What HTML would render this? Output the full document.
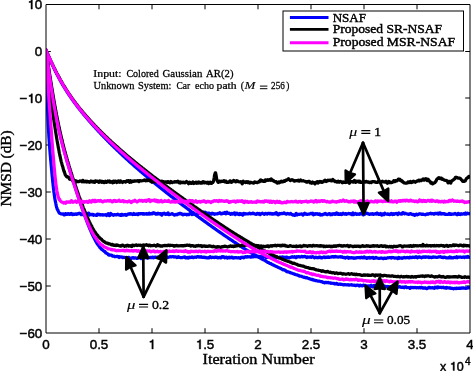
<!DOCTYPE html>
<html><head><meta charset="utf-8"><style>
html,body{margin:0;padding:0;background:#fff;}
svg{display:block;will-change:transform;}
.tk{font-family:"Liberation Sans",sans-serif;font-size:13.4px;fill:#000;stroke:#000;stroke-width:0.45px;}
.sf{font-family:"Liberation Serif",serif;fill:#000;stroke:#000;stroke-width:0.35px;}
</style></head><body>
<svg width="473" height="371" viewBox="0 0 473 371">
<rect width="473" height="371" fill="#fff"/>
<defs><clipPath id="ax"><rect x="46" y="4.5" width="424" height="328.5"/></clipPath></defs>
<path d="M99.0 333.0 V328.2 M99.0 4.5 V9.3 M152.0 333.0 V328.2 M152.0 4.5 V9.3 M205.0 333.0 V328.2 M205.0 4.5 V9.3 M258.0 333.0 V328.2 M258.0 4.5 V9.3 M311.0 333.0 V328.2 M311.0 4.5 V9.3 M364.0 333.0 V328.2 M364.0 4.5 V9.3 M417.0 333.0 V328.2 M417.0 4.5 V9.3 M46.0 51.50 H50.8 M470.0 51.50 H465.2 M46.0 98.00 H50.8 M470.0 98.00 H465.2 M46.0 145.00 H50.8 M470.0 145.00 H465.2 M46.0 192.00 H50.8 M470.0 192.00 H465.2 M46.0 239.00 H50.8 M470.0 239.00 H465.2 M46.0 286.00 H50.8 M470.0 286.00 H465.2" stroke="#000" stroke-width="1" fill="none"/>
<g clip-path="url(#ax)" fill="none" stroke-width="3.2" stroke-linejoin="round" stroke-linecap="round">
<path d="M46.0 50.2L46.0 50.6L46.0 51.0L46.0 51.4L46.0 51.8L46.0 52.2L46.1 52.6L46.1 53.0L46.1 53.4L46.1 53.8L46.1 54.2L46.1 54.6L46.1 55.0L46.1 55.4L46.1 55.8L46.1 56.2L46.2 56.6L46.2 57.0L46.2 57.4L46.2 57.8L46.2 58.2L46.2 58.6L46.2 59.0L46.2 59.4L46.2 59.8L46.2 60.2L46.3 60.6L46.3 61.0L46.3 61.4L46.3 61.8L46.3 62.2L46.3 62.6L46.3 63.0L46.3 63.4L46.3 63.8L46.3 64.2L46.4 64.6L46.4 65.0L46.4 65.4L46.4 65.8L46.4 66.2L46.4 66.6L46.4 67.0L46.4 67.4L46.4 67.8L46.4 68.2L46.5 68.6L46.5 69.0L46.5 69.4L46.5 69.8L46.5 70.2L46.5 70.6L46.5 71.0L46.5 71.4L46.5 71.8L46.5 72.2L46.6 72.6L46.6 73.0L46.6 73.4L46.6 73.8L46.6 74.2L46.6 74.6L46.6 75.0L46.6 75.4L46.6 75.8L46.7 76.2L46.7 76.6L46.7 77.0L46.7 77.4L46.7 77.8L46.7 78.2L46.7 78.6L46.7 79.0L46.7 79.4L46.7 79.8L46.8 80.2L46.8 80.6L46.8 81.0L46.8 81.4L46.8 81.8L46.8 82.2L46.8 82.6L46.8 83.0L46.8 83.4L46.9 83.8L46.9 84.2L46.9 84.6L46.9 85.0L46.9 85.4L46.9 85.8L46.9 86.2L46.9 86.6L46.9 87.0L47.0 87.4L47.0 87.8L47.0 88.2L47.0 88.6L47.0 89.0L47.0 89.4L47.0 89.8L47.0 90.2L47.0 90.6L47.1 91.0L47.1 91.4L47.1 91.8L47.1 92.2L47.1 92.6L47.1 93.0L47.1 93.4L47.1 93.8L47.1 94.2L47.2 94.6L47.2 95.0L47.2 95.4L47.2 95.8L47.2 96.2L47.2 96.6L47.2 97.0L47.2 97.4L47.3 97.8L47.3 98.2L47.3 98.6L47.3 99.0L47.3 99.4L47.3 99.8L47.3 100.2L47.3 100.6L47.4 101.0L47.4 101.4L47.4 101.8L47.4 102.2L47.4 102.6L47.4 103.0L47.4 103.4L47.4 103.8L47.5 104.2L47.5 104.6L47.5 105.0L47.5 105.4L47.5 105.8L47.5 106.2L47.5 106.6L47.6 107.0L47.6 107.4L47.6 107.8L47.6 108.2L47.6 108.6L47.6 109.0L47.6 109.4L47.6 109.8L47.7 110.2L47.7 110.6L47.7 111.0L47.7 111.4L47.7 111.8L47.7 112.2L47.8 112.6L47.8 113.0L47.8 113.4L47.8 113.8L47.8 114.2L47.8 114.6L47.8 115.0L47.9 115.4L47.9 115.8L47.9 116.2L47.9 116.6L47.9 117.0L47.9 117.4L48.0 117.8L48.0 118.2L48.0 118.6L48.0 119.0L48.0 119.4L48.0 119.8L48.1 120.2L48.1 120.6L48.1 121.0L48.1 121.4L48.1 121.8L48.1 122.2L48.2 122.6L48.2 123.0L48.2 123.4L48.2 123.8L48.2 124.2L48.2 124.6L48.3 125.0L48.3 125.4L48.3 125.8L48.3 126.2L48.3 126.6L48.4 127.0L48.4 127.4L48.4 127.8L48.4 128.2L48.4 128.6L48.5 129.0L48.5 129.4L48.5 129.8L48.5 130.2L48.6 130.6L48.6 131.0L48.6 131.4L48.6 131.8L48.6 132.2L48.7 132.6L48.7 133.0L48.7 133.3L48.7 133.7L48.8 134.2L48.8 134.6L48.8 135.0L48.8 135.4L48.8 135.8L48.9 136.2L48.9 136.6L48.9 136.9L48.9 137.3L49.0 137.8L49.0 138.2L49.0 138.5L49.1 138.9L49.1 139.4L49.1 139.8L49.1 140.2L49.2 140.5L49.2 140.9L49.2 141.3L49.2 141.7L49.3 142.1L49.3 142.6L49.3 143.0L49.4 143.4L49.4 143.7L49.4 144.1L49.4 144.5L49.5 144.9L49.5 145.3L49.5 145.7L49.6 146.1L49.6 146.5L49.6 146.9L49.7 147.3L49.7 147.7L49.7 148.1L49.7 148.5L49.8 148.9L49.8 149.3L49.8 149.7L49.9 150.1L49.9 150.5L49.9 150.9L50.0 151.3L50.0 151.7L50.0 152.1L50.1 152.5L50.1 152.9L50.1 153.3L50.2 153.7L50.2 154.0L50.2 154.5L50.3 154.9L50.3 155.3L50.3 155.7L50.4 156.1L50.4 156.5L50.4 156.9L50.5 157.3L50.5 157.7L50.5 158.1L50.6 158.5L50.6 158.9L50.6 159.3L50.7 159.7L50.7 160.1L50.7 160.4L50.8 160.9L50.8 161.3L50.9 161.7L50.9 162.1L50.9 162.5L51.0 162.8L51.0 163.2L51.0 163.6L51.1 164.1L51.1 164.5L51.1 164.8L51.2 165.2L51.2 165.7L51.2 166.1L51.3 166.4L51.3 166.8L51.4 167.2L51.4 167.6L51.4 168.0L51.5 168.5L51.5 168.9L51.5 169.3L51.6 169.7L51.6 170.1L51.7 170.4L51.7 170.9L51.7 171.2L51.8 171.6L51.8 172.0L51.8 172.5L51.9 172.9L51.9 173.3L52.0 173.7L52.0 174.2L52.0 174.6L52.1 175.0L52.1 175.4L52.2 175.7L52.2 176.1L52.2 176.5L52.3 176.9L52.3 177.3L52.4 177.6L52.4 178.0L52.4 178.4L52.5 178.9L52.5 179.2L52.6 179.6L52.6 180.1L52.6 180.5L52.7 180.9L52.7 181.4L52.8 181.9L52.8 182.2L52.8 182.6L52.9 183.0L52.9 183.3L53.0 183.7L53.0 184.1L53.1 184.7L53.1 185.1L53.1 185.4L53.2 185.7L53.2 186.1L53.3 186.6L53.3 187.0L53.4 187.3L53.4 187.7L53.5 188.3L53.5 188.8L53.6 189.2L53.6 189.5L53.7 189.8L53.7 190.2L53.8 190.6L53.8 191.1L53.8 191.6L53.9 192.1L54.0 192.4L54.0 192.7L54.1 193.0L54.1 193.2L54.2 193.7L54.2 194.2L54.3 194.9L54.3 195.3L54.4 195.5L54.4 195.6L54.5 195.9L54.5 196.6L54.6 197.2L54.7 197.4L54.7 197.8L54.8 198.2L54.8 198.4L54.9 199.0L55.0 199.6L55.0 199.8L55.1 200.1L55.2 200.5L55.2 200.7L55.3 201.2L55.4 201.7L55.5 202.0L55.5 202.4L55.6 202.6L55.7 202.7L55.8 203.3L55.9 203.8L55.9 204.2L56.0 204.7L56.1 205.2L56.2 205.5L56.3 205.9L56.4 206.2L56.5 206.8L56.6 207.4L56.8 207.7L56.9 207.8L57.0 208.2L57.1 209.0L57.3 209.4L57.4 209.6L57.6 209.8L57.8 209.9L57.9 210.1L58.1 210.7L58.3 211.4L58.6 211.8L58.8 212.1L59.1 212.7L59.4 213.1L59.7 213.3L60.0 213.5L60.3 213.5L60.7 213.6L61.0 213.9L61.4 214.0L61.7 214.0L62.1 214.0L62.4 214.2L62.8 214.0L63.1 213.8L63.5 213.8L63.8 214.4L64.2 214.9L64.5 214.9L64.9 214.4L65.2 213.7L65.6 213.6L65.9 213.7L66.3 214.0L66.6 214.4L67.0 214.4L67.3 214.3L67.7 214.1L68.0 213.7L68.4 213.5L68.7 213.7L69.1 214.1L69.4 214.4L69.8 214.5L70.1 214.3L70.5 213.7L70.8 213.6L71.2 213.7L71.5 213.5L71.9 213.8L72.2 214.4L72.6 214.7L72.9 214.6L73.3 214.2L73.6 214.1L74.0 214.3L74.3 214.1L74.7 214.3L75.0 214.4L75.4 214.0L75.7 213.8L76.1 214.0L76.4 214.3L76.8 214.3L77.1 214.2L77.5 214.0L77.8 213.5L78.2 213.5L78.5 213.8L78.9 213.5L79.2 213.2L79.6 213.3L79.9 213.5L80.3 213.7L80.6 213.8L81.0 214.3L81.3 214.7L81.7 214.6L82.0 214.6L82.4 214.3L82.7 213.8L83.1 213.7L83.4 213.9L83.8 214.1L84.1 214.1L84.5 214.5L84.8 214.2L85.2 213.8L85.5 214.4L85.9 214.7L86.2 214.3L86.6 214.1L86.9 213.7L87.3 213.7L87.6 213.7L88.0 213.7L88.3 213.2L88.7 213.2L89.0 214.3L89.4 215.0L89.7 214.6L90.1 214.5L90.4 214.4L90.8 214.4L91.1 214.7L91.5 214.8L91.8 214.3L92.2 214.4L92.5 214.4L92.9 214.3L93.2 215.1L93.6 215.3L93.9 214.9L94.3 215.0L94.6 214.9L95.0 214.8L95.3 215.1L95.7 215.1L96.0 215.1L96.4 215.5L96.7 215.5L97.1 215.0L97.4 214.2L97.8 214.2L98.1 214.7L98.5 214.6L98.8 214.5L99.2 214.4L99.5 214.4L99.9 214.6L100.2 215.0L100.6 214.7L100.9 214.7L101.3 214.9L101.6 215.0L102.0 214.6L102.3 214.6L102.7 214.9L103.0 215.1L103.4 215.0L103.7 214.8L104.1 214.8L104.4 214.8L104.8 214.9L105.1 214.8L105.5 214.6L105.8 214.8L106.2 215.3L106.5 215.5L106.9 215.1L107.2 215.0L107.6 214.9L107.9 214.0L108.3 213.6L108.6 214.0L109.0 214.9L109.3 215.6L109.7 215.5L110.0 215.2L110.4 214.4L110.7 213.5L111.1 213.7L111.4 214.7L111.8 214.7L112.1 214.5L112.5 214.7L112.8 214.7L113.2 215.2L113.5 215.3L113.9 214.7L114.2 214.5L114.6 214.7L114.9 214.7L115.3 214.8L115.6 214.7L116.0 215.0L116.3 214.9L116.7 214.6L117.0 214.5L117.4 214.5L117.7 214.2L118.1 214.4L118.4 214.7L118.8 214.8L119.1 214.8L119.5 215.1L119.8 214.8L120.2 214.7L120.5 215.4L120.9 215.5L121.2 214.9L121.6 214.4L121.9 214.5L122.3 214.4L122.6 214.7L123.0 215.2L123.3 215.0L123.7 214.8L124.0 214.7L124.4 214.7L124.7 214.9L125.1 214.8L125.4 214.5L125.8 214.8L126.1 215.3L126.5 214.9L126.8 214.7L127.2 214.9L127.5 214.4L127.9 214.0L128.2 214.1L128.6 213.9L128.9 213.9L129.3 214.1L129.6 213.9L130.0 213.7L130.3 213.6L130.7 213.9L131.0 214.1L131.4 213.9L131.7 214.0L132.1 214.4L132.4 214.4L132.8 214.6L133.1 214.5L133.5 213.9L133.8 213.5L134.2 213.9L134.5 214.3L134.9 214.4L135.2 214.3L135.6 214.5L135.9 214.4L136.3 214.0L136.6 214.2L137.0 214.1L137.3 213.8L137.7 214.1L138.0 214.6L138.4 214.3L138.7 213.6L139.1 213.7L139.4 213.8L139.8 213.8L140.1 213.5L140.5 213.5L140.8 213.8L141.2 213.7L141.5 213.6L141.9 213.6L142.2 213.7L142.6 214.1L142.9 214.1L143.3 213.6L143.6 213.5L144.0 213.8L144.3 214.2L144.7 214.2L145.0 214.0L145.4 213.8L145.7 213.8L146.1 213.6L146.4 213.6L146.8 214.0L147.1 213.8L147.5 213.8L147.8 214.2L148.2 214.1L148.5 213.8L148.9 213.4L149.2 213.2L149.6 213.8L149.9 214.1L150.3 213.9L150.6 213.9L151.0 213.5L151.3 213.4L151.7 213.8L152.0 213.9L152.4 213.9L152.7 213.4L153.1 213.0L153.4 212.7L153.8 212.8L154.1 212.9L154.5 213.1L154.8 213.5L155.2 213.3L155.5 213.4L155.9 214.2L156.2 213.8L156.6 213.6L156.9 214.2L157.3 214.2L157.6 213.5L158.0 213.1L158.3 213.5L158.7 214.0L159.0 213.9L159.4 213.7L159.7 214.0L160.1 214.1L160.4 213.6L160.8 213.5L161.1 213.8L161.5 214.8L161.8 215.1L162.2 214.7L162.5 214.2L162.9 213.9L163.2 213.4L163.6 213.5L163.9 213.3L164.3 213.2L164.6 213.5L165.0 213.9L165.3 214.3L165.7 214.4L166.0 214.1L166.4 213.9L166.7 214.1L167.1 214.3L167.4 214.2L167.8 213.4L168.1 212.9L168.5 213.8L168.8 214.7L169.2 214.5L169.5 214.3L169.9 214.4L170.2 214.4L170.6 214.2L170.9 214.0L171.3 214.0L171.6 213.9L172.0 213.6L172.3 213.6L172.7 214.0L173.0 214.5L173.4 214.5L173.7 214.5L174.1 214.7L174.4 215.0L174.8 214.8L175.1 214.8L175.5 214.9L175.8 214.5L176.2 214.4L176.5 214.7L176.9 214.8L177.2 214.5L177.6 214.2L177.9 214.0L178.3 213.8L178.6 214.1L179.0 213.8L179.3 213.4L179.7 213.4L180.0 213.3L180.4 213.4L180.7 213.8L181.1 213.9L181.4 214.1L181.8 213.9L182.1 214.1L182.5 214.6L182.8 214.9L183.2 214.8L183.5 214.5L183.9 214.3L184.2 214.4L184.6 214.5L184.9 214.3L185.3 214.3L185.6 214.3L186.0 214.3L186.3 214.6L186.7 214.8L187.0 214.4L187.4 214.3L187.7 214.5L188.1 214.6L188.4 214.6L188.8 214.6L189.1 214.4L189.5 213.8L189.8 213.7L190.2 213.7L190.5 213.8L190.9 213.5L191.2 213.6L191.6 214.1L191.9 214.6L192.3 214.5L192.6 214.4L193.0 214.2L193.3 213.4L193.7 212.9L194.0 213.3L194.4 213.8L194.7 214.4L195.1 214.4L195.4 214.1L195.8 214.6L196.1 214.7L196.5 214.3L196.8 214.2L197.2 214.4L197.5 213.8L197.9 213.3L198.2 213.1L198.6 213.0L198.9 213.2L199.3 213.4L199.6 213.4L200.0 213.3L200.3 213.2L200.7 213.3L201.0 213.2L201.4 213.1L201.7 212.8L202.1 212.9L202.4 212.9L202.8 212.9L203.1 212.6L203.5 212.1L203.8 212.4L204.2 213.1L204.5 213.1L204.9 212.4L205.2 212.1L205.6 212.5L205.9 212.9L206.3 212.9L206.6 213.1L207.0 213.6L207.3 213.9L207.7 213.6L208.0 213.2L208.4 213.2L208.7 213.1L209.1 213.0L209.4 213.5L209.8 213.5L210.1 213.6L210.5 214.0L210.8 214.1L211.2 214.1L211.5 214.2L211.9 213.7L212.2 213.2L212.6 213.3L212.9 213.6L213.3 213.5L213.6 213.5L214.0 213.9L214.3 214.3L214.7 214.4L215.0 214.1L215.4 213.8L215.7 213.9L216.1 213.9L216.4 213.8L216.8 214.0L217.1 213.8L217.5 213.6L217.8 213.8L218.2 213.7L218.5 213.4L218.9 213.0L219.2 213.0L219.6 212.9L219.9 212.7L220.3 213.0L220.6 213.8L221.0 213.8L221.3 213.7L221.7 213.8L222.0 213.6L222.4 213.4L222.7 213.1L223.1 213.2L223.4 213.4L223.8 213.5L224.1 213.3L224.5 212.7L224.8 212.4L225.2 212.9L225.5 213.6L225.9 213.8L226.2 213.3L226.6 212.4L226.9 212.2L227.3 212.8L227.6 213.2L228.0 213.4L228.3 213.5L228.7 213.4L229.0 213.1L229.4 213.2L229.7 213.6L230.1 213.8L230.4 214.1L230.8 214.4L231.1 214.0L231.5 213.6L231.8 213.4L232.2 213.6L232.5 214.0L232.9 214.1L233.2 214.0L233.6 213.9L233.9 213.6L234.3 212.8L234.6 212.9L235.0 214.2L235.3 214.5L235.7 213.8L236.0 213.2L236.4 213.4L236.7 213.7L237.1 213.2L237.4 213.6L237.8 214.2L238.1 214.3L238.5 214.3L238.8 214.5L239.2 214.6L239.5 213.9L239.9 213.5L240.2 214.1L240.6 214.5L240.9 214.4L241.3 214.3L241.6 213.9L242.0 213.8L242.3 214.6L242.7 215.0L243.0 214.7L243.4 213.9L243.7 213.4L244.1 213.4L244.4 213.8L244.8 214.2L245.1 214.0L245.5 213.6L245.8 213.8L246.2 213.9L246.5 213.9L246.9 213.9L247.2 213.9L247.6 214.0L247.9 214.0L248.3 213.8L248.6 213.7L249.0 213.7L249.3 213.4L249.7 213.1L250.0 213.5L250.4 213.8L250.7 213.9L251.1 213.7L251.4 213.6L251.8 213.7L252.1 213.5L252.5 213.2L252.8 213.2L253.2 213.6L253.5 213.3L253.9 213.3L254.2 213.8L254.6 213.9L254.9 214.0L255.3 214.1L255.6 214.2L256.0 214.4L256.3 214.4L256.7 213.7L257.0 213.4L257.4 213.4L257.7 213.4L258.1 213.8L258.4 214.0L258.8 213.5L259.1 213.4L259.5 213.8L259.8 214.2L260.2 214.6L260.5 214.3L260.9 213.9L261.2 213.6L261.6 213.6L261.9 213.4L262.3 213.2L262.6 213.4L263.0 213.5L263.3 213.5L263.7 213.8L264.0 214.3L264.4 214.4L264.7 214.1L265.1 213.5L265.4 213.3L265.8 213.5L266.1 213.7L266.5 213.7L266.8 213.8L267.2 214.1L267.5 213.8L267.9 213.4L268.2 213.4L268.6 213.5L268.9 213.5L269.3 213.4L269.6 213.6L270.0 213.9L270.3 213.7L270.7 213.4L271.0 213.4L271.4 213.8L271.7 214.1L272.1 214.1L272.4 213.7L272.8 213.6L273.1 214.1L273.5 214.1L273.8 214.0L274.2 213.7L274.5 213.4L274.9 213.5L275.2 213.9L275.6 214.0L275.9 213.3L276.3 212.6L276.6 213.1L277.0 213.9L277.3 214.3L277.7 214.6L278.0 214.9L278.4 214.8L278.7 214.5L279.1 214.0L279.4 213.5L279.8 213.8L280.1 213.8L280.5 213.6L280.8 213.8L281.2 213.7L281.5 213.5L281.9 213.4L282.2 213.5L282.6 213.6L282.9 213.6L283.3 213.4L283.6 213.0L284.0 212.9L284.3 212.9L284.7 213.3L285.0 213.8L285.4 213.8L285.7 213.8L286.1 214.0L286.4 214.2L286.8 213.8L287.1 213.7L287.5 213.4L287.8 213.5L288.2 213.7L288.5 213.8L288.9 214.0L289.2 214.1L289.6 213.8L289.9 213.8L290.3 213.6L290.6 213.4L291.0 213.7L291.3 214.1L291.7 214.4L292.0 214.5L292.4 214.7L292.7 214.8L293.1 215.1L293.4 215.0L293.8 214.9L294.1 215.0L294.5 215.2L294.8 215.4L295.2 215.2L295.5 214.4L295.9 213.6L296.2 213.4L296.6 214.1L296.9 214.8L297.3 214.8L297.6 214.6L298.0 214.4L298.3 214.3L298.7 214.4L299.0 214.4L299.4 214.2L299.7 214.3L300.1 214.2L300.4 214.2L300.8 214.2L301.1 214.1L301.5 213.9L301.8 213.9L302.2 214.1L302.5 214.5L302.9 215.1L303.2 214.6L303.6 214.1L303.9 213.9L304.3 213.5L304.6 213.3L305.0 213.9L305.3 214.1L305.7 213.8L306.0 213.8L306.4 213.8L306.7 214.1L307.1 214.4L307.4 214.4L307.8 214.3L308.1 214.1L308.5 214.2L308.8 214.1L309.2 214.2L309.5 214.2L309.9 213.8L310.2 213.6L310.6 213.7L310.9 213.4L311.3 213.3L311.6 213.5L312.0 213.9L312.3 213.6L312.7 213.3L313.0 214.1L313.4 214.9L313.7 214.7L314.1 214.0L314.4 213.9L314.8 214.2L315.1 214.3L315.5 213.9L315.8 213.7L316.2 214.1L316.5 214.0L316.9 213.6L317.2 213.7L317.6 214.0L317.9 214.1L318.3 214.4L318.6 214.5L319.0 214.3L319.3 213.9L319.7 213.8L320.0 214.4L320.4 215.0L320.7 215.1L321.1 214.6L321.4 214.5L321.8 215.0L322.1 215.0L322.5 214.8L322.8 214.5L323.2 214.2L323.5 214.2L323.9 214.1L324.2 214.1L324.6 214.1L324.9 213.7L325.3 213.4L325.6 213.7L326.0 214.2L326.3 214.3L326.7 214.2L327.0 214.5L327.4 214.7L327.7 214.5L328.1 214.1L328.4 214.1L328.8 213.9L329.1 213.6L329.5 213.5L329.8 213.8L330.2 214.2L330.5 214.7L330.9 214.4L331.2 214.1L331.6 214.2L331.9 214.5L332.3 214.0L332.6 213.8L333.0 213.7L333.3 213.9L333.7 214.2L334.0 214.2L334.4 213.8L334.7 214.1L335.1 214.4L335.4 214.1L335.8 213.7L336.1 213.2L336.5 213.0L336.8 213.7L337.2 214.2L337.5 213.7L337.9 213.4L338.2 213.8L338.6 214.2L338.9 214.5L339.3 214.5L339.6 214.1L340.0 213.8L340.3 213.7L340.7 214.2L341.0 214.4L341.4 214.6L341.7 214.5L342.1 214.1L342.4 213.8L342.8 213.3L343.1 213.2L343.5 213.6L343.8 213.8L344.2 213.8L344.5 214.1L344.9 214.2L345.2 214.0L345.6 213.6L345.9 213.5L346.3 214.1L346.6 214.3L347.0 214.0L347.3 213.8L347.7 213.8L348.0 213.8L348.4 213.5L348.7 213.3L349.1 213.7L349.4 213.5L349.8 213.6L350.1 213.8L350.5 213.8L350.8 213.7L351.2 214.3L351.5 214.6L351.9 214.6L352.2 214.4L352.6 213.4L352.9 212.9L353.3 213.8L353.6 214.6L354.0 214.5L354.3 214.0L354.7 213.9L355.0 213.7L355.4 213.3L355.7 213.4L356.1 213.9L356.4 214.3L356.8 214.3L357.1 214.4L357.5 214.0L357.8 213.8L358.2 214.2L358.5 214.1L358.9 214.3L359.2 214.4L359.6 213.8L359.9 213.6L360.3 214.0L360.6 213.8L361.0 213.3L361.3 213.2L361.7 213.7L362.0 214.1L362.4 214.1L362.7 214.4L363.1 214.8L363.4 214.9L363.8 214.8L364.1 214.3L364.5 213.8L364.8 214.1L365.2 214.1L365.5 213.7L365.9 213.2L366.2 213.0L366.6 213.2L366.9 213.5L367.3 213.4L367.6 213.4L368.0 213.7L368.3 214.0L368.7 214.0L369.0 214.2L369.4 214.4L369.7 214.2L370.1 214.0L370.4 213.9L370.8 214.0L371.1 214.2L371.5 214.1L371.8 213.8L372.2 213.6L372.5 213.7L372.9 214.0L373.2 214.5L373.6 214.4L373.9 213.9L374.3 214.0L374.6 214.0L375.0 214.0L375.3 213.7L375.7 213.6L376.0 214.1L376.4 214.1L376.7 213.3L377.1 213.0L377.4 213.2L377.8 213.4L378.1 213.8L378.5 214.3L378.8 214.5L379.2 214.3L379.5 214.5L379.9 214.4L380.2 213.7L380.6 213.5L380.9 214.0L381.3 214.6L381.6 215.1L382.0 215.0L382.3 214.7L382.7 214.5L383.0 213.9L383.4 213.8L383.7 214.1L384.1 214.5L384.4 213.9L384.8 213.2L385.1 213.7L385.5 213.9L385.8 214.0L386.2 214.0L386.5 214.1L386.9 214.2L387.2 214.0L387.6 213.9L387.9 214.4L388.3 214.3L388.6 214.2L389.0 214.2L389.3 214.2L389.7 214.6L390.0 214.4L390.4 214.2L390.7 214.0L391.1 213.5L391.4 213.4L391.8 213.9L392.1 214.3L392.5 214.5L392.8 214.1L393.2 213.7L393.5 214.0L393.9 214.4L394.2 214.3L394.6 213.9L394.9 213.6L395.3 213.8L395.6 213.7L396.0 213.6L396.3 213.4L396.7 213.6L397.0 213.7L397.4 214.2L397.7 214.6L398.1 214.1L398.4 213.3L398.8 212.9L399.1 213.2L399.5 213.7L399.8 213.8L400.2 213.7L400.5 213.8L400.9 213.9L401.2 214.1L401.6 214.2L401.9 213.8L402.3 213.3L402.6 212.7L403.0 212.6L403.3 212.8L403.7 213.0L404.0 213.6L404.4 213.8L404.7 213.5L405.1 213.3L405.4 213.3L405.8 213.5L406.1 213.5L406.5 213.8L406.8 213.9L407.2 214.0L407.5 214.1L407.9 214.0L408.2 214.1L408.6 214.4L408.9 214.3L409.3 214.2L409.6 214.0L410.0 213.7L410.3 213.6L410.7 213.6L411.0 213.8L411.4 213.8L411.7 214.1L412.1 214.5L412.4 214.5L412.8 214.7L413.1 214.7L413.5 214.5L413.8 214.3L414.2 214.8L414.5 215.4L414.9 215.3L415.2 215.0L415.6 214.8L415.9 214.6L416.3 214.1L416.6 214.2L417.0 214.7L417.3 214.8L417.7 214.6L418.0 214.4L418.4 214.4L418.7 214.2L419.1 213.9L419.4 213.9L419.8 214.0L420.1 213.8L420.5 213.8L420.8 214.0L421.2 214.1L421.5 214.4L421.9 214.4L422.2 214.2L422.6 214.0L422.9 214.1L423.3 214.5L423.6 214.5L424.0 214.4L424.3 214.5L424.7 214.5L425.0 214.7L425.4 214.8L425.7 214.5L426.1 214.4L426.4 214.3L426.8 214.0L427.1 213.8L427.5 214.2L427.8 214.3L428.2 214.1L428.5 214.0L428.9 213.8L429.2 213.7L429.6 213.6L429.9 213.3L430.3 213.3L430.6 213.2L431.0 213.6L431.3 213.9L431.7 213.7L432.0 213.6L432.4 213.7L432.7 213.6L433.1 213.5L433.4 213.7L433.8 214.2L434.1 214.2L434.5 213.7L434.8 213.4L435.2 213.4L435.5 213.3L435.9 213.4L436.2 213.5L436.6 213.7L436.9 213.5L437.3 213.8L437.6 213.6L438.0 213.1L438.3 213.4L438.7 214.1L439.0 213.8L439.4 213.0L439.7 212.8L440.1 212.8L440.4 212.9L440.8 213.4L441.1 214.0L441.5 213.8L441.8 213.5L442.2 213.5L442.5 213.8L442.9 213.8L443.2 213.7L443.6 213.8L443.9 213.5L444.3 213.5L444.6 214.1L445.0 214.3L445.3 214.0L445.7 214.1L446.0 214.4L446.4 214.5L446.7 214.5L447.1 214.5L447.4 214.3L447.8 214.3L448.1 214.4L448.5 214.3L448.8 214.2L449.2 213.5L449.5 213.6L449.9 214.4L450.2 214.3L450.6 214.0L450.9 214.3L451.3 214.4L451.6 214.2L452.0 214.2L452.3 214.1L452.7 214.1L453.0 214.2L453.4 214.2L453.7 213.8L454.1 213.9L454.4 214.0L454.8 213.5L455.1 213.4L455.5 213.9L455.8 214.1L456.2 214.0L456.5 214.0L456.9 214.2L457.2 214.7L457.6 214.0L457.9 213.5L458.3 213.4L458.6 213.9L459.0 214.4L459.3 214.3L459.7 214.2L460.0 214.2L460.4 214.5L460.7 214.1L461.1 213.7L461.4 214.0L461.8 214.1L462.1 214.2L462.5 214.2L462.8 214.1L463.2 213.9L463.5 213.5L463.9 213.5L464.2 214.0L464.6 214.1L464.9 213.9L465.3 213.5L465.6 213.0L466.0 213.4L466.3 214.0L466.7 213.8L467.0 213.4L467.4 213.2L467.7 213.4L468.1 213.6L468.4 213.7L468.8 213.6L469.1 213.5L469.5 213.5L469.8 213.7L470.0 213.9" stroke="#0000ff"/>
<path d="M46.0 50.2L46.1 50.6L46.1 51.0L46.2 51.4L46.2 51.8L46.3 52.2L46.3 52.6L46.4 53.0L46.4 53.4L46.5 53.8L46.5 54.2L46.6 54.6L46.7 55.0L46.7 55.4L46.8 55.8L46.8 56.1L46.9 56.5L46.9 56.9L47.0 57.3L47.0 57.7L47.1 58.1L47.2 58.5L47.2 58.9L47.3 59.3L47.3 59.7L47.4 60.1L47.4 60.5L47.5 60.9L47.5 61.3L47.6 61.7L47.7 62.1L47.7 62.5L47.8 62.9L47.8 63.3L47.9 63.7L47.9 64.1L48.0 64.5L48.1 64.9L48.1 65.3L48.2 65.7L48.2 66.0L48.3 66.4L48.3 66.8L48.4 67.2L48.5 67.6L48.5 68.0L48.6 68.4L48.6 68.8L48.7 69.2L48.7 69.6L48.8 70.0L48.9 70.4L48.9 70.8L49.0 71.2L49.0 71.6L49.1 72.0L49.1 72.4L49.2 72.8L49.3 73.2L49.3 73.6L49.4 74.0L49.4 74.4L49.5 74.8L49.5 75.1L49.6 75.5L49.7 75.9L49.7 76.3L49.8 76.7L49.8 77.1L49.9 77.5L50.0 77.9L50.0 78.3L50.1 78.7L50.1 79.1L50.2 79.5L50.3 79.9L50.3 80.3L50.4 80.7L50.4 81.1L50.5 81.5L50.6 81.9L50.6 82.3L50.7 82.7L50.7 83.1L50.8 83.4L50.9 83.8L50.9 84.2L51.0 84.6L51.0 85.0L51.1 85.4L51.2 85.8L51.2 86.2L51.3 86.6L51.3 87.0L51.4 87.4L51.5 87.8L51.5 88.2L51.6 88.6L51.6 89.0L51.7 89.4L51.8 89.8L51.8 90.2L51.9 90.6L52.0 91.0L52.0 91.3L52.1 91.7L52.1 92.1L52.2 92.5L52.3 92.9L52.3 93.3L52.4 93.7L52.5 94.1L52.5 94.5L52.6 94.9L52.7 95.3L52.7 95.7L52.8 96.1L52.8 96.5L52.9 96.9L53.0 97.3L53.0 97.7L53.1 98.1L53.2 98.4L53.2 98.8L53.3 99.2L53.4 99.6L53.4 100.0L53.5 100.4L53.6 100.8L53.6 101.2L53.7 101.6L53.8 102.0L53.8 102.4L53.9 102.8L54.0 103.2L54.0 103.6L54.1 104.0L54.2 104.4L54.2 104.7L54.3 105.1L54.4 105.5L54.4 105.9L54.5 106.3L54.6 106.7L54.7 107.1L54.7 107.5L54.8 107.9L54.9 108.3L54.9 108.7L55.0 109.1L55.1 109.5L55.1 109.9L55.2 110.3L55.3 110.7L55.4 111.0L55.4 111.4L55.5 111.8L55.6 112.2L55.6 112.6L55.7 113.0L55.8 113.4L55.9 113.8L55.9 114.2L56.0 114.6L56.1 115.0L56.2 115.4L56.2 115.8L56.3 116.1L56.4 116.5L56.5 116.9L56.5 117.3L56.6 117.7L56.7 118.1L56.8 118.5L56.8 118.9L56.9 119.3L57.0 119.7L57.1 120.1L57.1 120.5L57.2 120.9L57.3 121.2L57.4 121.6L57.5 122.0L57.5 122.4L57.6 122.8L57.7 123.2L57.8 123.6L57.9 124.0L57.9 124.4L58.0 124.8L58.1 125.2L58.2 125.5L58.3 125.9L58.3 126.3L58.4 126.7L58.5 127.1L58.6 127.5L58.7 127.9L58.8 128.3L58.8 128.7L58.9 129.1L59.0 129.5L59.1 129.8L59.2 130.2L59.3 130.6L59.4 131.0L59.4 131.4L59.5 131.8L59.6 132.2L59.7 132.6L59.8 133.0L59.9 133.4L60.0 133.7L60.1 134.1L60.1 134.5L60.2 134.9L60.3 135.3L60.4 135.7L60.5 136.1L60.6 136.5L60.7 136.9L60.8 137.2L60.9 137.6L61.0 138.0L61.1 138.4L61.2 138.8L61.2 139.2L61.3 139.6L61.4 140.0L61.5 140.3L61.6 140.7L61.7 141.1L61.8 141.5L61.9 141.9L62.0 142.3L62.1 142.7L62.2 143.1L62.3 143.4L62.4 143.8L62.5 144.2L62.6 144.6L62.7 145.0L62.8 145.4L62.9 145.8L63.0 146.2L63.1 146.5L63.2 146.9L63.3 147.3L63.4 147.7L63.5 148.1L63.6 148.5L63.7 148.9L63.8 149.3L63.9 149.6L64.0 150.0L64.1 150.4L64.2 150.8L64.3 151.2L64.4 151.6L64.5 152.0L64.6 152.3L64.7 152.7L64.8 153.1L64.9 153.5L65.1 153.9L65.2 154.3L65.3 154.7L65.4 155.0L65.5 155.4L65.6 155.8L65.7 156.2L65.8 156.6L65.9 157.0L66.0 157.3L66.1 157.7L66.2 158.1L66.3 158.5L66.5 158.9L66.6 159.3L66.7 159.6L66.8 160.0L66.9 160.4L67.0 160.8L67.1 161.2L67.2 161.6L67.3 162.0L67.5 162.3L67.6 162.7L67.7 163.1L67.8 163.5L67.9 163.9L68.0 164.2L68.1 164.6L68.2 165.0L68.4 165.4L68.5 165.8L68.6 166.2L68.7 166.6L68.8 166.9L68.9 167.3L69.0 167.7L69.2 168.1L69.3 168.5L69.4 168.9L69.5 169.2L69.6 169.6L69.7 170.0L69.9 170.4L70.0 170.8L70.1 171.1L70.2 171.5L70.3 171.9L70.4 172.3L70.6 172.7L70.7 173.0L70.8 173.4L70.9 173.8L71.0 174.2L71.1 174.6L71.3 175.0L71.4 175.3L71.5 175.7L71.6 176.1L71.7 176.5L71.9 176.9L72.0 177.2L72.1 177.6L72.2 178.0L72.3 178.4L72.5 178.8L72.6 179.2L72.7 179.5L72.8 179.9L72.9 180.3L73.1 180.7L73.2 181.1L73.3 181.4L73.4 181.8L73.5 182.2L73.7 182.6L73.8 183.0L73.9 183.3L74.0 183.7L74.1 184.1L74.3 184.5L74.4 184.9L74.5 185.2L74.6 185.6L74.8 186.0L74.9 186.4L75.0 186.8L75.1 187.2L75.2 187.5L75.4 187.9L75.5 188.3L75.6 188.7L75.7 189.0L75.9 189.4L76.0 189.8L76.1 190.2L76.2 190.6L76.4 191.0L76.5 191.3L76.6 191.7L76.7 192.1L76.8 192.5L77.0 192.9L77.1 193.2L77.2 193.6L77.3 194.0L77.5 194.4L77.6 194.8L77.7 195.1L77.8 195.5L78.0 195.9L78.1 196.3L78.2 196.7L78.3 197.1L78.5 197.4L78.6 197.8L78.7 198.2L78.9 198.6L79.0 198.9L79.1 199.3L79.2 199.7L79.4 200.1L79.5 200.4L79.6 200.8L79.7 201.2L79.9 201.6L80.0 202.0L80.1 202.4L80.3 202.7L80.4 203.1L80.5 203.5L80.6 203.9L80.8 204.3L80.9 204.6L81.0 205.0L81.2 205.4L81.3 205.8L81.4 206.2L81.5 206.5L81.7 206.9L81.8 207.3L81.9 207.6L82.1 208.0L82.2 208.4L82.3 208.8L82.5 209.2L82.6 209.5L82.7 209.9L82.9 210.3L83.0 210.7L83.1 211.1L83.3 211.5L83.4 211.8L83.5 212.2L83.7 212.5L83.8 212.9L83.9 213.3L84.1 213.8L84.2 214.1L84.3 214.5L84.5 214.9L84.6 215.2L84.7 215.6L84.9 215.9L85.0 216.3L85.2 216.8L85.3 217.1L85.4 217.5L85.6 217.9L85.7 218.2L85.8 218.6L86.0 219.0L86.1 219.3L86.3 219.7L86.4 220.1L86.5 220.5L86.7 220.8L86.8 221.1L87.0 221.5L87.1 222.0L87.3 222.4L87.4 222.9L87.5 223.3L87.7 223.6L87.8 223.9L88.0 224.3L88.1 224.7L88.3 225.0L88.4 225.3L88.6 225.7L88.7 226.1L88.9 226.5L89.0 226.9L89.2 227.1L89.3 227.5L89.5 227.9L89.6 228.4L89.8 228.7L89.9 229.1L90.1 229.3L90.3 229.7L90.4 230.1L90.6 230.5L90.7 230.8L90.9 231.2L91.1 231.6L91.2 232.0L91.4 232.3L91.5 232.6L91.7 233.0L91.9 233.5L92.0 233.9L92.2 234.2L92.4 234.4L92.6 234.9L92.7 235.3L92.9 235.7L93.1 236.0L93.3 236.3L93.4 236.7L93.6 237.1L93.8 237.4L94.0 237.7L94.2 238.1L94.3 238.4L94.5 238.7L94.7 239.2L94.9 239.6L95.1 240.0L95.3 240.3L95.5 240.7L95.7 241.2L95.9 241.6L96.1 241.8L96.3 241.9L96.5 242.3L96.7 242.8L96.9 243.3L97.1 243.5L97.3 243.9L97.6 244.3L97.8 244.6L98.0 244.9L98.2 245.2L98.5 245.4L98.7 245.7L98.9 246.1L99.2 246.4L99.4 246.7L99.7 247.2L99.9 247.5L100.2 247.6L100.4 248.0L100.7 248.4L100.9 248.6L101.2 248.9L101.5 249.2L101.8 249.5L102.0 249.6L102.3 249.7L102.6 249.9L102.9 250.3L103.2 250.6L103.5 250.6L103.8 251.0L104.1 251.4L104.4 251.5L104.7 251.5L105.1 251.7L105.4 252.4L105.7 252.9L106.1 253.0L106.4 253.1L106.7 253.4L107.1 253.5L107.4 253.7L107.8 253.8L108.1 254.2L108.5 254.9L108.8 255.2L109.2 255.1L109.5 255.0L109.9 254.9L110.2 255.0L110.6 255.2L110.9 255.0L111.3 255.1L111.6 255.3L112.0 255.5L112.3 256.0L112.7 256.2L113.0 256.2L113.4 256.1L113.7 256.0L114.1 256.1L114.4 256.5L114.8 256.7L115.1 256.6L115.5 256.5L115.8 256.6L116.2 256.7L116.5 256.4L116.9 256.3L117.2 256.4L117.6 256.3L117.9 256.3L118.3 256.7L118.6 257.2L119.0 257.5L119.3 257.1L119.7 256.7L120.0 256.8L120.4 257.0L120.7 257.0L121.1 257.1L121.4 257.1L121.8 256.8L122.1 257.0L122.5 257.4L122.8 257.6L123.2 257.5L123.5 257.4L123.9 257.4L124.2 257.3L124.6 257.4L124.9 257.4L125.3 257.6L125.6 257.9L126.0 258.0L126.3 257.8L126.7 257.9L127.0 258.1L127.4 258.0L127.7 257.9L128.1 257.7L128.4 257.3L128.8 257.4L129.1 257.8L129.5 258.1L129.8 258.2L130.2 258.0L130.5 258.2L130.9 258.4L131.2 258.4L131.6 257.9L131.9 257.8L132.3 257.9L132.6 257.9L133.0 257.6L133.3 257.5L133.7 257.8L134.0 258.2L134.4 258.1L134.7 257.8L135.1 257.8L135.4 257.9L135.8 258.0L136.1 258.0L136.5 258.1L136.8 258.5L137.2 258.4L137.5 258.1L137.9 257.9L138.2 257.8L138.6 257.8L138.9 257.8L139.3 257.7L139.6 257.7L140.0 257.7L140.3 257.7L140.7 258.2L141.0 258.5L141.4 257.9L141.7 257.7L142.1 258.0L142.4 258.3L142.8 258.5L143.1 258.3L143.5 258.1L143.8 257.7L144.2 257.5L144.5 257.7L144.9 257.9L145.2 257.5L145.6 257.3L145.9 257.4L146.3 257.6L146.6 257.7L147.0 258.0L147.3 258.2L147.7 257.9L148.0 257.5L148.4 257.4L148.7 257.5L149.1 257.5L149.4 257.7L149.8 257.5L150.1 257.3L150.5 257.4L150.8 257.6L151.2 257.6L151.5 257.3L151.9 257.4L152.2 257.6L152.6 257.5L152.9 257.2L153.3 257.4L153.6 257.8L154.0 257.6L154.3 257.2L154.7 257.3L155.0 257.2L155.4 257.1L155.7 257.2L156.1 257.5L156.4 257.5L156.8 257.5L157.1 257.3L157.5 257.1L157.8 257.2L158.2 257.4L158.5 257.3L158.9 257.4L159.2 257.6L159.6 257.7L159.9 257.8L160.3 257.8L160.6 257.6L161.0 257.5L161.3 257.3L161.7 257.4L162.0 257.5L162.4 257.5L162.7 257.7L163.1 257.6L163.4 257.4L163.8 257.3L164.1 257.2L164.5 257.2L164.8 257.2L165.2 257.2L165.5 257.2L165.9 257.2L166.2 257.6L166.6 257.4L166.9 256.9L167.3 257.0L167.6 257.2L168.0 257.5L168.3 257.3L168.7 257.1L169.0 257.1L169.4 257.0L169.7 256.8L170.1 256.6L170.4 256.7L170.8 256.8L171.1 257.0L171.5 257.0L171.8 256.8L172.2 256.7L172.5 256.7L172.9 256.6L173.2 256.5L173.6 256.8L173.9 257.1L174.3 257.0L174.6 256.8L175.0 256.8L175.3 256.8L175.7 256.9L176.0 257.1L176.4 257.3L176.7 257.6L177.1 257.5L177.4 257.2L177.8 257.0L178.1 256.8L178.5 256.7L178.8 257.2L179.2 257.5L179.5 257.5L179.9 257.4L180.2 257.5L180.6 257.6L180.9 257.5L181.3 257.6L181.6 257.7L182.0 257.6L182.3 257.4L182.7 257.4L183.0 257.3L183.4 257.1L183.7 257.2L184.1 257.1L184.4 256.8L184.8 257.0L185.1 257.6L185.5 257.8L185.8 257.7L186.2 257.7L186.5 257.8L186.9 257.6L187.2 257.4L187.6 257.6L187.9 258.0L188.3 258.1L188.6 257.7L189.0 257.2L189.3 257.1L189.7 257.4L190.0 257.6L190.4 257.4L190.7 257.3L191.1 257.4L191.4 257.4L191.8 257.1L192.1 256.9L192.5 257.1L192.8 257.5L193.2 257.6L193.5 257.7L193.9 257.4L194.2 257.1L194.6 257.2L194.9 257.1L195.3 257.0L195.6 257.0L196.0 257.1L196.3 257.3L196.7 257.1L197.0 256.8L197.4 256.5L197.7 256.5L198.1 256.7L198.4 256.8L198.8 256.9L199.1 257.1L199.5 257.0L199.8 256.8L200.2 256.9L200.5 257.1L200.9 256.9L201.2 256.7L201.6 257.0L201.9 257.4L202.3 257.5L202.6 257.5L203.0 257.4L203.3 257.3L203.7 257.0L204.0 257.1L204.4 257.4L204.7 257.7L205.1 257.7L205.4 257.6L205.8 257.3L206.1 257.4L206.5 257.8L206.8 258.0L207.2 258.0L207.5 257.8L207.9 257.7L208.2 257.9L208.6 257.9L208.9 257.9L209.3 257.6L209.6 257.0L210.0 256.7L210.3 256.9L210.7 257.4L211.0 257.7L211.4 257.7L211.7 257.6L212.1 257.3L212.4 257.2L212.8 257.3L213.1 257.3L213.5 257.3L213.8 257.5L214.2 257.6L214.5 257.4L214.9 257.2L215.2 257.2L215.6 257.1L215.9 257.2L216.3 257.6L216.6 257.5L217.0 257.2L217.3 257.3L217.7 257.6L218.0 257.8L218.4 257.8L218.7 257.7L219.1 257.5L219.4 257.4L219.8 257.4L220.1 257.7L220.5 257.9L220.8 258.0L221.2 257.7L221.5 257.1L221.9 256.7L222.2 256.7L222.6 257.0L222.9 257.1L223.3 256.8L223.6 256.7L224.0 257.1L224.3 257.6L224.7 257.8L225.0 257.8L225.4 257.5L225.7 257.2L226.1 257.1L226.4 257.0L226.8 257.3L227.1 257.9L227.5 258.2L227.8 258.0L228.2 257.7L228.5 257.5L228.9 257.3L229.2 257.2L229.6 257.5L229.9 257.8L230.3 257.6L230.6 257.4L231.0 257.3L231.3 257.7L231.7 257.6L232.0 257.1L232.4 257.3L232.7 257.8L233.1 258.0L233.4 257.7L233.8 257.8L234.1 258.0L234.5 257.9L234.8 257.7L235.2 257.5L235.5 257.5L235.9 257.6L236.2 257.7L236.6 257.6L236.9 257.8L237.3 258.0L237.6 258.0L238.0 257.8L238.3 257.7L238.7 257.7L239.0 257.8L239.4 257.8L239.7 257.9L240.1 258.3L240.4 258.3L240.8 257.7L241.1 257.4L241.5 257.3L241.8 257.5L242.2 257.5L242.5 257.3L242.9 257.1L243.2 257.5L243.6 257.9L243.9 257.9L244.3 257.5L244.6 257.1L245.0 257.0L245.3 256.8L245.7 256.6L246.0 256.8L246.4 257.1L246.7 257.2L247.1 256.9L247.4 256.6L247.8 256.6L248.1 256.9L248.5 257.0L248.8 257.0L249.2 256.9L249.5 257.0L249.9 256.9L250.2 256.7L250.6 256.8L250.9 257.2L251.3 257.0L251.6 256.7L252.0 256.5L252.3 256.5L252.7 256.9L253.0 257.0L253.4 256.6L253.7 256.3L254.1 256.0L254.4 256.4L254.8 256.7L255.1 256.7L255.5 256.7L255.8 256.5L256.2 256.1L256.5 256.1L256.9 256.4L257.2 256.6L257.6 256.4L257.9 256.3L258.3 256.3L258.6 256.4L259.0 256.8L259.3 256.6L259.7 256.3L260.0 256.5L260.4 256.8L260.7 257.0L261.1 256.9L261.4 256.7L261.8 256.8L262.1 256.9L262.5 257.0L262.8 257.0L263.2 256.4L263.5 256.2L263.9 256.2L264.2 256.1L264.6 256.1L264.9 256.7L265.3 257.0L265.6 257.0L266.0 257.4L266.3 257.8L266.7 257.4L267.0 256.9L267.4 256.9L267.7 257.0L268.1 257.0L268.4 257.2L268.8 257.2L269.1 257.3L269.5 257.1L269.8 256.9L270.2 256.7L270.5 256.6L270.9 256.8L271.2 257.0L271.6 257.1L271.9 257.1L272.3 257.3L272.6 257.6L273.0 257.6L273.3 257.4L273.7 257.2L274.0 257.4L274.4 257.6L274.7 257.4L275.1 257.2L275.4 257.3L275.8 257.0L276.1 256.6L276.5 256.7L276.8 257.0L277.2 257.3L277.5 257.5L277.9 257.7L278.2 257.8L278.6 257.6L278.9 257.4L279.3 257.3L279.6 257.1L280.0 257.0L280.3 257.1L280.7 257.3L281.0 257.3L281.4 257.4L281.7 257.4L282.1 256.9L282.4 256.9L282.8 257.1L283.1 257.2L283.5 257.1L283.8 257.4L284.2 257.7L284.5 257.4L284.9 257.3L285.2 257.4L285.6 257.3L285.9 257.2L286.3 257.3L286.6 257.0L287.0 257.0L287.3 257.2L287.7 257.4L288.0 257.6L288.4 257.7L288.7 257.8L289.1 257.8L289.4 257.8L289.8 257.6L290.1 257.3L290.5 257.3L290.8 257.4L291.2 257.2L291.5 257.1L291.9 256.8L292.2 256.7L292.6 257.1L292.9 257.2L293.3 257.0L293.6 257.1L294.0 256.9L294.3 256.6L294.7 256.7L295.0 257.2L295.4 257.4L295.7 257.6L296.1 257.7L296.4 257.3L296.8 256.7L297.1 256.7L297.5 257.0L297.8 256.9L298.2 256.7L298.5 256.6L298.9 256.6L299.2 256.7L299.6 257.0L299.9 257.1L300.3 257.1L300.6 257.0L301.0 256.7L301.3 256.5L301.7 256.4L302.0 256.4L302.4 256.8L302.7 257.0L303.1 256.8L303.4 256.5L303.8 256.5L304.1 256.6L304.5 256.4L304.8 256.4L305.2 256.6L305.5 256.7L305.9 256.8L306.2 257.2L306.6 257.5L306.9 257.2L307.3 256.9L307.6 256.9L308.0 257.2L308.3 257.2L308.7 257.1L309.0 257.0L309.4 257.0L309.7 257.2L310.1 257.1L310.4 256.8L310.8 256.8L311.1 257.4L311.5 257.4L311.8 257.1L312.2 256.8L312.5 256.7L312.9 256.7L313.2 257.0L313.6 257.1L313.9 257.3L314.3 257.6L314.6 257.8L315.0 257.6L315.3 257.5L315.7 257.4L316.0 257.2L316.4 257.3L316.7 257.5L317.1 257.8L317.4 257.7L317.8 257.6L318.1 257.6L318.5 257.3L318.8 257.2L319.2 257.6L319.5 257.5L319.9 257.2L320.2 257.1L320.6 257.4L320.9 257.8L321.3 257.9L321.6 258.0L322.0 257.8L322.3 257.7L322.7 257.5L323.0 257.3L323.4 257.2L323.7 257.1L324.1 256.9L324.4 257.0L324.8 257.4L325.1 257.6L325.5 257.5L325.8 257.2L326.2 257.2L326.5 257.5L326.9 257.4L327.2 257.1L327.6 257.0L327.9 256.9L328.3 256.9L328.6 257.4L329.0 257.5L329.3 257.4L329.7 257.3L330.0 257.1L330.4 257.1L330.7 257.2L331.1 257.0L331.4 256.8L331.8 256.7L332.1 257.0L332.5 257.0L332.8 256.6L333.2 256.5L333.5 256.8L333.9 257.0L334.2 256.7L334.6 256.5L334.9 256.7L335.3 256.8L335.6 256.5L336.0 256.7L336.3 257.0L336.7 256.9L337.0 256.8L337.4 256.9L337.7 256.9L338.1 257.2L338.4 257.1L338.8 256.9L339.1 256.9L339.5 256.9L339.8 256.8L340.2 256.7L340.5 256.7L340.9 256.8L341.2 257.1L341.6 256.9L341.9 256.8L342.3 257.0L342.6 257.3L343.0 257.5L343.3 257.6L343.7 257.5L344.0 257.4L344.4 257.4L344.7 257.6L345.1 257.9L345.4 258.1L345.8 257.9L346.1 257.5L346.5 257.4L346.8 257.3L347.2 257.1L347.5 257.1L347.9 257.4L348.2 257.9L348.6 258.3L348.9 258.2L349.3 257.7L349.6 257.6L350.0 257.8L350.3 257.9L350.7 257.7L351.0 257.5L351.4 257.7L351.7 258.0L352.1 257.9L352.4 257.8L352.8 257.7L353.1 257.9L353.5 258.2L353.8 258.3L354.2 258.3L354.5 258.2L354.9 257.9L355.2 257.9L355.6 258.1L355.9 258.1L356.3 257.9L356.6 257.7L357.0 257.6L357.3 257.7L357.7 257.7L358.0 257.7L358.4 257.7L358.7 257.6L359.1 257.4L359.4 257.5L359.8 257.6L360.1 257.9L360.5 258.0L360.8 257.5L361.2 257.2L361.5 257.5L361.9 257.6L362.2 257.5L362.6 257.7L362.9 257.9L363.3 257.4L363.6 257.2L364.0 257.2L364.3 256.9L364.7 257.4L365.0 257.9L365.4 258.0L365.7 257.8L366.1 257.7L366.4 258.0L366.8 258.4L367.1 258.2L367.5 258.0L367.8 257.6L368.2 257.7L368.5 257.8L368.9 257.6L369.2 257.3L369.6 257.6L369.9 258.1L370.3 258.0L370.6 257.8L371.0 257.7L371.3 257.6L371.7 257.8L372.0 257.9L372.4 257.7L372.7 257.4L373.1 257.4L373.4 257.9L373.8 258.4L374.1 258.4L374.5 258.3L374.8 258.2L375.2 258.0L375.5 257.8L375.9 257.4L376.2 257.6L376.6 257.9L376.9 258.0L377.3 258.1L377.6 258.2L378.0 258.2L378.3 258.3L378.7 258.3L379.0 258.4L379.4 258.4L379.7 258.4L380.1 258.3L380.4 258.1L380.8 258.0L381.1 257.9L381.5 258.1L381.8 258.2L382.2 258.2L382.5 258.3L382.9 258.5L383.2 258.7L383.6 258.6L383.9 258.2L384.3 258.1L384.6 258.3L385.0 258.2L385.3 258.1L385.7 258.5L386.0 258.4L386.4 258.1L386.7 258.1L387.1 258.0L387.4 257.8L387.8 257.7L388.1 257.7L388.5 257.8L388.8 257.8L389.2 257.7L389.5 257.7L389.9 257.7L390.2 257.6L390.6 257.6L390.9 257.8L391.3 258.0L391.6 257.6L392.0 257.4L392.3 257.7L392.7 257.7L393.0 257.6L393.4 257.7L393.7 257.7L394.1 257.9L394.4 258.2L394.8 258.1L395.1 257.9L395.5 257.9L395.8 258.0L396.2 258.0L396.5 257.9L396.9 258.2L397.2 258.4L397.6 258.6L397.9 258.4L398.3 257.9L398.6 257.4L399.0 257.7L399.3 258.3L399.7 258.2L400.0 258.0L400.4 258.0L400.7 258.0L401.1 257.9L401.4 257.9L401.8 258.1L402.1 258.3L402.5 258.1L402.8 257.9L403.2 257.8L403.5 257.8L403.9 257.6L404.2 257.4L404.6 257.5L404.9 257.7L405.3 257.9L405.6 258.0L406.0 257.7L406.3 257.6L406.7 257.7L407.0 257.5L407.4 257.4L407.7 257.5L408.1 257.5L408.4 257.6L408.8 257.9L409.1 257.9L409.5 257.4L409.8 257.1L410.2 257.2L410.5 257.3L410.9 257.3L411.2 257.7L411.6 257.6L411.9 257.4L412.3 257.3L412.6 257.1L413.0 257.2L413.3 257.4L413.7 257.4L414.0 257.2L414.4 257.5L414.7 257.6L415.1 257.4L415.4 257.1L415.8 256.8L416.1 256.7L416.5 257.0L416.8 257.5L417.2 257.8L417.5 257.8L417.9 257.6L418.2 257.2L418.6 257.0L418.9 256.8L419.3 256.8L419.6 256.9L420.0 257.2L420.3 257.4L420.7 257.3L421.0 257.3L421.4 257.6L421.7 257.8L422.1 257.5L422.4 257.2L422.8 257.4L423.1 257.2L423.5 256.9L423.8 257.1L424.2 257.1L424.5 256.9L424.9 257.3L425.2 257.4L425.6 257.2L425.9 256.9L426.3 256.8L426.6 257.0L427.0 257.2L427.3 257.1L427.7 257.1L428.0 256.8L428.4 256.8L428.7 257.3L429.1 257.6L429.4 257.5L429.8 257.2L430.1 257.1L430.5 257.3L430.8 257.3L431.2 257.4L431.5 257.6L431.9 257.4L432.2 257.2L432.6 257.2L432.9 257.3L433.3 257.1L433.6 256.9L434.0 257.1L434.3 257.1L434.7 257.0L435.0 257.0L435.4 257.0L435.7 257.2L436.1 257.4L436.4 257.5L436.8 257.3L437.1 257.4L437.5 257.3L437.8 257.1L438.2 257.1L438.5 256.9L438.9 256.9L439.2 256.8L439.6 257.0L439.9 257.0L440.3 256.9L440.6 256.7L441.0 257.0L441.3 257.4L441.7 257.5L442.0 257.3L442.4 257.2L442.7 257.3L443.1 257.6L443.4 257.6L443.8 257.4L444.1 257.0L444.5 257.0L444.8 257.4L445.2 257.3L445.5 257.3L445.9 257.6L446.2 257.8L446.6 257.8L446.9 257.8L447.3 257.9L447.6 257.8L448.0 257.8L448.3 257.7L448.7 257.8L449.0 257.9L449.4 257.4L449.7 257.0L450.1 257.3L450.4 257.8L450.8 257.9L451.1 257.5L451.5 257.3L451.8 257.6L452.2 257.9L452.5 257.8L452.9 257.9L453.2 257.9L453.6 257.7L453.9 257.4L454.3 257.4L454.6 257.3L455.0 257.3L455.3 257.4L455.7 257.6L456.0 257.4L456.4 257.1L456.7 256.8L457.1 257.2L457.4 257.7L457.8 257.4L458.1 257.0L458.5 257.1L458.8 257.2L459.2 257.1L459.5 257.1L459.9 257.2L460.2 257.2L460.6 257.1L460.9 257.2L461.3 257.3L461.6 257.3L462.0 257.5L462.3 257.3L462.7 257.0L463.0 257.0L463.4 257.0L463.7 256.9L464.1 257.2L464.4 257.6L464.8 257.4L465.1 257.2L465.5 257.0L465.8 257.0L466.2 256.8L466.5 256.8L466.9 257.1L467.2 257.3L467.6 256.8L467.9 256.5L468.3 256.9L468.6 257.2L469.0 257.3L469.3 257.3L469.7 257.4L470.0 257.4" stroke="#0000ff"/>
<path d="M46.0 49.9L46.1 50.3L46.3 50.7L46.4 51.0L46.6 51.4L46.7 51.8L46.9 52.1L47.1 52.5L47.2 52.9L47.4 53.3L47.5 53.6L47.7 54.0L47.8 54.4L48.0 54.7L48.1 55.1L48.3 55.5L48.4 55.8L48.6 56.2L48.7 56.6L48.9 56.9L49.1 57.3L49.2 57.7L49.4 58.0L49.5 58.4L49.7 58.8L49.8 59.1L50.0 59.5L50.2 59.9L50.3 60.2L50.5 60.6L50.6 61.0L50.8 61.3L51.0 61.7L51.1 62.1L51.3 62.4L51.5 62.8L51.6 63.2L51.8 63.5L51.9 63.9L52.1 64.3L52.3 64.6L52.4 65.0L52.6 65.3L52.8 65.7L52.9 66.1L53.1 66.4L53.3 66.8L53.5 67.2L53.6 67.5L53.8 67.9L54.0 68.2L54.1 68.6L54.3 69.0L54.5 69.3L54.7 69.7L54.8 70.0L55.0 70.4L55.2 70.8L55.4 71.1L55.5 71.5L55.7 71.8L55.9 72.2L56.1 72.5L56.3 72.9L56.4 73.3L56.6 73.6L56.8 74.0L57.0 74.3L57.2 74.7L57.3 75.0L57.5 75.4L57.7 75.7L57.9 76.1L58.1 76.5L58.3 76.8L58.5 77.2L58.6 77.5L58.8 77.9L59.0 78.2L59.2 78.6L59.4 78.9L59.6 79.3L59.8 79.6L60.0 80.0L60.2 80.3L60.4 80.7L60.6 81.0L60.7 81.4L60.9 81.7L61.1 82.1L61.3 82.4L61.5 82.8L61.7 83.1L61.9 83.4L62.1 83.8L62.3 84.1L62.5 84.5L62.7 84.8L62.9 85.2L63.1 85.5L63.3 85.9L63.5 86.2L63.8 86.5L64.0 86.9L64.2 87.2L64.4 87.6L64.6 87.9L64.8 88.3L65.0 88.6L65.2 88.9L65.4 89.3L65.6 89.6L65.8 89.9L66.1 90.3L66.3 90.6L66.5 91.0L66.7 91.3L66.9 91.6L67.1 92.0L67.3 92.3L67.6 92.6L67.8 93.0L68.0 93.3L68.2 93.6L68.4 94.0L68.7 94.3L68.9 94.6L69.1 95.0L69.3 95.3L69.5 95.6L69.8 96.0L70.0 96.3L70.2 96.6L70.4 97.0L70.7 97.3L70.9 97.6L71.1 97.9L71.4 98.3L71.6 98.6L71.8 98.9L72.0 99.3L72.3 99.6L72.5 99.9L72.7 100.2L73.0 100.6L73.2 100.9L73.4 101.2L73.7 101.5L73.9 101.8L74.1 102.2L74.4 102.5L74.6 102.8L74.9 103.1L75.1 103.5L75.3 103.8L75.6 104.1L75.8 104.4L76.1 104.7L76.3 105.1L76.5 105.4L76.8 105.7L77.0 106.0L77.3 106.3L77.5 106.6L77.7 107.0L78.0 107.3L78.2 107.6L78.5 107.9L78.7 108.2L79.0 108.5L79.2 108.9L79.5 109.2L79.7 109.5L80.0 109.8L80.2 110.1L80.5 110.4L80.7 110.7L81.0 111.0L81.2 111.4L81.5 111.7L81.7 112.0L82.0 112.3L82.2 112.6L82.5 112.9L82.7 113.2L83.0 113.5L83.2 113.8L83.5 114.2L83.7 114.5L84.0 114.8L84.2 115.1L84.5 115.4L84.7 115.7L85.0 116.0L85.3 116.3L85.5 116.6L85.8 116.9L86.0 117.2L86.3 117.5L86.5 117.8L86.8 118.1L87.1 118.4L87.3 118.7L87.6 119.0L87.8 119.4L88.1 119.7L88.4 120.0L88.6 120.3L88.9 120.6L89.2 120.9L89.4 121.2L89.7 121.5L89.9 121.8L90.2 122.1L90.5 122.4L90.7 122.7L91.0 123.0L91.3 123.3L91.5 123.6L91.8 123.9L92.1 124.2L92.3 124.5L92.6 124.8L92.9 125.1L93.1 125.4L93.4 125.7L93.7 126.0L93.9 126.3L94.2 126.6L94.5 126.8L94.7 127.1L95.0 127.4L95.3 127.7L95.5 128.0L95.8 128.3L96.1 128.6L96.3 128.9L96.6 129.2L96.9 129.5L97.2 129.8L97.4 130.1L97.7 130.4L98.0 130.7L98.2 131.0L98.5 131.3L98.8 131.6L99.1 131.9L99.3 132.1L99.6 132.4L99.9 132.7L100.2 133.0L100.4 133.3L100.7 133.6L101.0 133.9L101.3 134.2L101.5 134.5L101.8 134.8L102.1 135.1L102.4 135.3L102.6 135.6L102.9 135.9L103.2 136.2L103.5 136.5L103.7 136.8L104.0 137.1L104.3 137.4L104.6 137.6L104.8 137.9L105.1 138.2L105.4 138.5L105.7 138.8L106.0 139.1L106.2 139.4L106.5 139.6L106.8 139.9L107.1 140.2L107.4 140.5L107.6 140.8L107.9 141.1L108.2 141.4L108.5 141.6L108.8 141.9L109.1 142.2L109.3 142.5L109.6 142.8L109.9 143.1L110.2 143.3L110.5 143.6L110.7 143.9L111.0 144.2L111.3 144.5L111.6 144.8L111.9 145.0L112.2 145.3L112.5 145.6L112.7 145.9L113.0 146.2L113.3 146.4L113.6 146.7L113.9 147.0L114.2 147.3L114.5 147.6L114.7 147.8L115.0 148.1L115.3 148.4L115.6 148.7L115.9 148.9L116.2 149.2L116.5 149.5L116.7 149.8L117.0 150.1L117.3 150.3L117.6 150.6L117.9 150.9L118.2 151.2L118.5 151.4L118.8 151.7L119.1 152.0L119.4 152.3L119.6 152.5L119.9 152.8L120.2 153.1L120.5 153.4L120.8 153.6L121.1 153.9L121.4 154.2L121.7 154.5L122.0 154.7L122.3 155.0L122.6 155.3L122.8 155.6L123.1 155.8L123.4 156.1L123.7 156.4L124.0 156.6L124.3 156.9L124.6 157.2L124.9 157.5L125.2 157.7L125.5 158.0L125.8 158.3L126.1 158.5L126.4 158.8L126.7 159.1L127.0 159.3L127.3 159.6L127.6 159.9L127.9 160.2L128.1 160.4L128.4 160.7L128.7 161.0L129.0 161.2L129.3 161.5L129.6 161.8L129.9 162.0L130.2 162.3L130.5 162.6L130.8 162.8L131.1 163.1L131.4 163.4L131.7 163.6L132.0 163.9L132.3 164.2L132.6 164.4L132.9 164.7L133.2 165.0L133.5 165.2L133.8 165.5L134.1 165.8L134.4 166.0L134.7 166.3L135.0 166.5L135.3 166.8L135.6 167.1L135.9 167.3L136.2 167.6L136.5 167.9L136.8 168.1L137.1 168.4L137.4 168.6L137.7 168.9L138.0 169.2L138.3 169.4L138.6 169.7L138.9 170.0L139.2 170.2L139.5 170.5L139.8 170.7L140.1 171.0L140.4 171.3L140.7 171.5L141.1 171.8L141.4 172.0L141.7 172.3L142.0 172.6L142.3 172.8L142.6 173.1L142.9 173.3L143.2 173.6L143.5 173.9L143.8 174.1L144.1 174.4L144.4 174.6L144.7 174.9L145.0 175.2L145.3 175.4L145.6 175.7L145.9 175.9L146.2 176.2L146.5 176.4L146.9 176.7L147.2 177.0L147.5 177.2L147.8 177.5L148.1 177.7L148.4 178.0L148.7 178.2L149.0 178.5L149.3 178.7L149.6 179.0L149.9 179.3L150.2 179.5L150.5 179.8L150.8 180.0L151.2 180.3L151.5 180.5L151.8 180.8L152.1 181.0L152.4 181.3L152.7 181.5L153.0 181.8L153.3 182.0L153.6 182.3L153.9 182.6L154.2 182.8L154.6 183.1L154.9 183.3L155.2 183.6L155.5 183.8L155.8 184.1L156.1 184.3L156.4 184.6L156.7 184.8L157.0 185.1L157.4 185.3L157.7 185.6L158.0 185.8L158.3 186.1L158.6 186.3L158.9 186.6L159.2 186.8L159.5 187.1L159.8 187.3L160.2 187.6L160.5 187.8L160.8 188.1L161.1 188.3L161.4 188.6L161.7 188.8L162.0 189.1L162.3 189.3L162.7 189.6L163.0 189.8L163.3 190.1L163.6 190.3L163.9 190.6L164.2 190.8L164.5 191.1L164.9 191.3L165.2 191.6L165.5 191.8L165.8 192.1L166.1 192.3L166.4 192.6L166.7 192.8L167.0 193.1L167.4 193.3L167.7 193.6L168.0 193.8L168.3 194.0L168.6 194.3L168.9 194.5L169.3 194.8L169.6 195.0L169.9 195.3L170.2 195.5L170.5 195.8L170.8 196.0L171.1 196.3L171.5 196.5L171.8 196.8L172.1 197.0L172.4 197.2L172.7 197.5L173.0 197.7L173.4 198.0L173.7 198.2L174.0 198.5L174.3 198.7L174.6 199.0L174.9 199.2L175.3 199.4L175.6 199.7L175.9 199.9L176.2 200.2L176.5 200.4L176.8 200.7L177.2 200.9L177.5 201.1L177.8 201.4L178.1 201.6L178.4 201.9L178.7 202.1L179.1 202.4L179.4 202.6L179.7 202.9L180.0 203.1L180.3 203.3L180.7 203.6L181.0 203.8L181.3 204.1L181.6 204.3L181.9 204.5L182.2 204.8L182.6 205.0L182.9 205.3L183.2 205.5L183.5 205.8L183.8 206.0L184.2 206.2L184.5 206.5L184.8 206.7L185.1 207.0L185.4 207.2L185.8 207.4L186.1 207.7L186.4 207.9L186.7 208.2L187.0 208.4L187.4 208.6L187.7 208.9L188.0 209.1L188.3 209.4L188.6 209.6L189.0 209.8L189.3 210.1L189.6 210.3L189.9 210.6L190.2 210.8L190.6 211.0L190.9 211.3L191.2 211.5L191.5 211.8L191.8 212.0L192.2 212.2L192.5 212.5L192.8 212.7L193.1 212.9L193.4 213.2L193.8 213.4L194.1 213.7L194.4 213.9L194.7 214.1L195.0 214.4L195.4 214.6L195.7 214.9L196.0 215.1L196.3 215.3L196.7 215.6L197.0 215.8L197.3 216.0L197.6 216.3L197.9 216.5L198.3 216.8L198.6 217.0L198.9 217.2L199.2 217.5L199.6 217.7L199.9 217.9L200.2 218.2L200.5 218.4L200.9 218.7L201.2 218.9L201.5 219.1L201.8 219.3L202.1 219.6L202.5 219.8L202.8 220.0L203.1 220.3L203.4 220.5L203.8 220.8L204.1 221.0L204.4 221.2L204.7 221.5L205.1 221.7L205.4 221.9L205.7 222.2L206.0 222.4L206.4 222.6L206.7 222.9L207.0 223.1L207.3 223.3L207.7 223.6L208.0 223.8L208.3 224.0L208.6 224.3L209.0 224.5L209.3 224.7L209.6 225.0L209.9 225.2L210.3 225.4L210.6 225.7L210.9 225.9L211.2 226.1L211.6 226.4L211.9 226.6L212.2 226.8L212.5 227.1L212.9 227.3L213.2 227.5L213.5 227.8L213.8 228.0L214.2 228.2L214.5 228.4L214.8 228.7L215.1 228.9L215.5 229.1L215.8 229.4L216.1 229.6L216.4 229.9L216.8 230.1L217.1 230.3L217.4 230.5L217.8 230.8L218.1 231.0L218.4 231.2L218.7 231.5L219.1 231.7L219.4 231.9L219.7 232.2L220.1 232.4L220.4 232.6L220.7 232.8L221.0 233.1L221.4 233.3L221.7 233.5L222.0 233.7L222.4 234.0L222.7 234.2L223.0 234.5L223.3 234.7L223.7 234.9L224.0 235.1L224.3 235.3L224.7 235.6L225.0 235.8L225.3 236.0L225.6 236.2L226.0 236.5L226.3 236.7L226.6 236.9L227.0 237.1L227.3 237.3L227.6 237.5L228.0 237.8L228.3 238.0L228.6 238.3L229.0 238.5L229.3 238.7L229.6 238.9L229.9 239.1L230.3 239.4L230.6 239.6L230.9 239.8L231.3 240.0L231.6 240.2L231.9 240.4L232.3 240.7L232.6 240.9L232.9 241.1L233.3 241.4L233.6 241.6L233.9 241.9L234.3 242.1L234.6 242.3L234.9 242.5L235.3 242.7L235.6 242.9L235.9 243.1L236.3 243.3L236.6 243.5L236.9 243.7L237.3 244.0L237.6 244.3L237.9 244.5L238.3 244.7L238.6 244.9L239.0 245.1L239.3 245.3L239.6 245.5L240.0 245.8L240.3 246.0L240.6 246.2L241.0 246.4L241.3 246.7L241.6 246.9L242.0 247.1L242.3 247.3L242.7 247.6L243.0 247.8L243.3 248.0L243.7 248.1L244.0 248.3L244.3 248.5L244.7 248.8L245.0 249.1L245.4 249.3L245.7 249.5L246.0 249.7L246.4 249.9L246.7 250.1L247.1 250.3L247.4 250.5L247.7 250.7L248.1 250.9L248.4 251.1L248.8 251.3L249.1 251.6L249.4 251.8L249.8 252.0L250.1 252.2L250.5 252.4L250.8 252.5L251.1 252.7L251.5 252.9L251.8 253.2L252.2 253.5L252.5 253.7L252.9 253.9L253.2 254.1L253.5 254.2L253.9 254.4L254.2 254.6L254.6 254.8L254.9 255.0L255.3 255.2L255.6 255.4L256.0 255.6L256.3 255.7L256.6 256.0L257.0 256.2L257.3 256.4L257.7 256.6L258.0 256.8L258.4 257.0L258.7 257.2L259.1 257.4L259.4 257.6L259.8 257.8L260.1 258.0L260.5 258.2L260.8 258.4L261.2 258.6L261.5 258.8L261.9 259.0L262.2 259.2L262.6 259.4L262.9 259.5L263.3 259.7L263.6 259.9L264.0 260.1L264.3 260.2L264.7 260.3L265.0 260.5L265.4 260.8L265.7 261.1L266.1 261.2L266.4 261.4L266.8 261.6L267.1 261.9L267.5 262.3L267.8 262.4L268.2 262.4L268.5 262.5L268.9 262.7L269.2 263.0L269.6 263.2L269.9 263.5L270.3 263.5L270.6 263.5L271.0 263.7L271.3 263.9L271.7 264.3L272.0 264.5L272.4 264.6L272.7 264.6L273.1 264.9L273.4 265.1L273.8 265.2L274.1 265.4L274.5 265.6L274.8 265.8L275.2 266.0L275.5 266.1L275.9 266.3L276.2 266.4L276.6 266.6L276.9 266.7L277.3 266.9L277.6 267.1L278.0 267.3L278.3 267.5L278.7 267.6L279.0 267.6L279.4 267.8L279.7 268.0L280.1 268.3L280.4 268.4L280.8 268.5L281.1 268.6L281.5 268.9L281.8 269.1L282.2 269.3L282.5 269.6L282.9 269.8L283.2 269.8L283.6 269.7L283.9 269.7L284.3 269.9L284.6 270.1L285.0 270.3L285.3 270.5L285.7 270.7L286.0 271.0L286.4 271.4L286.7 271.6L287.1 271.7L287.4 271.8L287.8 271.7L288.1 271.8L288.5 271.9L288.8 272.0L289.2 272.3L289.5 272.3L289.9 272.4L290.2 272.7L290.6 272.9L290.9 273.0L291.3 272.9L291.6 273.0L292.0 273.2L292.3 273.3L292.7 273.3L293.0 273.6L293.4 273.8L293.7 273.9L294.1 273.8L294.4 274.0L294.8 274.2L295.1 274.5L295.5 274.5L295.8 274.6L296.2 274.7L296.5 274.9L296.9 274.9L297.2 274.9L297.6 275.0L297.9 275.4L298.3 275.4L298.6 275.4L299.0 275.7L299.3 276.0L299.7 276.1L300.0 276.1L300.4 276.1L300.7 276.1L301.1 276.2L301.4 276.3L301.8 276.4L302.1 276.6L302.5 276.8L302.8 276.8L303.2 276.8L303.5 277.0L303.9 277.2L304.2 277.4L304.6 277.5L304.9 277.4L305.3 277.5L305.6 277.8L306.0 277.9L306.3 277.7L306.7 277.6L307.0 277.8L307.4 278.0L307.7 278.1L308.1 278.3L308.4 278.4L308.8 278.6L309.1 278.5L309.5 278.6L309.8 278.9L310.2 279.1L310.5 279.2L310.9 279.2L311.2 279.3L311.6 279.6L311.9 279.7L312.3 279.4L312.6 279.4L313.0 279.7L313.3 280.0L313.7 280.2L314.0 280.2L314.4 280.2L314.7 280.2L315.1 280.4L315.4 280.6L315.8 280.5L316.1 280.5L316.5 280.7L316.8 280.8L317.2 280.8L317.5 280.9L317.9 281.1L318.2 281.0L318.6 281.1L318.9 281.2L319.3 281.2L319.6 281.1L320.0 281.3L320.3 281.4L320.7 281.6L321.0 281.7L321.4 281.7L321.7 281.7L322.1 281.7L322.4 282.0L322.8 282.2L323.1 282.4L323.5 282.3L323.8 282.3L324.2 282.7L324.5 282.9L324.9 282.7L325.2 282.4L325.6 282.3L325.9 282.4L326.3 282.4L326.6 282.6L327.0 282.6L327.3 282.6L327.7 282.6L328.0 282.4L328.4 282.4L328.7 282.7L329.1 283.0L329.4 283.0L329.8 283.0L330.1 282.8L330.5 283.0L330.8 283.4L331.2 283.4L331.5 283.1L331.9 283.0L332.2 283.2L332.6 283.3L332.9 283.3L333.3 283.4L333.6 283.3L334.0 283.4L334.3 283.8L334.7 284.0L335.0 283.9L335.4 283.8L335.7 283.8L336.1 283.9L336.4 283.4L336.8 283.3L337.1 283.6L337.5 284.1L337.8 284.3L338.2 284.4L338.5 284.4L338.9 284.2L339.2 284.0L339.6 284.0L339.9 284.2L340.3 284.2L340.6 284.4L341.0 284.5L341.3 284.3L341.7 284.3L342.0 284.4L342.4 284.6L342.7 284.6L343.1 284.5L343.4 284.8L343.8 285.0L344.1 284.9L344.5 284.7L344.8 284.6L345.2 284.5L345.5 284.7L345.9 284.8L346.2 284.9L346.6 285.0L346.9 284.9L347.3 284.9L347.6 285.0L348.0 284.9L348.3 284.7L348.7 285.0L349.0 285.2L349.4 285.0L349.7 285.0L350.1 284.9L350.4 284.9L350.8 285.0L351.1 284.9L351.5 284.7L351.8 284.9L352.2 285.2L352.5 285.1L352.9 285.0L353.2 285.1L353.6 285.2L353.9 285.3L354.3 285.1L354.6 285.1L355.0 285.4L355.3 285.7L355.7 285.7L356.0 285.6L356.4 285.2L356.7 285.0L357.1 285.1L357.4 285.2L357.8 285.1L358.1 285.3L358.5 285.5L358.8 285.7L359.2 286.0L359.5 285.8L359.9 285.3L360.2 285.1L360.6 285.4L360.9 285.7L361.3 285.7L361.6 285.6L362.0 285.7L362.3 285.9L362.7 285.7L363.0 285.2L363.4 285.1L363.7 285.1L364.1 285.3L364.4 285.6L364.8 285.5L365.1 285.4L365.5 285.5L365.8 285.8L366.2 286.0L366.5 286.1L366.9 286.1L367.2 285.9L367.6 286.3L367.9 286.5L368.3 286.0L368.6 285.8L369.0 286.1L369.3 286.1L369.7 285.9L370.0 285.9L370.4 286.2L370.7 285.7L371.1 285.3L371.4 285.8L371.8 286.4L372.1 286.7L372.5 286.9L372.8 286.8L373.2 286.1L373.5 285.6L373.9 285.7L374.2 286.1L374.6 285.8L374.9 285.3L375.3 285.3L375.6 285.7L376.0 285.9L376.3 285.9L376.7 285.8L377.0 285.8L377.4 286.0L377.7 286.1L378.1 286.1L378.4 286.1L378.8 286.0L379.1 286.1L379.5 286.1L379.8 286.1L380.2 286.2L380.5 286.1L380.9 286.1L381.2 286.2L381.6 286.4L381.9 286.4L382.3 286.4L382.6 286.4L383.0 286.3L383.3 286.2L383.7 286.0L384.0 285.9L384.4 286.0L384.7 286.0L385.1 286.4L385.4 286.8L385.8 286.7L386.1 286.5L386.5 286.6L386.8 286.6L387.2 286.4L387.5 286.5L387.9 286.5L388.2 286.6L388.6 286.6L388.9 286.6L389.3 287.0L389.6 287.3L390.0 286.9L390.3 286.6L390.7 286.8L391.0 287.1L391.4 287.0L391.7 287.3L392.1 287.5L392.4 287.1L392.8 286.9L393.1 286.8L393.5 286.9L393.8 286.9L394.2 286.9L394.5 287.1L394.9 287.3L395.2 287.4L395.6 287.4L395.9 287.4L396.3 287.4L396.6 287.3L397.0 287.1L397.3 287.1L397.7 287.3L398.0 287.2L398.4 287.1L398.7 287.0L399.1 286.9L399.4 286.7L399.8 286.6L400.1 286.8L400.5 287.1L400.8 287.3L401.2 287.4L401.5 287.3L401.9 287.2L402.2 287.4L402.6 287.5L402.9 287.1L403.3 287.0L403.6 287.4L404.0 287.7L404.3 287.3L404.7 287.0L405.0 286.8L405.4 286.8L405.7 286.8L406.1 287.0L406.4 287.5L406.8 287.7L407.1 287.5L407.5 287.5L407.8 287.5L408.2 287.5L408.5 287.5L408.9 287.6L409.2 287.7L409.6 288.1L409.9 288.4L410.3 287.9L410.6 287.5L411.0 287.3L411.3 287.4L411.7 287.6L412.0 287.7L412.4 287.5L412.7 287.4L413.1 287.5L413.4 287.6L413.8 287.7L414.1 287.7L414.5 287.6L414.8 287.5L415.2 287.4L415.5 287.7L415.9 287.7L416.2 287.8L416.6 287.9L416.9 287.6L417.3 287.5L417.6 287.7L418.0 287.7L418.3 287.8L418.7 287.9L419.0 287.6L419.4 287.4L419.7 287.6L420.1 287.8L420.4 287.9L420.8 287.8L421.1 287.5L421.5 287.3L421.8 287.3L422.2 287.7L422.5 288.2L422.9 288.2L423.2 287.9L423.6 287.9L423.9 288.1L424.3 288.0L424.6 287.9L425.0 288.1L425.3 287.9L425.7 288.0L426.0 288.3L426.4 288.5L426.7 288.7L427.1 288.4L427.4 288.1L427.8 288.2L428.1 288.0L428.5 287.5L428.8 287.4L429.2 287.3L429.5 287.3L429.9 287.7L430.2 288.0L430.6 287.9L430.9 287.7L431.3 287.8L431.6 288.0L432.0 287.9L432.3 287.6L432.7 287.5L433.0 287.7L433.4 287.9L433.7 288.0L434.1 288.4L434.4 288.4L434.8 287.8L435.1 287.2L435.5 287.4L435.8 287.6L436.2 287.4L436.5 287.2L436.9 287.6L437.2 287.9L437.6 287.3L437.9 286.9L438.3 287.2L438.6 287.5L439.0 287.6L439.3 287.5L439.7 287.4L440.0 287.4L440.4 287.5L440.7 287.5L441.1 287.4L441.4 287.4L441.8 287.7L442.1 287.6L442.5 287.4L442.8 287.3L443.2 287.2L443.5 287.3L443.9 287.7L444.2 287.9L444.6 288.0L444.9 287.9L445.3 287.7L445.6 287.9L446.0 288.2L446.3 287.8L446.7 287.4L447.0 287.6L447.4 287.7L447.7 287.8L448.1 287.8L448.4 287.8L448.8 288.0L449.1 288.1L449.5 288.1L449.8 287.9L450.2 287.8L450.5 288.1L450.9 288.3L451.2 288.1L451.6 288.3L451.9 288.5L452.3 288.5L452.6 288.4L453.0 288.5L453.3 288.7L453.7 288.9L454.0 288.6L454.4 288.4L454.7 288.3L455.1 288.3L455.4 288.3L455.8 288.4L456.1 288.6L456.5 288.5L456.8 288.2L457.2 288.2L457.5 288.5L457.9 288.4L458.2 288.4L458.6 288.2L458.9 288.0L459.3 288.2L459.6 288.5L460.0 288.5L460.3 288.0L460.7 288.1L461.0 288.3L461.4 288.0L461.7 287.8L462.1 288.1L462.4 288.2L462.8 287.9L463.1 287.8L463.5 287.9L463.8 288.1L464.2 288.0L464.5 288.0L464.9 288.2L465.2 288.3L465.6 288.2L465.9 288.4L466.3 288.3L466.6 288.2L467.0 288.2L467.3 288.1L467.7 287.8L468.0 287.3L468.4 287.5L468.7 287.9L469.1 287.7L469.4 287.6L469.8 287.5L470.0 287.7" stroke="#0000ff"/>
<path d="M46.0 50.4L46.0 50.8L46.1 51.2L46.1 51.6L46.1 52.0L46.2 52.4L46.2 52.8L46.2 53.2L46.3 53.6L46.3 54.0L46.3 54.4L46.4 54.8L46.4 55.2L46.4 55.6L46.5 56.0L46.5 56.4L46.5 56.8L46.6 57.2L46.6 57.6L46.6 58.0L46.7 58.4L46.7 58.8L46.7 59.2L46.8 59.6L46.8 60.0L46.8 60.4L46.9 60.8L46.9 61.2L46.9 61.6L47.0 62.0L47.0 62.4L47.0 62.8L47.1 63.2L47.1 63.6L47.1 64.0L47.2 64.4L47.2 64.8L47.3 65.2L47.3 65.6L47.3 65.9L47.4 66.3L47.4 66.7L47.4 67.1L47.5 67.5L47.5 67.9L47.5 68.3L47.6 68.7L47.6 69.1L47.7 69.5L47.7 69.9L47.7 70.3L47.8 70.7L47.8 71.1L47.8 71.5L47.9 71.9L47.9 72.3L48.0 72.7L48.0 73.1L48.0 73.5L48.1 73.9L48.1 74.3L48.2 74.7L48.2 75.1L48.2 75.5L48.3 75.9L48.3 76.3L48.4 76.7L48.4 77.1L48.4 77.5L48.5 77.9L48.5 78.3L48.6 78.7L48.6 79.1L48.6 79.5L48.7 79.9L48.7 80.3L48.8 80.7L48.8 81.0L48.8 81.4L48.9 81.8L48.9 82.2L49.0 82.6L49.0 83.0L49.1 83.4L49.1 83.8L49.1 84.2L49.2 84.6L49.2 85.0L49.3 85.4L49.3 85.8L49.4 86.2L49.4 86.6L49.5 87.0L49.5 87.4L49.5 87.8L49.6 88.2L49.6 88.6L49.7 89.0L49.7 89.4L49.8 89.8L49.8 90.2L49.9 90.6L49.9 91.0L50.0 91.4L50.0 91.8L50.1 92.2L50.1 92.6L50.2 93.0L50.2 93.3L50.2 93.7L50.3 94.1L50.3 94.5L50.4 94.9L50.4 95.3L50.5 95.7L50.5 96.1L50.6 96.5L50.6 96.9L50.7 97.3L50.7 97.7L50.8 98.1L50.8 98.5L50.9 98.9L50.9 99.3L51.0 99.7L51.0 100.1L51.1 100.5L51.1 100.9L51.2 101.3L51.2 101.7L51.3 102.1L51.4 102.5L51.4 102.9L51.5 103.3L51.5 103.7L51.6 104.1L51.6 104.5L51.7 104.8L51.7 105.2L51.8 105.6L51.8 106.0L51.9 106.4L51.9 106.8L52.0 107.2L52.0 107.6L52.1 108.0L52.2 108.4L52.2 108.8L52.3 109.2L52.3 109.6L52.4 110.0L52.4 110.4L52.5 110.8L52.5 111.2L52.6 111.6L52.7 112.0L52.7 112.3L52.8 112.7L52.8 113.1L52.9 113.5L52.9 113.9L53.0 114.3L53.0 114.7L53.1 115.1L53.2 115.5L53.2 115.9L53.3 116.3L53.3 116.7L53.4 117.1L53.5 117.5L53.5 117.9L53.6 118.3L53.6 118.7L53.7 119.1L53.7 119.5L53.8 119.8L53.9 120.2L53.9 120.6L54.0 121.0L54.0 121.4L54.1 121.8L54.2 122.2L54.2 122.6L54.3 123.0L54.3 123.4L54.4 123.7L54.5 124.2L54.5 124.6L54.6 125.0L54.6 125.3L54.7 125.8L54.8 126.1L54.8 126.6L54.9 126.9L55.0 127.3L55.0 127.7L55.1 128.1L55.1 128.5L55.2 128.9L55.3 129.3L55.3 129.8L55.4 130.1L55.4 130.5L55.5 130.9L55.6 131.3L55.6 131.7L55.7 132.1L55.8 132.5L55.8 132.9L55.9 133.3L56.0 133.7L56.0 134.1L56.1 134.4L56.1 134.8L56.2 135.2L56.3 135.6L56.3 136.0L56.4 136.4L56.5 136.8L56.5 137.1L56.6 137.5L56.7 137.9L56.7 138.3L56.8 138.7L56.9 139.2L56.9 139.6L57.0 140.0L57.1 140.4L57.1 140.8L57.2 141.2L57.3 141.5L57.3 141.9L57.4 142.3L57.5 142.7L57.5 143.1L57.6 143.5L57.7 143.9L57.8 144.3L57.8 144.7L57.9 145.1L58.0 145.4L58.0 145.8L58.1 146.1L58.2 146.6L58.2 147.2L58.3 147.6L58.4 147.8L58.5 148.0L58.5 148.4L58.6 148.8L58.7 149.2L58.8 149.7L58.8 150.0L58.9 150.5L59.0 151.0L59.1 151.5L59.1 152.0L59.2 152.3L59.3 152.7L59.4 152.9L59.4 153.2L59.5 153.6L59.6 154.1L59.7 154.5L59.8 154.9L59.8 155.4L59.9 155.8L60.0 156.1L60.1 156.3L60.2 156.4L60.2 156.7L60.3 157.3L60.4 157.9L60.5 158.2L60.6 158.5L60.7 159.0L60.8 159.6L60.8 160.0L60.9 160.3L61.0 160.6L61.1 161.1L61.2 161.6L61.3 161.9L61.4 162.1L61.5 162.4L61.6 162.7L61.7 163.1L61.8 163.6L61.9 163.9L62.0 164.4L62.1 165.0L62.2 165.3L62.3 165.6L62.4 165.8L62.5 166.0L62.6 166.4L62.7 166.7L62.8 166.8L62.9 167.2L63.1 168.0L63.2 168.7L63.3 168.9L63.4 169.2L63.5 169.8L63.7 170.1L63.8 170.5L63.9 171.2L64.1 171.3L64.2 171.1L64.4 171.8L64.5 172.5L64.7 172.9L64.8 173.2L65.0 173.8L65.1 174.5L65.3 175.0L65.5 175.2L65.7 175.4L65.8 175.5L66.0 175.6L66.2 175.8L66.4 176.5L66.7 176.7L66.9 176.8L67.1 177.0L67.3 177.0L67.6 176.8L67.9 177.2L68.1 177.4L68.4 177.4L68.7 177.4L69.0 177.9L69.3 178.8L69.6 179.1L70.0 179.3L70.3 179.3L70.7 179.2L71.0 179.2L71.4 179.3L71.7 179.4L72.1 179.3L72.4 180.1L72.8 181.0L73.1 181.5L73.5 181.5L73.8 181.1L74.2 180.8L74.5 181.2L74.9 181.3L75.2 181.0L75.6 180.7L75.9 181.3L76.3 181.9L76.6 181.7L77.0 181.4L77.3 181.4L77.7 181.4L78.0 181.5L78.4 181.7L78.7 181.6L79.1 181.5L79.4 181.3L79.8 180.9L80.1 180.8L80.5 181.2L80.8 181.2L81.2 181.1L81.5 181.0L81.9 181.5L82.2 181.8L82.6 181.5L82.9 180.4L83.3 180.5L83.6 181.6L84.0 181.8L84.3 181.6L84.7 181.6L85.0 181.6L85.4 181.5L85.7 181.1L86.1 181.5L86.4 182.0L86.8 181.7L87.1 181.3L87.5 181.6L87.8 181.9L88.2 181.6L88.5 181.5L88.9 181.9L89.2 182.2L89.6 182.3L89.9 181.9L90.3 181.8L90.6 181.6L91.0 181.0L91.3 181.3L91.7 181.7L92.0 181.4L92.4 181.3L92.7 181.9L93.1 182.1L93.4 181.7L93.8 181.4L94.1 181.7L94.5 182.4L94.8 182.4L95.2 181.6L95.5 180.9L95.9 180.8L96.2 181.1L96.6 181.4L96.9 181.4L97.3 181.2L97.6 181.4L98.0 181.5L98.3 181.5L98.7 182.4L99.0 182.4L99.4 181.7L99.7 181.0L100.1 181.2L100.4 181.9L100.8 181.7L101.1 181.1L101.5 181.8L101.8 182.3L102.2 181.9L102.5 181.4L102.9 181.5L103.2 181.6L103.6 182.2L103.9 182.7L104.3 182.6L104.6 182.2L105.0 181.6L105.3 181.3L105.7 181.8L106.0 182.4L106.4 182.5L106.7 182.1L107.1 181.7L107.4 181.3L107.8 181.0L108.1 181.5L108.5 181.8L108.8 181.6L109.2 181.2L109.5 181.0L109.9 181.7L110.2 182.3L110.6 182.2L110.9 182.1L111.3 181.9L111.6 181.6L112.0 181.6L112.3 182.0L112.7 182.8L113.0 182.1L113.4 181.1L113.7 181.2L114.1 182.1L114.4 182.3L114.8 181.8L115.1 181.1L115.5 181.0L115.8 181.3L116.2 181.8L116.5 182.1L116.9 182.5L117.2 182.3L117.6 181.9L117.9 181.7L118.3 180.9L118.6 180.9L119.0 181.5L119.3 182.2L119.7 182.3L120.0 181.7L120.4 180.9L120.7 180.9L121.1 181.3L121.4 181.8L121.8 181.8L122.1 182.2L122.5 182.5L122.8 182.1L123.2 181.8L123.5 181.6L123.9 181.5L124.2 181.6L124.6 181.6L124.9 181.6L125.3 181.8L125.6 182.1L126.0 181.7L126.3 181.4L126.7 181.0L127.0 180.7L127.4 181.4L127.7 181.4L128.1 180.8L128.4 180.6L128.8 180.7L129.1 181.6L129.5 182.3L129.8 182.0L130.2 180.8L130.5 180.6L130.9 181.6L131.2 182.2L131.6 181.9L131.9 181.6L132.3 181.0L132.6 181.1L133.0 181.3L133.3 181.2L133.7 181.2L134.0 181.3L134.4 180.9L134.7 180.8L135.1 181.2L135.4 181.1L135.8 180.8L136.1 180.9L136.5 181.0L136.8 181.1L137.2 181.0L137.5 180.7L137.9 180.6L138.2 180.8L138.6 181.2L138.9 181.5L139.3 180.9L139.6 180.6L140.0 180.9L140.3 180.6L140.7 180.8L141.0 180.9L141.4 181.0L141.7 180.9L142.1 180.8L142.4 180.7L142.8 180.6L143.1 180.6L143.5 180.4L143.8 180.4L144.2 180.0L144.5 179.9L144.9 180.1L145.2 180.6L145.6 180.8L145.9 180.2L146.3 179.8L146.6 179.8L147.0 180.2L147.3 180.5L147.7 180.3L148.0 180.2L148.4 180.3L148.7 180.1L149.1 180.0L149.4 180.7L149.8 181.0L150.1 180.6L150.5 180.5L150.8 180.6L151.2 181.3L151.5 181.9L151.9 182.2L152.2 181.3L152.6 180.5L152.9 180.4L153.3 180.5L153.6 181.0L154.0 181.5L154.3 181.7L154.7 181.5L155.0 181.5L155.4 181.9L155.7 182.0L156.1 181.6L156.4 180.9L156.8 180.7L157.1 180.8L157.5 180.7L157.8 180.7L158.2 181.5L158.5 181.9L158.9 182.1L159.2 182.4L159.6 182.5L159.9 182.3L160.3 181.8L160.6 181.5L161.0 181.9L161.3 182.0L161.7 181.2L162.0 181.2L162.4 181.9L162.7 182.2L163.1 181.5L163.4 181.5L163.8 182.3L164.1 182.9L164.5 182.1L164.8 181.8L165.2 181.9L165.5 181.8L165.9 181.9L166.2 182.0L166.6 181.9L166.9 182.3L167.3 182.6L167.6 182.2L168.0 181.6L168.3 181.5L168.7 182.0L169.0 182.4L169.4 182.3L169.7 182.6L170.1 182.9L170.4 181.9L170.8 181.4L171.1 181.8L171.5 182.0L171.8 182.4L172.2 182.6L172.5 182.3L172.9 182.1L173.2 182.2L173.6 182.2L173.9 181.9L174.3 181.9L174.6 182.1L175.0 181.8L175.3 181.6L175.7 181.9L176.0 181.8L176.4 181.8L176.7 182.0L177.1 181.7L177.4 181.6L177.8 181.2L178.1 181.3L178.5 182.1L178.8 182.6L179.2 182.3L179.5 182.7L179.9 183.0L180.2 182.7L180.6 181.9L180.9 182.0L181.3 182.6L181.6 182.4L182.0 182.3L182.3 182.6L182.7 182.4L183.0 182.1L183.4 182.1L183.7 182.5L184.1 182.3L184.4 182.3L184.8 182.8L185.1 182.8L185.5 182.3L185.8 182.2L186.2 182.1L186.5 181.5L186.9 181.8L187.2 182.0L187.6 182.2L187.9 182.8L188.3 183.4L188.6 183.8L189.0 183.1L189.3 182.4L189.7 182.2L190.0 182.5L190.4 182.5L190.7 182.8L191.1 183.4L191.4 183.5L191.8 183.3L192.1 183.2L192.5 182.5L192.8 181.9L193.2 182.0L193.5 183.0L193.9 183.5L194.2 183.0L194.6 182.6L194.9 182.6L195.3 182.5L195.6 182.3L196.0 182.9L196.3 183.2L196.7 182.5L197.0 182.1L197.4 182.3L197.7 183.1L198.1 183.2L198.4 182.4L198.8 182.0L199.1 182.6L199.5 183.0L199.8 183.0L200.2 182.9L200.5 183.2L200.9 183.0L201.2 182.3L201.6 182.5L201.9 183.1L202.3 183.0L202.6 182.3L203.0 181.7L203.3 181.7L203.7 181.8L204.0 182.4L204.4 182.9L204.7 182.6L205.1 182.4L205.4 182.3L205.8 182.6L206.1 182.4L206.5 182.5L206.8 183.2L207.2 183.2L207.5 182.6L207.9 182.2L208.2 183.1L208.6 183.5L208.9 182.8L209.3 182.3L209.6 182.4L210.0 182.5L210.3 182.1L210.7 182.7L211.0 183.4L211.4 183.3L211.7 183.3L212.1 182.7L212.4 182.4L212.8 182.5L213.1 182.1L213.5 181.2L213.8 179.7L214.2 177.5L214.5 175.5L214.9 173.9L215.2 172.9L215.6 172.9L215.9 174.3L216.3 176.4L216.6 178.6L217.0 180.2L217.3 181.1L217.7 181.6L218.0 182.1L218.4 182.4L218.7 182.3L219.1 181.8L219.4 181.1L219.8 181.1L220.1 181.5L220.5 181.8L220.8 181.6L221.2 181.1L221.5 181.3L221.9 181.5L222.2 181.3L222.6 181.2L222.9 181.4L223.3 181.5L223.6 181.2L224.0 180.6L224.3 181.1L224.7 181.9L225.0 181.7L225.4 181.2L225.7 181.0L226.1 181.2L226.4 182.1L226.8 182.5L227.1 182.4L227.5 182.3L227.8 182.2L228.2 182.3L228.5 182.3L228.9 182.2L229.2 181.7L229.6 181.3L229.9 181.0L230.3 180.8L230.6 181.0L231.0 181.9L231.3 182.4L231.7 182.2L232.0 182.1L232.4 181.8L232.7 181.4L233.1 180.9L233.4 180.7L233.8 180.4L234.1 180.7L234.5 181.0L234.8 181.0L235.2 181.2L235.5 181.9L235.9 181.9L236.2 181.2L236.6 180.8L236.9 181.1L237.3 181.3L237.6 181.0L238.0 181.4L238.3 181.6L238.7 181.6L239.0 181.9L239.4 181.8L239.7 181.8L240.1 181.9L240.4 181.7L240.8 182.0L241.1 181.7L241.5 181.8L241.8 183.1L242.2 183.9L242.5 183.0L242.9 181.6L243.2 181.1L243.6 181.8L243.9 182.1L244.3 182.0L244.6 182.0L245.0 182.2L245.3 182.6L245.7 182.4L246.0 181.9L246.4 181.6L246.7 181.9L247.1 182.1L247.4 182.5L247.8 182.3L248.1 181.7L248.5 181.8L248.8 182.2L249.2 182.8L249.5 183.1L249.9 183.1L250.2 182.7L250.6 182.5L250.9 182.2L251.3 182.5L251.6 182.6L252.0 182.7L252.3 182.8L252.7 182.9L253.0 182.6L253.4 182.7L253.7 183.0L254.1 182.6L254.4 182.0L254.8 181.9L255.1 182.1L255.5 182.4L255.8 182.5L256.2 182.4L256.5 182.4L256.9 182.5L257.2 182.7L257.6 182.5L257.9 182.3L258.3 182.0L258.6 181.6L259.0 181.9L259.3 181.9L259.7 181.6L260.0 180.6L260.4 180.0L260.7 179.9L261.1 180.2L261.4 180.8L261.8 181.0L262.1 180.7L262.5 180.7L262.8 180.8L263.2 181.3L263.5 181.4L263.9 181.2L264.2 181.4L264.6 181.5L264.9 180.8L265.3 179.9L265.6 179.9L266.0 180.2L266.3 180.5L266.7 180.6L267.0 180.2L267.4 179.8L267.7 180.2L268.1 180.3L268.4 180.3L268.8 180.0L269.1 179.5L269.5 179.5L269.8 180.2L270.2 180.3L270.5 179.6L270.9 179.0L271.2 178.9L271.6 179.3L271.9 179.8L272.3 180.4L272.6 180.7L273.0 180.5L273.3 180.4L273.7 180.7L274.0 181.2L274.4 181.5L274.7 181.6L275.1 181.8L275.4 181.9L275.8 181.7L276.1 181.6L276.5 182.3L276.8 182.9L277.2 182.9L277.5 183.2L277.9 182.9L278.2 182.4L278.6 182.0L278.9 182.4L279.3 182.7L279.6 182.1L280.0 181.9L280.3 182.2L280.7 182.0L281.0 181.3L281.4 181.2L281.7 181.7L282.1 181.9L282.4 181.9L282.8 181.6L283.1 181.7L283.5 181.5L283.8 180.9L284.2 181.2L284.5 181.4L284.9 181.1L285.2 180.5L285.6 180.2L285.9 180.1L286.3 180.1L286.6 180.3L287.0 180.0L287.3 179.5L287.7 179.5L288.0 179.0L288.4 178.7L288.7 179.0L289.1 179.6L289.4 179.9L289.8 180.0L290.1 180.5L290.5 180.6L290.8 180.0L291.2 180.1L291.5 180.0L291.9 179.6L292.2 179.8L292.6 180.2L292.9 180.2L293.3 180.2L293.6 180.6L294.0 180.9L294.3 181.1L294.7 181.1L295.0 180.7L295.4 180.9L295.7 180.9L296.1 180.5L296.4 180.5L296.8 180.5L297.1 180.5L297.5 180.8L297.8 180.4L298.2 180.2L298.5 180.8L298.9 181.1L299.2 181.2L299.6 181.2L299.9 180.9L300.3 180.4L300.6 179.9L301.0 180.3L301.3 180.7L301.7 181.0L302.0 180.9L302.4 180.8L302.7 180.9L303.1 180.7L303.4 180.7L303.8 181.0L304.1 181.1L304.5 181.0L304.8 181.3L305.2 181.3L305.5 181.3L305.9 181.7L306.2 182.1L306.6 182.0L306.9 181.6L307.3 181.9L307.6 182.1L308.0 181.9L308.3 181.4L308.7 181.4L309.0 181.4L309.4 181.3L309.7 181.8L310.1 182.6L310.4 183.0L310.8 182.9L311.1 182.7L311.5 182.9L311.8 183.2L312.2 182.4L312.5 182.0L312.9 182.4L313.2 182.8L313.6 182.9L313.9 182.9L314.3 182.7L314.6 183.4L315.0 183.9L315.3 183.5L315.7 182.8L316.0 182.7L316.4 182.6L316.7 182.0L317.1 181.6L317.4 181.6L317.8 182.4L318.1 183.0L318.5 182.7L318.8 182.4L319.2 181.8L319.5 181.5L319.9 181.8L320.2 182.0L320.6 181.5L320.9 181.4L321.3 181.9L321.6 182.3L322.0 182.3L322.3 182.4L322.7 182.0L323.0 181.7L323.4 181.7L323.7 181.1L324.1 180.8L324.4 180.7L324.8 180.3L325.1 180.1L325.5 180.5L325.8 181.0L326.2 181.6L326.5 181.5L326.9 181.0L327.2 180.8L327.6 180.4L327.9 180.1L328.3 180.4L328.6 180.5L329.0 180.6L329.3 180.3L329.7 180.1L330.0 180.4L330.4 180.2L330.7 180.2L331.1 180.8L331.4 181.0L331.8 180.9L332.1 180.6L332.5 180.0L332.8 179.4L333.2 180.0L333.5 180.6L333.9 180.8L334.2 180.7L334.6 181.1L334.9 181.5L335.3 181.7L335.6 181.3L336.0 181.3L336.3 181.6L336.7 182.0L337.0 182.2L337.4 181.8L337.7 181.4L338.1 181.6L338.4 181.3L338.8 181.9L339.1 182.2L339.5 181.8L339.8 181.6L340.2 181.5L340.5 181.4L340.9 181.6L341.2 181.6L341.6 181.9L341.9 182.4L342.3 182.7L342.6 182.8L343.0 182.5L343.3 182.2L343.7 181.9L344.0 182.1L344.4 182.4L344.7 182.5L345.1 182.3L345.4 182.2L345.8 182.1L346.1 181.6L346.5 181.6L346.8 182.1L347.2 182.2L347.5 181.5L347.9 181.1L348.2 181.4L348.6 182.2L348.9 182.8L349.3 183.3L349.6 183.0L350.0 182.0L350.3 181.6L350.7 181.5L351.0 181.5L351.4 181.7L351.7 181.8L352.1 181.9L352.4 181.6L352.8 181.5L353.1 182.1L353.5 182.2L353.8 181.5L354.2 180.6L354.5 180.4L354.9 181.1L355.2 182.0L355.6 182.4L355.9 182.2L356.3 181.6L356.6 181.1L357.0 181.6L357.3 181.7L357.7 181.6L358.0 181.2L358.4 181.2L358.7 182.0L359.1 182.1L359.4 181.4L359.8 181.1L360.1 181.7L360.5 182.4L360.8 182.5L361.2 182.4L361.5 182.5L361.9 182.2L362.2 181.9L362.6 182.1L362.9 182.0L363.3 182.0L363.6 182.4L364.0 182.2L364.3 181.8L364.7 182.1L365.0 182.2L365.4 181.9L365.7 181.6L366.1 181.3L366.4 181.3L366.8 181.9L367.1 182.2L367.5 182.1L367.8 182.0L368.2 181.9L368.5 181.9L368.9 182.3L369.2 182.6L369.6 182.6L369.9 182.2L370.3 182.1L370.6 182.1L371.0 182.4L371.3 182.6L371.7 182.3L372.0 181.7L372.4 181.6L372.7 181.6L373.1 181.6L373.4 181.6L373.8 181.6L374.1 181.9L374.5 181.9L374.8 181.7L375.2 181.9L375.5 182.2L375.9 182.4L376.2 182.4L376.6 182.4L376.9 182.4L377.3 182.5L377.6 181.9L378.0 181.4L378.3 181.6L378.7 181.2L379.0 181.0L379.4 181.7L379.7 182.0L380.1 182.1L380.4 182.2L380.8 182.2L381.1 182.4L381.5 182.2L381.8 181.9L382.2 181.5L382.5 181.2L382.9 181.5L383.2 181.5L383.6 181.9L383.9 182.0L384.3 181.9L384.6 182.0L385.0 182.1L385.3 181.5L385.7 181.4L386.0 181.3L386.4 181.5L386.7 182.4L387.1 182.9L387.4 183.3L387.8 183.0L388.1 182.6L388.5 182.2L388.8 181.5L389.2 181.7L389.5 182.6L389.9 182.6L390.2 182.1L390.6 182.1L390.9 182.5L391.3 182.7L391.6 182.4L392.0 182.2L392.3 182.3L392.7 182.1L393.0 182.0L393.4 181.2L393.7 180.7L394.1 181.5L394.4 181.5L394.8 181.6L395.1 181.4L395.5 180.6L395.8 180.5L396.2 181.1L396.5 181.0L396.9 180.8L397.2 180.5L397.6 180.3L397.9 179.7L398.3 179.0L398.6 179.0L399.0 179.2L399.3 179.1L399.7 179.3L400.0 179.9L400.4 180.6L400.7 180.6L401.1 180.1L401.4 180.8L401.8 181.4L402.1 180.9L402.5 181.1L402.8 182.1L403.2 182.2L403.5 182.2L403.9 182.6L404.2 183.0L404.6 183.0L404.9 183.1L405.3 183.1L405.6 183.1L406.0 183.1L406.3 183.0L406.7 183.0L407.0 183.1L407.4 182.7L407.7 182.2L408.1 181.9L408.4 182.1L408.8 182.4L409.1 182.6L409.5 182.4L409.8 181.9L410.2 181.5L410.5 181.4L410.9 182.0L411.2 182.6L411.6 182.5L411.9 182.2L412.3 182.2L412.6 182.0L413.0 181.4L413.3 181.1L413.7 181.3L414.0 181.8L414.4 182.0L414.7 181.9L415.1 181.9L415.4 182.2L415.8 181.8L416.1 181.6L416.5 181.6L416.8 181.3L417.2 180.8L417.5 180.9L417.9 180.9L418.2 180.6L418.6 180.2L418.9 180.4L419.3 181.0L419.6 180.8L420.0 180.1L420.3 180.1L420.7 180.3L421.0 180.6L421.4 180.6L421.7 180.4L422.1 180.0L422.4 179.7L422.8 179.2L423.1 178.9L423.5 179.4L423.8 180.2L424.2 180.1L424.5 179.3L424.9 178.8L425.2 178.8L425.6 178.7L425.9 178.7L426.3 179.1L426.6 179.8L427.0 180.4L427.3 180.6L427.7 179.9L428.0 179.2L428.4 179.6L428.7 180.0L429.1 180.5L429.4 181.0L429.8 181.6L430.1 181.7L430.5 182.3L430.8 183.0L431.2 182.7L431.5 182.4L431.9 183.2L432.2 183.7L432.6 183.9L432.9 183.7L433.3 183.2L433.6 183.1L434.0 183.2L434.3 182.7L434.7 182.6L435.0 182.6L435.4 181.8L435.7 181.4L436.1 181.1L436.4 180.1L436.8 179.4L437.1 179.0L437.5 178.5L437.8 178.5L438.2 178.1L438.5 177.8L438.9 177.6L439.2 177.8L439.6 178.5L439.9 178.6L440.3 178.4L440.6 178.0L441.0 178.0L441.3 178.1L441.7 178.6L442.0 179.2L442.4 179.4L442.7 179.3L443.1 179.2L443.4 179.5L443.8 179.7L444.1 180.1L444.5 180.2L444.8 180.3L445.2 180.3L445.5 180.5L445.9 180.4L446.2 180.4L446.6 180.8L446.9 180.8L447.3 180.9L447.6 181.9L448.0 182.8L448.3 182.8L448.7 182.2L449.0 181.5L449.4 181.4L449.7 182.0L450.1 182.5L450.4 182.8L450.8 183.0L451.1 182.2L451.5 181.3L451.8 180.8L452.2 180.6L452.5 180.5L452.9 180.4L453.2 180.0L453.6 179.6L453.9 179.3L454.3 179.1L454.6 179.0L455.0 178.5L455.3 177.6L455.7 177.3L456.0 177.2L456.4 177.3L456.7 177.6L457.1 177.6L457.4 177.5L457.8 178.0L458.1 178.2L458.5 178.0L458.8 178.0L459.2 178.2L459.5 178.2L459.9 178.2L460.2 178.5L460.6 178.5L460.9 178.9L461.3 179.7L461.6 180.1L462.0 180.2L462.3 180.8L462.7 181.4L463.0 181.4L463.4 181.1L463.7 181.1L464.1 181.3L464.4 181.0L464.8 180.9L465.1 181.0L465.5 180.6L465.8 179.7L466.2 179.0L466.5 178.5L466.9 178.1L467.2 178.0L467.6 177.9L467.9 177.6L468.3 177.0L468.6 176.7L469.0 176.4L469.3 176.6L469.7 177.0L470.0 176.4" stroke="#000000"/>
<path d="M46.0 50.3L46.1 50.7L46.1 51.1L46.2 51.4L46.2 51.8L46.3 52.2L46.4 52.6L46.4 53.0L46.5 53.4L46.5 53.8L46.6 54.2L46.6 54.6L46.7 55.0L46.8 55.4L46.8 55.8L46.9 56.2L46.9 56.6L47.0 57.0L47.1 57.4L47.1 57.8L47.2 58.2L47.2 58.6L47.3 59.0L47.4 59.4L47.4 59.8L47.5 60.1L47.5 60.5L47.6 60.9L47.7 61.3L47.7 61.7L47.8 62.1L47.8 62.5L47.9 62.9L48.0 63.3L48.0 63.7L48.1 64.1L48.1 64.5L48.2 64.9L48.3 65.3L48.3 65.7L48.4 66.1L48.4 66.5L48.5 66.9L48.6 67.3L48.6 67.7L48.7 68.1L48.7 68.4L48.8 68.8L48.9 69.2L48.9 69.6L49.0 70.0L49.0 70.4L49.1 70.8L49.2 71.2L49.2 71.6L49.3 72.0L49.4 72.4L49.4 72.8L49.5 73.2L49.5 73.6L49.6 74.0L49.7 74.4L49.7 74.8L49.8 75.2L49.8 75.6L49.9 76.0L50.0 76.3L50.0 76.7L50.1 77.1L50.2 77.5L50.2 77.9L50.3 78.3L50.3 78.7L50.4 79.1L50.5 79.5L50.5 79.9L50.6 80.3L50.7 80.7L50.7 81.1L50.8 81.5L50.8 81.9L50.9 82.3L51.0 82.7L51.0 83.1L51.1 83.5L51.2 83.9L51.2 84.2L51.3 84.6L51.4 85.0L51.4 85.4L51.5 85.8L51.5 86.2L51.6 86.6L51.7 87.0L51.7 87.4L51.8 87.8L51.9 88.2L51.9 88.6L52.0 89.0L52.1 89.4L52.1 89.8L52.2 90.2L52.3 90.6L52.3 91.0L52.4 91.3L52.5 91.7L52.5 92.1L52.6 92.5L52.7 92.9L52.7 93.3L52.8 93.7L52.9 94.1L52.9 94.5L53.0 94.9L53.1 95.3L53.1 95.7L53.2 96.1L53.3 96.5L53.3 96.9L53.4 97.3L53.5 97.7L53.5 98.0L53.6 98.4L53.7 98.8L53.7 99.2L53.8 99.6L53.9 100.0L53.9 100.4L54.0 100.8L54.1 101.2L54.1 101.6L54.2 102.0L54.3 102.4L54.4 102.8L54.4 103.2L54.5 103.6L54.6 103.9L54.6 104.3L54.7 104.7L54.8 105.1L54.8 105.5L54.9 105.9L55.0 106.3L55.1 106.7L55.1 107.1L55.2 107.5L55.3 107.9L55.3 108.3L55.4 108.7L55.5 109.1L55.6 109.5L55.6 109.8L55.7 110.2L55.8 110.6L55.9 111.0L55.9 111.4L56.0 111.8L56.1 112.2L56.1 112.6L56.2 113.0L56.3 113.4L56.4 113.8L56.4 114.2L56.5 114.6L56.6 115.0L56.7 115.3L56.7 115.7L56.8 116.1L56.9 116.5L57.0 116.9L57.1 117.3L57.1 117.7L57.2 118.1L57.3 118.5L57.4 118.9L57.4 119.3L57.5 119.7L57.6 120.0L57.7 120.4L57.8 120.8L57.8 121.2L57.9 121.6L58.0 122.0L58.1 122.4L58.2 122.8L58.2 123.2L58.3 123.6L58.4 124.0L58.5 124.4L58.6 124.7L58.6 125.1L58.7 125.5L58.8 125.9L58.9 126.3L59.0 126.7L59.1 127.1L59.1 127.5L59.2 127.9L59.3 128.3L59.4 128.6L59.5 129.0L59.6 129.4L59.6 129.8L59.7 130.2L59.8 130.6L59.9 131.0L60.0 131.4L60.1 131.8L60.2 132.2L60.3 132.6L60.3 132.9L60.4 133.3L60.5 133.7L60.6 134.1L60.7 134.5L60.8 134.9L60.9 135.3L61.0 135.7L61.1 136.1L61.1 136.4L61.2 136.8L61.3 137.2L61.4 137.6L61.5 138.0L61.6 138.4L61.7 138.8L61.8 139.2L61.9 139.6L62.0 139.9L62.1 140.3L62.2 140.7L62.3 141.1L62.4 141.5L62.4 141.9L62.5 142.3L62.6 142.7L62.7 143.0L62.8 143.4L62.9 143.8L63.0 144.2L63.1 144.6L63.2 145.0L63.3 145.4L63.4 145.8L63.5 146.1L63.6 146.5L63.7 146.9L63.8 147.3L63.9 147.7L64.0 148.1L64.1 148.5L64.2 148.8L64.3 149.2L64.4 149.6L64.5 150.0L64.6 150.4L64.7 150.8L64.8 151.2L64.9 151.6L65.1 151.9L65.2 152.3L65.3 152.7L65.4 153.1L65.5 153.5L65.6 153.9L65.7 154.2L65.8 154.6L65.9 155.0L66.0 155.4L66.1 155.8L66.2 156.2L66.3 156.6L66.4 156.9L66.6 157.3L66.7 157.7L66.8 158.1L66.9 158.5L67.0 158.8L67.1 159.2L67.2 159.6L67.3 160.0L67.4 160.4L67.6 160.8L67.7 161.2L67.8 161.5L67.9 161.9L68.0 162.3L68.1 162.7L68.2 163.1L68.3 163.5L68.5 163.8L68.6 164.2L68.7 164.6L68.8 165.0L68.9 165.4L69.0 165.7L69.1 166.1L69.3 166.5L69.4 166.9L69.5 167.3L69.6 167.7L69.7 168.0L69.9 168.4L70.0 168.8L70.1 169.2L70.2 169.6L70.3 170.0L70.4 170.3L70.6 170.7L70.7 171.1L70.8 171.5L70.9 171.9L71.0 172.2L71.2 172.6L71.3 173.0L71.4 173.4L71.5 173.8L71.6 174.2L71.8 174.5L71.9 174.9L72.0 175.3L72.1 175.7L72.3 176.1L72.4 176.4L72.5 176.8L72.6 177.2L72.8 177.6L72.9 178.0L73.0 178.3L73.1 178.7L73.2 179.1L73.4 179.5L73.5 179.9L73.6 180.3L73.7 180.6L73.9 181.0L74.0 181.4L74.1 181.8L74.2 182.1L74.4 182.5L74.5 182.9L74.6 183.3L74.8 183.7L74.9 184.1L75.0 184.4L75.1 184.8L75.3 185.2L75.4 185.6L75.5 185.9L75.7 186.3L75.8 186.7L75.9 187.1L76.0 187.4L76.2 187.8L76.3 188.2L76.4 188.6L76.6 189.0L76.7 189.3L76.8 189.7L76.9 190.1L77.1 190.5L77.2 190.9L77.3 191.3L77.5 191.7L77.6 192.0L77.7 192.4L77.9 192.8L78.0 193.2L78.1 193.6L78.3 193.9L78.4 194.3L78.5 194.7L78.7 195.1L78.8 195.5L78.9 195.8L79.1 196.2L79.2 196.6L79.3 197.0L79.5 197.3L79.6 197.7L79.7 198.1L79.9 198.4L80.0 198.8L80.2 199.2L80.3 199.6L80.4 200.0L80.6 200.3L80.7 200.7L80.8 201.1L81.0 201.5L81.1 201.9L81.3 202.2L81.4 202.6L81.5 203.0L81.7 203.3L81.8 203.6L82.0 204.0L82.1 204.4L82.2 204.8L82.4 205.2L82.5 205.5L82.7 205.9L82.8 206.3L83.0 206.7L83.1 207.1L83.2 207.5L83.4 207.8L83.5 208.1L83.7 208.5L83.8 208.9L84.0 209.2L84.1 209.6L84.3 209.9L84.4 210.3L84.6 210.7L84.7 211.2L84.9 211.5L85.0 211.8L85.2 212.2L85.3 212.6L85.5 213.0L85.6 213.4L85.8 213.8L85.9 214.1L86.1 214.4L86.2 214.8L86.4 215.1L86.6 215.6L86.7 216.0L86.9 216.4L87.0 216.8L87.2 217.1L87.4 217.4L87.5 217.8L87.7 218.1L87.8 218.4L88.0 218.7L88.2 219.1L88.3 219.4L88.5 219.8L88.7 220.3L88.8 220.6L89.0 220.9L89.2 221.3L89.3 221.6L89.5 222.0L89.7 222.5L89.9 222.9L90.0 223.2L90.2 223.7L90.4 224.0L90.6 224.1L90.8 224.5L91.0 224.9L91.1 225.3L91.3 225.6L91.5 226.0L91.7 226.3L91.9 226.5L92.1 227.1L92.3 227.6L92.5 227.9L92.7 228.4L92.9 228.7L93.1 229.0L93.3 229.3L93.5 229.6L93.7 230.0L93.9 230.5L94.1 230.8L94.3 231.1L94.5 231.5L94.8 231.8L95.0 231.8L95.2 232.1L95.4 232.6L95.7 233.0L95.9 233.1L96.1 233.5L96.4 234.0L96.6 234.4L96.9 234.6L97.1 234.9L97.4 235.1L97.6 235.4L97.9 235.7L98.1 236.2L98.4 236.6L98.7 236.9L98.9 236.9L99.2 237.2L99.5 237.7L99.8 237.9L100.1 238.3L100.4 238.5L100.6 238.6L100.9 238.9L101.3 239.2L101.6 239.3L101.9 239.8L102.2 240.1L102.5 240.5L102.8 240.9L103.2 241.1L103.5 241.3L103.8 241.4L104.2 241.5L104.5 241.9L104.9 242.2L105.2 242.4L105.6 242.5L105.9 242.7L106.3 243.1L106.6 243.2L107.0 243.1L107.3 243.0L107.7 243.0L108.0 243.4L108.4 243.8L108.7 244.0L109.1 244.0L109.4 243.9L109.8 244.0L110.1 244.2L110.5 244.1L110.8 244.2L111.2 244.6L111.5 244.8L111.9 244.6L112.2 244.3L112.6 244.5L112.9 245.0L113.3 245.2L113.6 245.3L114.0 245.1L114.3 245.0L114.7 245.1L115.0 245.3L115.4 245.2L115.7 245.5L116.1 245.6L116.4 245.2L116.8 244.9L117.1 244.9L117.5 245.1L117.8 245.4L118.2 245.5L118.5 245.4L118.9 245.6L119.2 245.9L119.6 245.8L119.9 245.8L120.3 246.0L120.6 245.7L121.0 245.8L121.3 246.0L121.7 245.7L122.0 245.3L122.4 245.1L122.7 245.1L123.1 245.4L123.4 245.6L123.8 245.7L124.1 246.1L124.5 246.3L124.8 246.1L125.2 245.7L125.5 245.8L125.9 246.0L126.2 246.1L126.6 245.9L126.9 245.3L127.3 245.2L127.6 245.3L128.0 245.5L128.3 245.9L128.7 246.2L129.0 246.0L129.4 245.9L129.7 245.7L130.1 245.8L130.4 245.8L130.8 245.6L131.1 245.9L131.5 246.5L131.8 246.5L132.2 245.7L132.5 245.1L132.9 245.0L133.2 245.2L133.6 245.4L133.9 245.6L134.3 245.7L134.6 245.5L135.0 245.3L135.3 245.0L135.7 245.0L136.0 245.0L136.4 244.8L136.7 245.2L137.1 245.6L137.4 245.5L137.8 245.4L138.1 245.3L138.5 245.1L138.8 245.2L139.2 245.2L139.5 245.3L139.9 245.4L140.2 245.2L140.6 245.1L140.9 245.4L141.3 245.8L141.6 245.7L142.0 245.4L142.3 245.3L142.7 245.5L143.0 245.2L143.4 244.9L143.7 245.2L144.1 245.5L144.4 245.1L144.8 245.1L145.1 245.1L145.5 245.2L145.8 245.1L146.2 244.8L146.5 244.6L146.9 245.0L147.2 245.3L147.6 245.2L147.9 245.1L148.3 245.4L148.6 245.7L149.0 245.3L149.3 245.1L149.7 245.0L150.0 245.3L150.4 245.6L150.7 245.8L151.1 245.6L151.4 245.5L151.8 245.6L152.1 245.6L152.5 245.5L152.8 245.6L153.2 245.7L153.5 245.4L153.9 245.3L154.2 245.2L154.6 245.4L154.9 245.7L155.3 245.6L155.6 245.8L156.0 246.1L156.3 245.9L156.7 245.5L157.0 245.0L157.4 244.7L157.7 244.9L158.1 245.3L158.4 245.7L158.8 245.7L159.1 245.4L159.5 245.5L159.8 245.7L160.2 246.1L160.5 246.2L160.9 245.9L161.2 245.8L161.6 246.1L161.9 246.2L162.3 246.1L162.6 245.9L163.0 245.7L163.3 245.7L163.7 245.6L164.0 245.7L164.4 245.5L164.7 245.3L165.1 245.5L165.4 245.6L165.8 245.5L166.1 245.6L166.5 245.6L166.8 245.3L167.2 245.3L167.5 245.6L167.9 245.5L168.2 245.2L168.6 245.2L168.9 245.2L169.3 245.5L169.6 245.7L170.0 245.5L170.3 245.2L170.7 245.3L171.0 245.5L171.4 245.4L171.7 245.5L172.1 245.5L172.4 245.5L172.8 245.4L173.1 245.7L173.5 245.8L173.8 246.1L174.2 246.2L174.5 245.8L174.9 245.5L175.2 245.6L175.6 245.8L175.9 245.8L176.3 245.6L176.6 245.4L177.0 245.5L177.3 245.8L177.7 245.8L178.0 245.7L178.4 245.8L178.7 245.9L179.1 245.9L179.4 245.8L179.8 245.7L180.1 245.7L180.5 245.8L180.8 245.7L181.2 245.6L181.5 245.6L181.9 245.8L182.2 245.7L182.6 245.7L182.9 245.8L183.3 245.6L183.6 245.8L184.0 245.8L184.3 245.4L184.7 245.6L185.0 245.7L185.4 245.6L185.7 245.5L186.1 245.3L186.4 245.5L186.8 245.4L187.1 245.1L187.5 245.1L187.8 245.2L188.2 245.3L188.5 245.3L188.9 245.3L189.2 245.2L189.6 245.2L189.9 245.4L190.3 245.7L190.6 246.1L191.0 246.1L191.3 245.7L191.7 245.7L192.0 245.7L192.4 245.6L192.7 245.6L193.1 245.7L193.4 245.9L193.8 246.2L194.1 246.3L194.5 246.2L194.8 246.1L195.2 246.2L195.5 246.3L195.9 246.3L196.2 245.8L196.6 245.6L196.9 245.8L197.3 246.0L197.6 246.0L198.0 245.8L198.3 245.4L198.7 245.5L199.0 245.6L199.4 245.6L199.7 245.8L200.1 246.0L200.4 246.0L200.8 245.7L201.1 245.7L201.5 246.2L201.8 246.6L202.2 246.3L202.5 246.1L202.9 245.9L203.2 246.2L203.6 246.2L203.9 245.9L204.3 245.9L204.6 245.9L205.0 246.3L205.3 246.4L205.7 246.2L206.0 246.3L206.4 246.4L206.7 246.2L207.1 246.4L207.4 246.4L207.8 246.4L208.1 246.3L208.5 246.0L208.8 245.9L209.2 245.9L209.5 246.1L209.9 246.2L210.2 246.0L210.6 246.2L210.9 246.3L211.3 246.3L211.6 246.4L212.0 246.7L212.3 246.8L212.7 246.7L213.0 246.3L213.4 246.2L213.7 246.5L214.1 246.5L214.4 246.7L214.8 246.8L215.1 246.8L215.5 246.8L215.8 247.1L216.2 247.3L216.5 247.2L216.9 246.9L217.2 246.7L217.6 246.9L217.9 247.1L218.3 247.0L218.6 246.7L219.0 246.8L219.3 246.8L219.7 246.9L220.0 247.2L220.4 247.3L220.7 247.4L221.1 247.2L221.4 247.1L221.8 246.9L222.1 246.7L222.5 246.9L222.8 246.7L223.2 246.6L223.5 246.7L223.9 246.6L224.2 246.3L224.6 246.0L224.9 246.1L225.3 246.2L225.6 246.4L226.0 246.6L226.3 246.6L226.7 246.5L227.0 246.7L227.4 246.9L227.7 246.9L228.1 246.7L228.4 246.5L228.8 246.6L229.1 246.4L229.5 246.3L229.8 246.3L230.2 246.1L230.5 245.9L230.9 245.8L231.2 246.1L231.6 246.3L231.9 246.3L232.3 246.1L232.6 246.1L233.0 246.1L233.3 246.3L233.7 246.5L234.0 246.1L234.4 245.9L234.7 246.1L235.1 246.3L235.4 246.2L235.8 246.1L236.1 245.8L236.5 245.7L236.8 245.7L237.2 245.8L237.5 245.8L237.9 245.7L238.2 245.6L238.6 245.5L238.9 245.7L239.3 245.8L239.6 245.9L240.0 246.0L240.3 245.9L240.7 245.8L241.0 245.8L241.4 245.4L241.7 245.0L242.1 245.0L242.4 245.0L242.8 245.2L243.1 245.3L243.5 245.3L243.8 245.5L244.2 245.5L244.5 245.5L244.9 245.3L245.2 245.1L245.6 245.1L245.9 245.1L246.3 245.0L246.6 244.9L247.0 245.0L247.3 245.2L247.7 245.1L248.0 245.0L248.4 245.2L248.7 245.2L249.1 245.2L249.4 245.5L249.8 245.6L250.1 245.4L250.5 245.5L250.8 245.4L251.2 245.3L251.5 245.1L251.9 245.1L252.2 245.2L252.6 245.2L252.9 245.0L253.3 244.9L253.6 245.0L254.0 245.4L254.3 245.6L254.7 246.0L255.0 246.0L255.4 245.7L255.7 245.5L256.1 245.4L256.4 245.8L256.8 245.9L257.1 245.6L257.5 245.5L257.8 245.7L258.2 246.1L258.5 246.1L258.9 245.8L259.2 245.9L259.6 246.1L259.9 246.1L260.3 246.1L260.6 246.1L261.0 245.9L261.3 245.9L261.7 246.3L262.0 246.6L262.4 246.6L262.7 246.3L263.1 246.1L263.4 246.3L263.8 246.3L264.1 246.4L264.5 246.5L264.8 246.7L265.2 246.7L265.5 246.6L265.9 246.3L266.2 246.2L266.6 246.3L266.9 246.1L267.3 245.9L267.6 245.8L268.0 245.9L268.3 246.4L268.7 246.8L269.0 246.7L269.4 246.5L269.7 246.1L270.1 246.0L270.4 246.0L270.8 245.7L271.1 245.6L271.5 245.8L271.8 246.2L272.2 246.1L272.5 245.8L272.9 245.5L273.2 245.6L273.6 245.7L273.9 245.7L274.3 245.7L274.6 245.7L275.0 245.4L275.3 245.2L275.7 245.5L276.0 245.8L276.4 245.9L276.7 245.7L277.1 245.4L277.4 245.5L277.8 245.4L278.1 245.3L278.5 245.3L278.8 245.5L279.2 245.5L279.5 245.4L279.9 245.7L280.2 245.9L280.6 245.4L280.9 245.6L281.3 246.0L281.6 245.9L282.0 245.4L282.3 245.1L282.7 245.0L283.0 245.1L283.4 245.1L283.7 245.3L284.1 245.6L284.4 245.4L284.8 245.2L285.1 245.6L285.5 245.9L285.8 246.0L286.2 246.1L286.5 245.9L286.9 246.0L287.2 246.1L287.6 246.2L287.9 246.5L288.3 246.5L288.6 246.3L289.0 246.2L289.3 246.2L289.7 246.1L290.0 245.7L290.4 245.7L290.7 245.9L291.1 246.0L291.4 246.1L291.8 246.2L292.1 246.3L292.5 246.4L292.8 246.5L293.2 246.5L293.5 246.4L293.9 246.2L294.2 246.3L294.6 246.4L294.9 246.4L295.3 246.5L295.6 246.6L296.0 246.3L296.3 246.0L296.7 246.2L297.0 246.5L297.4 246.3L297.7 246.3L298.1 246.2L298.4 246.3L298.8 246.4L299.1 246.3L299.5 246.2L299.8 245.8L300.2 245.9L300.5 246.1L300.9 246.4L301.2 246.6L301.6 246.7L301.9 246.5L302.3 246.1L302.6 246.0L303.0 246.1L303.3 245.8L303.7 245.4L304.0 245.3L304.4 245.7L304.7 245.9L305.1 246.0L305.4 245.9L305.8 245.7L306.1 245.8L306.5 245.8L306.8 245.9L307.2 246.1L307.5 246.3L307.9 246.1L308.2 245.8L308.6 245.7L308.9 245.9L309.3 246.0L309.6 245.9L310.0 245.6L310.3 245.5L310.7 245.8L311.0 245.9L311.4 246.0L311.7 246.1L312.1 246.2L312.4 245.8L312.8 245.4L313.1 245.4L313.5 245.6L313.8 245.4L314.2 245.6L314.5 245.9L314.9 246.0L315.2 245.8L315.6 245.5L315.9 245.6L316.3 245.5L316.6 245.5L317.0 245.6L317.3 245.8L317.7 245.8L318.0 245.8L318.4 245.9L318.7 245.8L319.1 245.8L319.4 246.2L319.8 246.2L320.1 245.9L320.5 245.5L320.8 245.5L321.2 246.2L321.5 246.2L321.9 245.8L322.2 246.0L322.6 246.0L322.9 245.9L323.3 246.2L323.6 246.5L324.0 246.3L324.3 246.2L324.7 246.0L325.0 246.2L325.4 246.7L325.7 246.7L326.1 246.3L326.4 246.2L326.8 246.2L327.1 246.2L327.5 246.4L327.8 246.5L328.2 246.3L328.5 246.2L328.9 246.1L329.2 246.1L329.6 246.0L329.9 246.3L330.3 246.6L330.6 246.7L331.0 246.8L331.3 246.3L331.7 246.2L332.0 246.3L332.4 246.6L332.7 246.6L333.1 246.2L333.4 246.0L333.8 246.4L334.1 246.4L334.5 246.2L334.8 245.8L335.2 245.9L335.5 246.1L335.9 246.3L336.2 246.3L336.6 245.9L336.9 245.8L337.3 245.7L337.6 245.7L338.0 245.8L338.3 245.8L338.7 245.5L339.0 245.4L339.4 245.4L339.7 245.3L340.1 245.6L340.4 245.9L340.8 245.8L341.1 245.7L341.5 246.1L341.8 246.1L342.2 245.8L342.5 246.0L342.9 246.2L343.2 245.9L343.6 245.7L343.9 245.7L344.3 245.5L344.6 245.7L345.0 245.9L345.3 245.9L345.7 245.8L346.0 245.8L346.4 245.8L346.7 245.7L347.1 245.5L347.4 245.4L347.8 245.5L348.1 245.7L348.5 246.3L348.8 246.7L349.2 246.5L349.5 246.2L349.9 245.8L350.2 245.7L350.6 245.8L350.9 246.0L351.3 246.0L351.6 246.0L352.0 246.3L352.3 246.3L352.7 246.4L353.0 246.6L353.4 246.7L353.7 246.6L354.1 246.3L354.4 246.1L354.8 246.0L355.1 246.1L355.5 246.4L355.8 246.4L356.2 246.4L356.5 246.1L356.9 246.1L357.2 246.3L357.6 246.2L357.9 246.2L358.3 246.3L358.6 246.0L359.0 246.0L359.3 246.4L359.7 246.6L360.0 246.3L360.4 246.3L360.7 246.6L361.1 246.4L361.4 246.1L361.8 246.2L362.1 246.1L362.5 245.6L362.8 245.7L363.2 246.2L363.5 246.3L363.9 246.2L364.2 246.2L364.6 246.3L364.9 246.3L365.3 246.1L365.6 246.0L366.0 246.1L366.3 245.9L366.7 245.7L367.0 245.7L367.4 245.8L367.7 246.1L368.1 246.2L368.4 245.9L368.8 245.9L369.1 246.2L369.5 246.4L369.8 246.4L370.2 246.2L370.5 246.2L370.9 246.4L371.2 246.3L371.6 246.1L371.9 245.8L372.3 245.9L372.6 246.1L373.0 245.9L373.3 245.6L373.7 245.5L374.0 246.0L374.4 246.2L374.7 246.0L375.1 245.8L375.4 245.8L375.8 246.0L376.1 246.1L376.5 246.0L376.8 245.8L377.2 245.7L377.5 245.9L377.9 246.2L378.2 246.2L378.6 246.4L378.9 246.5L379.3 246.4L379.6 246.1L380.0 246.1L380.3 245.9L380.7 245.8L381.0 245.7L381.4 245.7L381.7 245.8L382.1 246.2L382.4 246.4L382.8 246.1L383.1 245.9L383.5 246.3L383.8 246.3L384.2 245.9L384.5 245.9L384.9 245.8L385.2 245.8L385.6 246.4L385.9 246.9L386.3 246.9L386.6 246.5L387.0 246.3L387.3 246.4L387.7 246.6L388.0 246.8L388.4 246.9L388.7 246.7L389.1 246.6L389.4 246.5L389.8 246.4L390.1 246.6L390.5 246.9L390.8 246.6L391.2 246.3L391.5 246.5L391.9 246.7L392.2 247.1L392.6 247.2L392.9 247.0L393.3 246.9L393.6 246.4L394.0 246.2L394.3 246.3L394.7 246.4L395.0 246.4L395.4 246.5L395.7 246.6L396.1 246.7L396.4 246.5L396.8 246.3L397.1 246.3L397.5 246.4L397.8 246.3L398.2 246.0L398.5 246.0L398.9 246.0L399.2 245.8L399.6 245.6L399.9 245.6L400.3 245.5L400.6 245.7L401.0 245.8L401.3 246.0L401.7 246.3L402.0 246.8L402.4 247.0L402.7 246.9L403.1 246.4L403.4 246.2L403.8 246.2L404.1 246.0L404.5 245.9L404.8 246.0L405.2 246.1L405.5 246.2L405.9 246.0L406.2 246.1L406.6 246.2L406.9 246.2L407.3 246.2L407.6 246.0L408.0 246.0L408.3 245.8L408.7 245.8L409.0 246.3L409.4 246.4L409.7 246.1L410.1 245.7L410.4 245.5L410.8 245.7L411.1 246.0L411.5 246.4L411.8 246.4L412.2 246.1L412.5 246.2L412.9 246.1L413.2 245.7L413.6 245.5L413.9 245.8L414.3 246.1L414.6 246.0L415.0 245.7L415.3 245.7L415.7 245.7L416.0 245.6L416.4 245.7L416.7 245.9L417.1 245.8L417.4 245.7L417.8 245.8L418.1 245.9L418.5 245.8L418.8 245.8L419.2 245.7L419.5 245.5L419.9 245.5L420.2 245.5L420.6 245.6L420.9 245.8L421.3 245.7L421.6 245.8L422.0 245.9L422.3 245.7L422.7 244.9L423.0 244.4L423.4 245.1L423.7 245.8L424.1 245.8L424.4 245.5L424.8 245.5L425.1 245.6L425.5 245.8L425.8 246.0L426.2 245.7L426.5 245.2L426.9 245.1L427.2 245.4L427.6 245.6L427.9 245.9L428.3 246.0L428.6 245.8L429.0 245.5L429.3 245.5L429.7 245.5L430.0 245.5L430.4 245.6L430.7 246.0L431.1 246.1L431.4 245.8L431.8 245.6L432.1 245.8L432.5 245.7L432.8 245.5L433.2 245.7L433.5 245.9L433.9 245.7L434.2 245.4L434.6 245.7L434.9 245.9L435.3 245.8L435.6 245.9L436.0 246.0L436.3 245.8L436.7 245.4L437.0 245.5L437.4 245.6L437.7 245.5L438.1 245.7L438.4 245.9L438.8 245.7L439.1 246.0L439.5 246.0L439.8 245.6L440.2 245.4L440.5 245.5L440.9 245.5L441.2 245.4L441.6 245.5L441.9 245.5L442.3 245.6L442.6 245.8L443.0 245.8L443.3 245.6L443.7 245.7L444.0 246.2L444.4 246.4L444.7 246.0L445.1 245.9L445.4 245.9L445.8 245.9L446.1 245.7L446.5 245.4L446.8 245.3L447.2 245.6L447.5 246.0L447.9 246.2L448.2 246.4L448.6 246.2L448.9 245.9L449.3 245.7L449.6 245.6L450.0 245.7L450.3 245.7L450.7 245.6L451.0 245.8L451.4 246.0L451.7 245.8L452.1 245.7L452.4 245.6L452.8 245.3L453.1 244.8L453.5 244.9L453.8 245.4L454.2 245.7L454.5 245.4L454.9 245.0L455.2 245.2L455.6 245.3L455.9 245.1L456.3 245.1L456.6 245.2L457.0 245.2L457.3 245.3L457.7 245.3L458.0 245.5L458.4 245.7L458.7 245.8L459.1 245.6L459.4 245.3L459.8 245.1L460.1 245.0L460.5 245.2L460.8 245.3L461.2 245.1L461.5 245.4L461.9 245.7L462.2 245.7L462.6 245.8L462.9 246.0L463.3 245.6L463.6 245.2L464.0 245.2L464.3 245.5L464.7 245.8L465.0 245.7L465.4 245.4L465.7 245.4L466.1 245.5L466.4 245.6L466.8 245.8L467.1 245.8L467.5 245.5L467.8 245.5L468.2 245.6L468.5 245.6L468.9 245.9L469.2 246.2L469.6 246.1L469.9 246.0L470.0 245.8" stroke="#000000"/>
<path d="M46.0 49.9L46.2 50.3L46.3 50.7L46.5 51.1L46.6 51.4L46.8 51.8L46.9 52.2L47.1 52.5L47.3 52.9L47.4 53.3L47.6 53.6L47.7 54.0L47.9 54.4L48.0 54.7L48.2 55.1L48.4 55.5L48.5 55.8L48.7 56.2L48.9 56.6L49.0 56.9L49.2 57.3L49.3 57.6L49.5 58.0L49.7 58.4L49.8 58.7L50.0 59.1L50.2 59.5L50.3 59.8L50.5 60.2L50.7 60.6L50.8 60.9L51.0 61.3L51.2 61.6L51.3 62.0L51.5 62.4L51.7 62.7L51.8 63.1L52.0 63.5L52.2 63.8L52.3 64.2L52.5 64.5L52.7 64.9L52.9 65.3L53.0 65.6L53.2 66.0L53.4 66.3L53.6 66.7L53.7 67.1L53.9 67.4L54.1 67.8L54.3 68.1L54.4 68.5L54.6 68.8L54.8 69.2L55.0 69.6L55.2 69.9L55.3 70.3L55.5 70.6L55.7 71.0L55.9 71.3L56.1 71.7L56.2 72.1L56.4 72.4L56.6 72.8L56.8 73.1L57.0 73.5L57.2 73.8L57.3 74.2L57.5 74.5L57.7 74.9L57.9 75.2L58.1 75.6L58.3 75.9L58.5 76.3L58.7 76.6L58.9 77.0L59.0 77.3L59.2 77.7L59.4 78.0L59.6 78.4L59.8 78.7L60.0 79.1L60.2 79.4L60.4 79.8L60.6 80.1L60.8 80.5L61.0 80.8L61.2 81.2L61.4 81.5L61.6 81.9L61.8 82.2L62.0 82.6L62.2 82.9L62.4 83.3L62.6 83.6L62.8 83.9L63.0 84.3L63.2 84.6L63.4 85.0L63.6 85.3L63.8 85.6L64.0 86.0L64.3 86.3L64.5 86.7L64.7 87.0L64.9 87.4L65.1 87.7L65.3 88.0L65.5 88.4L65.7 88.7L65.9 89.0L66.2 89.4L66.4 89.7L66.6 90.1L66.8 90.4L67.0 90.7L67.2 91.1L67.5 91.4L67.7 91.7L67.9 92.1L68.1 92.4L68.3 92.7L68.6 93.1L68.8 93.4L69.0 93.7L69.2 94.1L69.5 94.4L69.7 94.7L69.9 95.0L70.1 95.4L70.4 95.7L70.6 96.0L70.8 96.4L71.0 96.7L71.3 97.0L71.5 97.3L71.7 97.7L72.0 98.0L72.2 98.3L72.4 98.6L72.7 99.0L72.9 99.3L73.1 99.6L73.4 99.9L73.6 100.3L73.8 100.6L74.1 100.9L74.3 101.2L74.5 101.5L74.8 101.9L75.0 102.2L75.3 102.5L75.5 102.8L75.7 103.1L76.0 103.5L76.2 103.8L76.5 104.1L76.7 104.4L77.0 104.7L77.2 105.0L77.5 105.4L77.7 105.7L77.9 106.0L78.2 106.3L78.4 106.6L78.7 106.9L78.9 107.2L79.2 107.6L79.4 107.9L79.7 108.2L79.9 108.5L80.2 108.8L80.4 109.1L80.7 109.4L80.9 109.7L81.2 110.0L81.5 110.3L81.7 110.7L82.0 111.0L82.2 111.3L82.5 111.6L82.7 111.9L83.0 112.2L83.2 112.5L83.5 112.8L83.8 113.1L84.0 113.4L84.3 113.7L84.5 114.0L84.8 114.3L85.1 114.6L85.3 114.9L85.6 115.2L85.8 115.5L86.1 115.8L86.4 116.1L86.6 116.4L86.9 116.7L87.2 117.0L87.4 117.3L87.7 117.6L88.0 117.9L88.2 118.2L88.5 118.5L88.7 118.8L89.0 119.1L89.3 119.4L89.6 119.7L89.8 120.0L90.1 120.3L90.4 120.6L90.6 120.9L90.9 121.2L91.2 121.5L91.4 121.8L91.7 122.1L92.0 122.4L92.3 122.7L92.5 123.0L92.8 123.2L93.1 123.5L93.3 123.8L93.6 124.1L93.9 124.4L94.2 124.7L94.4 125.0L94.7 125.3L95.0 125.6L95.3 125.9L95.5 126.2L95.8 126.4L96.1 126.7L96.4 127.0L96.7 127.3L96.9 127.6L97.2 127.9L97.5 128.2L97.8 128.5L98.1 128.7L98.3 129.0L98.6 129.3L98.9 129.6L99.2 129.9L99.5 130.2L99.7 130.4L100.0 130.7L100.3 131.0L100.6 131.3L100.9 131.6L101.1 131.9L101.4 132.1L101.7 132.4L102.0 132.7L102.3 133.0L102.6 133.3L102.9 133.5L103.1 133.8L103.4 134.1L103.7 134.4L104.0 134.7L104.3 134.9L104.6 135.2L104.9 135.5L105.1 135.8L105.4 136.1L105.7 136.3L106.0 136.6L106.3 136.9L106.6 137.2L106.9 137.4L107.2 137.7L107.5 138.0L107.7 138.3L108.0 138.5L108.3 138.8L108.6 139.1L108.9 139.4L109.2 139.6L109.5 139.9L109.8 140.2L110.1 140.5L110.4 140.7L110.7 141.0L111.0 141.3L111.2 141.5L111.5 141.8L111.8 142.1L112.1 142.4L112.4 142.6L112.7 142.9L113.0 143.2L113.3 143.4L113.6 143.7L113.9 144.0L114.2 144.2L114.5 144.5L114.8 144.8L115.1 145.0L115.4 145.3L115.7 145.6L116.0 145.9L116.3 146.1L116.6 146.4L116.9 146.7L117.2 146.9L117.5 147.2L117.8 147.4L118.1 147.7L118.4 148.0L118.7 148.2L119.0 148.5L119.3 148.8L119.6 149.0L119.9 149.3L120.2 149.6L120.5 149.8L120.8 150.1L121.1 150.4L121.4 150.6L121.7 150.9L122.0 151.1L122.3 151.4L122.6 151.7L122.9 151.9L123.2 152.2L123.5 152.4L123.8 152.7L124.1 153.0L124.4 153.2L124.7 153.5L125.0 153.7L125.3 154.0L125.6 154.3L125.9 154.5L126.2 154.8L126.5 155.0L126.8 155.3L127.1 155.6L127.4 155.8L127.8 156.1L128.1 156.3L128.4 156.6L128.7 156.8L129.0 157.1L129.3 157.4L129.6 157.6L129.9 157.9L130.2 158.1L130.5 158.4L130.8 158.6L131.1 158.9L131.4 159.1L131.7 159.4L132.1 159.7L132.4 159.9L132.7 160.2L133.0 160.4L133.3 160.7L133.6 160.9L133.9 161.2L134.2 161.4L134.5 161.7L134.8 161.9L135.1 162.2L135.5 162.4L135.8 162.7L136.1 162.9L136.4 163.2L136.7 163.5L137.0 163.7L137.3 164.0L137.6 164.2L137.9 164.5L138.3 164.7L138.6 165.0L138.9 165.2L139.2 165.5L139.5 165.7L139.8 166.0L140.1 166.2L140.4 166.5L140.8 166.7L141.1 166.9L141.4 167.2L141.7 167.4L142.0 167.7L142.3 167.9L142.6 168.2L143.0 168.4L143.3 168.7L143.6 168.9L143.9 169.2L144.2 169.4L144.5 169.7L144.8 169.9L145.2 170.2L145.5 170.4L145.8 170.7L146.1 170.9L146.4 171.2L146.7 171.4L147.0 171.6L147.4 171.9L147.7 172.1L148.0 172.4L148.3 172.6L148.6 172.9L148.9 173.1L149.3 173.4L149.6 173.6L149.9 173.8L150.2 174.1L150.5 174.3L150.8 174.6L151.2 174.8L151.5 175.1L151.8 175.3L152.1 175.6L152.4 175.8L152.7 176.0L153.1 176.3L153.4 176.5L153.7 176.8L154.0 177.0L154.3 177.3L154.7 177.5L155.0 177.7L155.3 178.0L155.6 178.2L155.9 178.5L156.2 178.7L156.6 179.0L156.9 179.2L157.2 179.4L157.5 179.7L157.8 179.9L158.2 180.2L158.5 180.4L158.8 180.6L159.1 180.9L159.4 181.1L159.8 181.4L160.1 181.6L160.4 181.8L160.7 182.1L161.0 182.3L161.4 182.6L161.7 182.8L162.0 183.0L162.3 183.3L162.6 183.5L163.0 183.8L163.3 184.0L163.6 184.2L163.9 184.5L164.2 184.7L164.6 185.0L164.9 185.2L165.2 185.4L165.5 185.7L165.8 185.9L166.2 186.1L166.5 186.4L166.8 186.6L167.1 186.9L167.5 187.1L167.8 187.3L168.1 187.6L168.4 187.8L168.7 188.1L169.1 188.3L169.4 188.5L169.7 188.8L170.0 189.0L170.4 189.2L170.7 189.5L171.0 189.7L171.3 189.9L171.6 190.2L172.0 190.4L172.3 190.7L172.6 190.9L172.9 191.1L173.3 191.4L173.6 191.6L173.9 191.8L174.2 192.1L174.6 192.3L174.9 192.5L175.2 192.8L175.5 193.0L175.8 193.2L176.2 193.5L176.5 193.7L176.8 194.0L177.1 194.2L177.5 194.4L177.8 194.7L178.1 194.9L178.4 195.1L178.8 195.4L179.1 195.6L179.4 195.8L179.7 196.1L180.1 196.3L180.4 196.5L180.7 196.8L181.0 197.0L181.4 197.2L181.7 197.5L182.0 197.7L182.3 197.9L182.7 198.2L183.0 198.4L183.3 198.6L183.6 198.9L184.0 199.1L184.3 199.3L184.6 199.6L184.9 199.8L185.3 200.0L185.6 200.3L185.9 200.5L186.2 200.7L186.6 201.0L186.9 201.2L187.2 201.4L187.5 201.6L187.9 201.9L188.2 202.1L188.5 202.3L188.8 202.6L189.2 202.8L189.5 203.0L189.8 203.3L190.2 203.5L190.5 203.7L190.8 204.0L191.1 204.2L191.5 204.4L191.8 204.7L192.1 204.9L192.4 205.1L192.8 205.3L193.1 205.6L193.4 205.8L193.7 206.0L194.1 206.3L194.4 206.5L194.7 206.7L195.1 206.9L195.4 207.2L195.7 207.4L196.0 207.6L196.4 207.9L196.7 208.1L197.0 208.3L197.4 208.5L197.7 208.8L198.0 209.0L198.3 209.2L198.7 209.5L199.0 209.7L199.3 209.9L199.6 210.1L200.0 210.4L200.3 210.6L200.6 210.8L201.0 211.1L201.3 211.3L201.6 211.5L201.9 211.7L202.3 212.0L202.6 212.2L202.9 212.4L203.3 212.6L203.6 212.9L203.9 213.1L204.3 213.4L204.6 213.6L204.9 213.8L205.2 214.0L205.6 214.3L205.9 214.5L206.2 214.7L206.6 214.9L206.9 215.1L207.2 215.4L207.5 215.6L207.9 215.8L208.2 216.1L208.5 216.3L208.9 216.5L209.2 216.8L209.5 217.0L209.9 217.2L210.2 217.4L210.5 217.7L210.9 217.9L211.2 218.1L211.5 218.3L211.8 218.6L212.2 218.8L212.5 219.0L212.8 219.2L213.2 219.5L213.5 219.7L213.8 219.9L214.2 220.1L214.5 220.3L214.8 220.6L215.2 220.8L215.5 221.0L215.8 221.3L216.2 221.5L216.5 221.7L216.8 221.9L217.2 222.2L217.5 222.4L217.8 222.6L218.2 222.8L218.5 223.0L218.8 223.3L219.2 223.5L219.5 223.7L219.8 223.9L220.2 224.1L220.5 224.4L220.8 224.6L221.2 224.8L221.5 225.0L221.8 225.2L222.2 225.5L222.5 225.7L222.8 225.9L223.2 226.2L223.5 226.4L223.8 226.6L224.2 226.8L224.5 227.0L224.8 227.2L225.2 227.5L225.5 227.7L225.8 227.9L226.2 228.1L226.5 228.3L226.8 228.6L227.2 228.8L227.5 229.0L227.9 229.2L228.2 229.5L228.5 229.7L228.9 229.9L229.2 230.0L229.5 230.3L229.9 230.5L230.2 230.8L230.5 230.9L230.9 231.1L231.2 231.4L231.6 231.6L231.9 231.8L232.2 232.0L232.6 232.2L232.9 232.4L233.2 232.6L233.6 232.9L233.9 233.1L234.3 233.3L234.6 233.5L234.9 233.7L235.3 233.9L235.6 234.1L236.0 234.3L236.3 234.5L236.6 234.8L237.0 235.0L237.3 235.2L237.7 235.4L238.0 235.7L238.3 235.8L238.7 236.0L239.0 236.2L239.4 236.4L239.7 236.6L240.0 236.8L240.4 237.0L240.7 237.2L241.1 237.4L241.4 237.6L241.7 237.8L242.1 238.0L242.4 238.3L242.8 238.5L243.1 238.7L243.5 238.9L243.8 239.1L244.1 239.3L244.5 239.6L244.8 239.8L245.2 240.0L245.5 240.1L245.9 240.3L246.2 240.5L246.5 240.7L246.9 240.9L247.2 241.1L247.6 241.3L247.9 241.6L248.3 241.8L248.6 242.0L249.0 242.2L249.3 242.4L249.7 242.6L250.0 242.8L250.3 243.0L250.7 243.2L251.0 243.4L251.4 243.5L251.7 243.8L252.1 244.0L252.4 244.2L252.8 244.4L253.1 244.6L253.5 244.8L253.8 245.0L254.2 245.2L254.5 245.4L254.9 245.5L255.2 245.8L255.6 246.0L255.9 246.3L256.3 246.4L256.6 246.6L257.0 246.8L257.3 247.0L257.7 247.2L258.0 247.4L258.4 247.6L258.7 247.8L259.1 248.0L259.4 248.2L259.8 248.4L260.1 248.5L260.5 248.7L260.8 249.0L261.2 249.1L261.5 249.3L261.9 249.5L262.2 249.6L262.6 249.8L262.9 250.0L263.3 250.2L263.6 250.4L264.0 250.7L264.3 250.8L264.7 250.9L265.0 251.1L265.4 251.3L265.7 251.5L266.1 251.7L266.4 251.8L266.8 252.0L267.1 252.2L267.5 252.4L267.8 252.5L268.2 252.7L268.5 252.8L268.9 253.0L269.2 253.3L269.6 253.5L269.9 253.6L270.3 253.8L270.6 254.0L271.0 254.1L271.3 254.3L271.7 254.5L272.0 254.6L272.4 254.6L272.7 254.8L273.1 255.1L273.4 255.3L273.8 255.5L274.1 255.7L274.5 255.9L274.8 256.0L275.2 256.1L275.5 256.3L275.9 256.4L276.2 256.5L276.6 256.6L276.9 256.9L277.3 257.2L277.6 257.5L278.0 257.5L278.3 257.5L278.7 257.6L279.0 257.8L279.4 257.9L279.7 258.0L280.1 258.2L280.4 258.4L280.8 258.6L281.1 258.7L281.5 258.8L281.8 258.9L282.2 259.2L282.5 259.4L282.9 259.4L283.2 259.4L283.6 259.6L283.9 259.9L284.3 260.0L284.6 260.2L285.0 260.3L285.3 260.4L285.7 260.6L286.0 260.6L286.4 260.7L286.7 260.9L287.1 261.0L287.4 261.1L287.8 261.3L288.1 261.3L288.5 261.5L288.8 261.6L289.2 261.7L289.5 261.9L289.9 262.1L290.2 262.0L290.6 262.1L290.9 262.3L291.3 262.6L291.6 262.8L292.0 262.8L292.3 262.9L292.7 263.1L293.0 263.3L293.4 263.3L293.7 263.2L294.1 263.2L294.4 263.5L294.8 263.7L295.1 263.8L295.5 263.9L295.8 264.0L296.2 264.1L296.5 264.1L296.9 264.3L297.2 264.6L297.6 264.8L297.9 265.0L298.3 265.2L298.6 265.2L299.0 265.3L299.3 265.4L299.7 265.4L300.0 265.4L300.4 265.5L300.7 265.6L301.1 265.7L301.4 265.9L301.8 265.9L302.1 265.9L302.5 266.1L302.8 266.2L303.2 266.2L303.5 266.1L303.9 266.2L304.2 266.6L304.6 266.8L304.9 267.0L305.3 267.1L305.6 267.1L306.0 267.1L306.3 267.3L306.7 267.3L307.0 267.5L307.4 267.6L307.7 267.6L308.1 267.6L308.4 267.7L308.8 267.9L309.1 268.1L309.5 268.2L309.8 268.4L310.2 268.5L310.5 268.4L310.9 268.4L311.2 268.5L311.6 268.7L311.9 268.7L312.3 268.6L312.6 268.6L313.0 268.8L313.3 268.9L313.7 268.7L314.0 268.8L314.4 269.0L314.7 269.2L315.1 269.4L315.4 269.5L315.8 269.6L316.1 269.8L316.5 270.0L316.8 270.0L317.2 270.0L317.5 270.0L317.9 270.1L318.2 270.1L318.6 270.1L318.9 270.4L319.3 270.5L319.6 270.5L320.0 270.5L320.3 270.5L320.7 270.6L321.0 271.0L321.4 271.3L321.7 271.3L322.1 271.1L322.4 270.8L322.8 270.7L323.1 271.0L323.5 271.2L323.8 271.2L324.2 271.4L324.5 271.6L324.9 271.6L325.2 271.6L325.6 271.7L325.9 272.0L326.3 272.0L326.6 271.7L327.0 271.5L327.3 271.3L327.7 271.4L328.0 271.7L328.4 272.0L328.7 272.1L329.1 272.2L329.4 272.3L329.8 272.3L330.1 272.0L330.5 272.1L330.8 272.5L331.2 272.6L331.5 272.6L331.9 272.6L332.2 272.8L332.6 272.8L332.9 272.7L333.3 272.6L333.6 272.8L334.0 272.9L334.3 273.1L334.7 273.3L335.0 273.3L335.4 273.1L335.7 273.0L336.1 273.0L336.4 273.0L336.8 272.8L337.1 273.1L337.5 273.5L337.8 273.7L338.2 273.6L338.5 273.5L338.9 273.4L339.2 273.3L339.6 273.3L339.9 273.3L340.3 273.2L340.6 273.3L341.0 273.3L341.3 273.4L341.7 273.6L342.0 273.9L342.4 274.1L342.7 274.1L343.1 273.8L343.4 273.7L343.8 273.8L344.1 273.9L344.5 274.0L344.8 274.0L345.2 274.1L345.5 274.2L345.9 274.3L346.2 274.2L346.6 274.1L346.9 274.0L347.3 274.0L347.6 273.8L348.0 273.7L348.3 273.7L348.7 273.7L349.0 274.0L349.4 274.3L349.7 274.3L350.1 274.1L350.4 274.0L350.8 274.0L351.1 273.7L351.5 273.6L351.8 273.7L352.2 273.9L352.5 273.9L352.9 274.2L353.2 274.4L353.6 274.3L353.9 274.2L354.3 274.2L354.6 274.1L355.0 274.3L355.3 274.7L355.7 274.6L356.0 274.2L356.4 274.2L356.7 274.4L357.1 274.6L357.4 274.6L357.8 274.5L358.1 274.5L358.5 274.6L358.8 274.7L359.2 274.7L359.5 274.6L359.9 274.6L360.2 274.9L360.6 275.0L360.9 275.0L361.3 275.2L361.6 275.4L362.0 275.5L362.3 275.5L362.7 275.4L363.0 275.3L363.4 275.1L363.7 274.9L364.1 274.9L364.4 275.2L364.8 275.3L365.1 275.1L365.5 274.9L365.8 275.0L366.2 275.2L366.5 275.2L366.9 275.0L367.2 274.9L367.6 275.2L367.9 275.4L368.3 275.2L368.6 275.2L369.0 275.2L369.3 275.4L369.7 275.5L370.0 275.4L370.4 275.4L370.7 275.4L371.1 275.4L371.4 275.3L371.8 274.9L372.1 274.8L372.5 274.7L372.8 274.8L373.2 275.0L373.5 275.0L373.9 275.2L374.2 275.5L374.6 275.8L374.9 276.0L375.3 275.6L375.6 275.1L376.0 274.8L376.3 275.0L376.7 275.2L377.0 275.3L377.4 275.3L377.7 275.1L378.1 275.0L378.4 275.2L378.8 275.1L379.1 275.0L379.5 275.1L379.8 275.0L380.2 274.9L380.5 274.9L380.9 275.1L381.2 275.4L381.6 275.9L381.9 276.0L382.3 275.7L382.6 275.7L383.0 275.7L383.3 275.8L383.7 275.6L384.0 275.4L384.4 275.3L384.7 275.3L385.1 275.4L385.4 275.5L385.8 275.5L386.1 275.6L386.5 275.8L386.8 276.0L387.2 275.9L387.5 275.8L387.9 275.9L388.2 275.9L388.6 275.8L388.9 275.8L389.3 275.8L389.6 276.0L390.0 276.1L390.3 276.2L390.7 276.2L391.0 276.2L391.4 276.0L391.7 275.8L392.1 275.8L392.4 275.8L392.8 276.0L393.1 276.1L393.5 276.3L393.8 276.5L394.2 276.4L394.5 276.3L394.9 276.3L395.2 276.4L395.6 276.5L395.9 276.6L396.3 276.5L396.6 276.6L397.0 276.7L397.3 276.5L397.7 276.3L398.0 276.3L398.4 276.4L398.7 276.6L399.1 276.7L399.4 276.8L399.8 277.0L400.1 276.9L400.5 276.6L400.8 276.3L401.2 276.3L401.5 276.4L401.9 276.5L402.2 276.5L402.6 276.8L402.9 277.0L403.3 276.7L403.6 276.5L404.0 276.7L404.3 276.8L404.7 277.0L405.0 276.8L405.4 276.6L405.7 276.5L406.1 276.5L406.4 276.3L406.8 276.5L407.1 276.9L407.5 276.9L407.8 276.8L408.2 276.7L408.5 276.6L408.9 276.7L409.2 277.0L409.6 276.9L409.9 276.8L410.3 276.9L410.6 277.1L411.0 277.1L411.3 277.2L411.7 276.8L412.0 276.5L412.4 276.7L412.7 276.9L413.1 277.0L413.4 277.1L413.8 277.1L414.1 277.0L414.5 276.8L414.8 276.6L415.2 276.7L415.5 277.0L415.9 277.1L416.2 276.9L416.6 276.6L416.9 276.5L417.3 276.5L417.6 276.5L418.0 276.4L418.3 276.4L418.7 276.3L419.0 276.3L419.4 276.4L419.7 276.4L420.1 276.2L420.4 276.1L420.8 276.0L421.1 276.0L421.5 276.0L421.8 276.2L422.2 276.3L422.5 275.9L422.9 275.9L423.2 276.2L423.6 276.1L423.9 276.0L424.3 276.3L424.6 276.6L425.0 276.4L425.3 276.2L425.7 275.9L426.0 275.9L426.4 276.1L426.7 276.1L427.1 275.9L427.4 275.9L427.8 275.9L428.1 275.8L428.5 275.9L428.8 276.0L429.2 276.0L429.5 276.0L429.9 276.3L430.2 276.5L430.6 276.3L430.9 276.1L431.3 275.9L431.6 275.9L432.0 276.0L432.3 276.2L432.7 276.3L433.0 276.5L433.4 276.5L433.7 276.7L434.1 276.9L434.4 277.0L434.8 277.1L435.1 276.9L435.5 276.6L435.8 276.7L436.2 276.7L436.5 276.7L436.9 276.8L437.2 276.9L437.6 276.9L437.9 276.7L438.3 276.4L438.6 276.3L439.0 276.0L439.3 275.9L439.7 276.2L440.0 276.5L440.4 276.7L440.7 276.8L441.1 276.6L441.4 276.7L441.8 277.0L442.1 276.8L442.5 276.9L442.8 276.7L443.2 276.5L443.5 276.8L443.9 277.0L444.2 277.0L444.6 277.1L444.9 277.1L445.3 277.4L445.6 277.5L446.0 277.2L446.3 277.1L446.7 277.1L447.0 276.9L447.4 276.6L447.7 276.8L448.1 276.8L448.4 276.7L448.8 276.8L449.1 277.2L449.5 277.1L449.8 276.9L450.2 276.8L450.5 276.8L450.9 276.9L451.2 277.0L451.6 277.0L451.9 276.8L452.3 276.8L452.6 276.8L453.0 276.7L453.3 276.7L453.7 277.0L454.0 277.0L454.4 277.0L454.7 276.6L455.1 276.5L455.4 276.5L455.8 276.6L456.1 276.9L456.5 277.0L456.8 276.9L457.2 277.0L457.5 277.2L457.9 277.1L458.2 276.5L458.6 276.4L458.9 276.2L459.3 276.3L459.6 276.4L460.0 276.6L460.3 276.8L460.7 276.8L461.0 276.8L461.4 277.1L461.7 277.3L462.1 277.3L462.4 277.3L462.8 277.3L463.1 277.3L463.5 277.2L463.8 277.2L464.2 277.3L464.5 277.1L464.9 276.7L465.2 276.7L465.6 277.0L465.9 277.1L466.3 277.2L466.6 277.4L467.0 277.4L467.3 277.1L467.7 277.0L468.0 277.2L468.4 277.2L468.7 277.2L469.1 277.4L469.4 277.6L469.8 277.5L470.0 277.3" stroke="#000000"/>
<path d="M46.0 50.5L46.0 50.9L46.0 51.3L46.1 51.7L46.1 52.1L46.1 52.5L46.1 52.9L46.1 53.3L46.2 53.7L46.2 54.1L46.2 54.5L46.2 54.9L46.2 55.3L46.3 55.7L46.3 56.1L46.3 56.5L46.3 56.9L46.3 57.3L46.4 57.7L46.4 58.1L46.4 58.5L46.4 58.9L46.4 59.3L46.5 59.7L46.5 60.1L46.5 60.5L46.5 60.9L46.5 61.3L46.6 61.7L46.6 62.1L46.6 62.5L46.6 62.9L46.7 63.2L46.7 63.6L46.7 64.0L46.7 64.4L46.7 64.8L46.8 65.2L46.8 65.6L46.8 66.0L46.8 66.4L46.9 66.8L46.9 67.2L46.9 67.6L46.9 68.0L46.9 68.4L47.0 68.8L47.0 69.2L47.0 69.6L47.0 70.0L47.1 70.4L47.1 70.8L47.1 71.2L47.1 71.6L47.2 72.0L47.2 72.4L47.2 72.8L47.2 73.2L47.3 73.6L47.3 74.0L47.3 74.4L47.3 74.8L47.4 75.2L47.4 75.6L47.4 76.0L47.4 76.4L47.5 76.8L47.5 77.2L47.5 77.6L47.5 78.0L47.6 78.4L47.6 78.8L47.6 79.2L47.6 79.6L47.7 80.0L47.7 80.4L47.7 80.8L47.7 81.2L47.8 81.6L47.8 82.0L47.8 82.4L47.8 82.8L47.9 83.2L47.9 83.6L47.9 84.0L47.9 84.4L48.0 84.8L48.0 85.2L48.0 85.6L48.0 86.0L48.1 86.4L48.1 86.8L48.1 87.2L48.2 87.6L48.2 88.0L48.2 88.4L48.2 88.8L48.3 89.2L48.3 89.6L48.3 90.0L48.3 90.4L48.4 90.8L48.4 91.2L48.4 91.6L48.4 92.0L48.5 92.4L48.5 92.8L48.5 93.2L48.6 93.6L48.6 94.0L48.6 94.4L48.6 94.8L48.7 95.2L48.7 95.6L48.7 96.0L48.8 96.4L48.8 96.8L48.8 97.2L48.8 97.6L48.9 98.0L48.9 98.4L48.9 98.8L48.9 99.2L49.0 99.6L49.0 99.9L49.0 100.3L49.1 100.7L49.1 101.1L49.1 101.5L49.1 101.9L49.2 102.3L49.2 102.7L49.2 103.1L49.3 103.5L49.3 103.9L49.3 104.3L49.3 104.7L49.4 105.1L49.4 105.5L49.4 105.9L49.5 106.3L49.5 106.7L49.5 107.1L49.5 107.5L49.6 107.9L49.6 108.3L49.6 108.7L49.7 109.1L49.7 109.5L49.7 109.9L49.8 110.3L49.8 110.7L49.8 111.1L49.8 111.5L49.9 111.9L49.9 112.3L49.9 112.7L50.0 113.1L50.0 113.5L50.0 113.9L50.0 114.3L50.1 114.7L50.1 115.1L50.1 115.5L50.2 115.9L50.2 116.3L50.2 116.7L50.2 117.1L50.3 117.5L50.3 117.9L50.3 118.3L50.4 118.7L50.4 119.1L50.4 119.5L50.5 119.9L50.5 120.3L50.5 120.7L50.5 121.1L50.6 121.5L50.6 121.9L50.6 122.3L50.7 122.7L50.7 123.1L50.7 123.5L50.8 123.9L50.8 124.3L50.8 124.7L50.8 125.1L50.9 125.5L50.9 125.9L50.9 126.3L51.0 126.7L51.0 127.1L51.0 127.5L51.1 127.9L51.1 128.3L51.1 128.7L51.1 129.1L51.2 129.5L51.2 129.9L51.2 130.3L51.3 130.7L51.3 131.1L51.3 131.5L51.4 131.9L51.4 132.3L51.4 132.7L51.4 133.1L51.5 133.5L51.5 133.9L51.5 134.3L51.6 134.7L51.6 135.1L51.6 135.5L51.7 135.9L51.7 136.3L51.7 136.7L51.7 137.1L51.8 137.5L51.8 137.9L51.8 138.3L51.9 138.7L51.9 139.1L51.9 139.5L52.0 139.9L52.0 140.3L52.0 140.7L52.1 141.0L52.1 141.4L52.1 141.8L52.1 142.2L52.2 142.6L52.2 143.1L52.2 143.5L52.3 143.9L52.3 144.2L52.3 144.6L52.4 145.0L52.4 145.4L52.4 145.8L52.5 146.3L52.5 146.6L52.5 147.0L52.6 147.4L52.6 147.8L52.6 148.2L52.7 148.6L52.7 149.0L52.7 149.3L52.7 149.7L52.8 150.1L52.8 150.5L52.8 150.9L52.9 151.4L52.9 151.8L52.9 152.2L53.0 152.7L53.0 153.0L53.0 153.4L53.1 153.8L53.1 154.2L53.1 154.6L53.2 155.0L53.2 155.3L53.2 155.7L53.3 156.1L53.3 156.5L53.3 156.9L53.4 157.3L53.4 157.8L53.4 158.1L53.5 158.5L53.5 159.0L53.5 159.4L53.6 159.8L53.6 160.2L53.6 160.5L53.7 160.9L53.7 161.3L53.7 161.7L53.8 162.1L53.8 162.6L53.8 163.0L53.9 163.4L53.9 163.8L53.9 164.1L54.0 164.5L54.0 165.0L54.1 165.4L54.1 165.9L54.1 166.4L54.2 166.8L54.2 167.1L54.2 167.5L54.3 167.9L54.3 168.2L54.3 168.6L54.4 169.0L54.4 169.5L54.5 170.0L54.5 170.3L54.5 170.6L54.6 171.0L54.6 171.5L54.6 172.0L54.7 172.4L54.7 172.7L54.8 173.1L54.8 173.5L54.8 173.9L54.9 174.4L54.9 174.9L55.0 175.2L55.0 175.5L55.0 176.0L55.1 176.5L55.1 176.8L55.2 177.2L55.2 177.7L55.2 178.2L55.3 178.5L55.3 178.7L55.4 178.8L55.4 179.1L55.5 179.9L55.5 180.5L55.6 181.0L55.6 181.4L55.7 181.8L55.7 182.3L55.7 182.7L55.8 183.0L55.8 183.5L55.9 183.9L55.9 184.1L56.0 184.6L56.0 185.0L56.1 185.6L56.2 185.8L56.2 185.9L56.3 186.5L56.3 187.2L56.4 187.5L56.4 187.6L56.5 188.0L56.6 188.4L56.6 188.9L56.7 189.3L56.7 190.0L56.8 190.7L56.9 191.2L57.0 191.6L57.0 191.9L57.1 192.2L57.2 192.4L57.3 192.5L57.3 193.0L57.4 193.2L57.5 193.5L57.6 194.4L57.7 194.7L57.8 194.9L57.9 195.5L58.0 196.1L58.1 196.7L58.2 197.1L58.3 197.2L58.5 197.6L58.6 197.9L58.8 198.4L58.9 198.9L59.1 199.3L59.3 199.8L59.5 199.4L59.7 199.4L59.9 199.9L60.2 200.5L60.5 201.1L60.8 201.4L61.1 201.7L61.5 201.8L61.8 202.1L62.2 202.2L62.5 202.2L62.9 202.3L63.2 202.6L63.6 203.1L63.9 203.1L64.3 202.5L64.6 202.4L65.0 202.6L65.3 202.8L65.7 203.2L66.0 202.9L66.4 201.8L66.7 201.8L67.1 202.3L67.4 202.2L67.8 201.8L68.1 201.8L68.5 202.1L68.8 202.2L69.2 201.8L69.5 202.0L69.9 202.4L70.2 202.3L70.6 201.8L70.9 201.3L71.3 200.7L71.6 200.7L72.0 201.2L72.3 201.9L72.7 202.2L73.0 202.3L73.4 202.2L73.7 202.0L74.1 201.7L74.4 201.5L74.8 201.7L75.1 201.3L75.5 201.0L75.8 201.5L76.2 202.0L76.5 202.4L76.9 201.9L77.2 201.6L77.6 201.4L77.9 201.7L78.3 201.7L78.6 201.5L79.0 201.5L79.3 201.4L79.7 201.6L80.0 201.7L80.4 201.6L80.7 201.4L81.1 201.4L81.4 201.7L81.8 202.0L82.1 201.6L82.5 201.2L82.8 201.7L83.2 202.0L83.5 202.2L83.9 202.4L84.2 202.2L84.6 201.7L84.9 201.7L85.3 202.0L85.6 202.0L86.0 201.6L86.3 201.3L86.7 201.3L87.0 201.6L87.4 201.9L87.7 202.4L88.1 202.4L88.4 202.2L88.8 201.8L89.1 201.1L89.5 200.8L89.8 201.5L90.2 201.4L90.5 201.3L90.9 202.1L91.2 202.2L91.6 201.9L91.9 201.2L92.3 200.5L92.6 200.7L93.0 200.9L93.3 200.5L93.7 200.8L94.0 201.5L94.4 201.6L94.7 200.9L95.1 200.3L95.4 200.8L95.8 201.5L96.1 201.4L96.5 201.1L96.8 201.2L97.2 201.2L97.5 200.8L97.9 200.6L98.2 200.5L98.6 200.6L98.9 200.8L99.3 201.0L99.6 201.2L100.0 201.2L100.3 200.7L100.7 200.4L101.0 200.7L101.4 201.0L101.7 201.4L102.1 201.6L102.4 201.9L102.8 201.9L103.1 201.8L103.5 201.5L103.8 201.2L104.2 200.9L104.5 200.8L104.9 200.9L105.2 201.1L105.6 201.0L105.9 201.2L106.3 201.2L106.6 201.1L107.0 200.9L107.3 200.7L107.7 200.5L108.0 200.6L108.4 200.8L108.7 200.8L109.1 200.9L109.4 201.1L109.8 200.9L110.1 200.5L110.5 200.7L110.8 200.9L111.2 200.8L111.5 201.1L111.9 201.8L112.2 201.9L112.6 201.8L112.9 201.6L113.3 201.0L113.6 200.7L114.0 200.5L114.3 200.6L114.7 200.4L115.0 200.7L115.4 201.3L115.7 201.2L116.1 200.8L116.4 200.9L116.8 201.4L117.1 201.3L117.5 201.0L117.8 201.0L118.2 200.9L118.5 200.5L118.9 200.3L119.2 200.2L119.6 200.7L119.9 201.2L120.3 201.5L120.6 201.4L121.0 201.3L121.3 201.3L121.7 201.1L122.0 201.1L122.4 200.8L122.7 200.5L123.1 200.5L123.4 201.2L123.8 201.8L124.1 201.5L124.5 201.3L124.8 201.2L125.2 201.3L125.5 201.5L125.9 201.6L126.2 201.7L126.6 201.5L126.9 201.6L127.3 201.9L127.6 201.6L128.0 201.4L128.3 201.6L128.7 201.5L129.0 201.0L129.4 200.9L129.7 201.2L130.1 201.6L130.4 201.7L130.8 202.1L131.1 202.5L131.5 202.3L131.8 201.6L132.2 201.3L132.5 201.5L132.9 201.1L133.2 200.9L133.6 201.1L133.9 201.2L134.3 201.1L134.6 200.8L135.0 200.3L135.3 200.6L135.7 201.1L136.0 201.4L136.4 201.3L136.7 201.5L137.1 202.0L137.4 201.8L137.8 201.4L138.1 201.2L138.5 201.0L138.8 200.6L139.2 200.4L139.5 200.5L139.9 200.4L140.2 200.7L140.6 200.9L140.9 201.0L141.3 200.8L141.6 200.4L142.0 200.4L142.3 200.7L142.7 201.3L143.0 201.3L143.4 200.9L143.7 200.6L144.1 200.7L144.4 201.0L144.8 200.9L145.1 200.4L145.5 200.3L145.8 200.9L146.2 201.3L146.5 200.9L146.9 200.3L147.2 200.2L147.6 200.0L147.9 200.0L148.3 200.5L148.6 200.3L149.0 199.6L149.3 199.6L149.7 200.4L150.0 201.1L150.4 201.5L150.7 201.3L151.1 200.6L151.4 200.3L151.8 200.6L152.1 200.7L152.5 200.6L152.8 200.4L153.2 200.5L153.5 200.6L153.9 200.2L154.2 199.9L154.6 200.0L154.9 200.8L155.3 201.3L155.6 200.8L156.0 200.2L156.3 200.4L156.7 200.6L157.0 201.2L157.4 201.7L157.7 201.1L158.1 200.5L158.4 201.1L158.8 201.7L159.1 201.9L159.5 201.7L159.8 201.2L160.2 200.9L160.5 201.1L160.9 200.6L161.2 200.4L161.6 201.1L161.9 201.7L162.3 201.9L162.6 201.8L163.0 201.6L163.3 201.5L163.7 201.6L164.0 201.5L164.4 201.1L164.7 200.6L165.1 200.8L165.4 201.1L165.8 201.2L166.1 201.2L166.5 201.5L166.8 201.5L167.2 201.1L167.5 201.2L167.9 201.3L168.2 200.7L168.6 200.4L168.9 201.0L169.3 201.4L169.6 201.7L170.0 201.9L170.3 202.0L170.7 202.1L171.0 201.9L171.4 202.0L171.7 201.8L172.1 201.4L172.4 201.0L172.8 201.3L173.1 201.9L173.5 201.9L173.8 201.6L174.2 201.4L174.5 201.7L174.9 201.8L175.2 202.2L175.6 202.1L175.9 201.6L176.3 201.3L176.6 201.5L177.0 201.8L177.3 201.6L177.7 201.3L178.0 201.5L178.4 201.7L178.7 201.8L179.1 201.5L179.4 201.5L179.8 201.5L180.1 201.8L180.5 202.1L180.8 201.7L181.2 201.1L181.5 201.1L181.9 201.6L182.2 201.6L182.6 201.8L182.9 201.7L183.3 201.4L183.6 201.8L184.0 201.6L184.3 201.2L184.7 201.1L185.0 201.3L185.4 201.7L185.7 201.9L186.1 202.0L186.4 201.8L186.8 201.4L187.1 201.2L187.5 201.3L187.8 201.5L188.2 201.8L188.5 201.7L188.9 201.1L189.2 200.6L189.6 200.4L189.9 200.8L190.3 200.8L190.6 200.6L191.0 200.9L191.3 201.2L191.7 201.1L192.0 200.7L192.4 200.6L192.7 200.8L193.1 201.4L193.4 201.9L193.8 202.2L194.1 201.8L194.5 201.8L194.8 201.7L195.2 201.6L195.5 201.4L195.9 200.8L196.2 201.1L196.6 201.9L196.9 202.3L197.3 202.4L197.6 202.0L198.0 201.6L198.3 201.7L198.7 201.5L199.0 201.4L199.4 201.4L199.7 201.6L200.1 202.2L200.4 202.2L200.8 201.9L201.1 201.7L201.5 201.4L201.8 201.4L202.2 201.6L202.5 201.4L202.9 201.2L203.2 201.4L203.6 201.0L203.9 200.8L204.3 201.0L204.6 201.2L205.0 201.3L205.3 201.9L205.7 202.2L206.0 202.3L206.4 202.1L206.7 201.8L207.1 201.6L207.4 201.4L207.8 201.5L208.1 201.6L208.5 201.3L208.8 201.4L209.2 201.7L209.5 202.0L209.9 202.0L210.2 201.9L210.6 202.2L210.9 202.6L211.3 202.4L211.6 201.9L212.0 201.6L212.3 201.3L212.7 201.4L213.0 201.6L213.4 201.5L213.7 200.9L214.1 200.7L214.4 200.7L214.8 200.8L215.1 201.0L215.5 201.1L215.8 200.8L216.2 200.6L216.5 200.6L216.9 201.0L217.2 201.2L217.6 200.9L217.9 201.0L218.3 201.6L218.6 201.3L219.0 200.9L219.3 200.4L219.7 200.6L220.0 201.0L220.4 201.1L220.7 201.2L221.1 201.0L221.4 200.7L221.8 200.7L222.1 200.8L222.5 200.8L222.8 200.9L223.2 201.2L223.5 201.2L223.9 201.2L224.2 201.4L224.6 201.3L224.9 201.2L225.3 201.4L225.6 201.1L226.0 200.8L226.3 200.9L226.7 200.7L227.0 201.0L227.4 201.4L227.7 201.4L228.1 201.1L228.4 201.2L228.8 201.9L229.1 202.5L229.5 202.5L229.8 202.3L230.2 202.0L230.5 201.5L230.9 201.5L231.2 201.8L231.6 201.6L231.9 201.3L232.3 201.5L232.6 201.3L233.0 201.1L233.3 201.1L233.7 201.3L234.0 201.5L234.4 201.2L234.7 201.1L235.1 201.5L235.4 202.0L235.8 202.2L236.1 202.0L236.5 201.7L236.8 201.1L237.2 200.8L237.5 200.9L237.9 201.5L238.2 201.6L238.6 201.5L238.9 201.2L239.3 200.9L239.6 201.0L240.0 201.1L240.3 201.1L240.7 201.1L241.0 201.5L241.4 201.5L241.7 200.9L242.1 200.7L242.4 201.0L242.8 201.5L243.1 202.2L243.5 202.1L243.8 202.0L244.2 202.6L244.5 202.2L244.9 201.3L245.2 201.1L245.6 201.4L245.9 201.4L246.3 201.8L246.6 202.0L247.0 201.6L247.3 201.4L247.7 201.7L248.0 202.3L248.4 202.4L248.7 202.3L249.1 202.2L249.4 201.9L249.8 201.8L250.1 202.0L250.5 202.2L250.8 201.9L251.2 201.6L251.5 201.7L251.9 202.2L252.2 202.3L252.6 202.1L252.9 202.0L253.3 202.0L253.6 202.0L254.0 202.2L254.3 202.1L254.7 202.0L255.0 201.8L255.4 201.8L255.7 202.2L256.1 202.5L256.4 202.3L256.8 201.7L257.1 201.1L257.5 200.9L257.8 201.2L258.2 201.5L258.5 201.7L258.9 201.5L259.2 201.5L259.6 201.3L259.9 201.6L260.3 201.9L260.6 201.7L261.0 201.7L261.3 201.7L261.7 201.6L262.0 201.8L262.4 201.4L262.7 201.3L263.1 201.6L263.4 201.8L263.8 202.1L264.1 201.8L264.5 201.2L264.8 200.9L265.2 200.8L265.5 201.1L265.9 201.3L266.2 201.2L266.6 200.8L266.9 200.9L267.3 201.5L267.6 201.7L268.0 201.4L268.3 201.2L268.7 201.1L269.0 201.2L269.4 201.7L269.7 202.3L270.1 201.9L270.4 201.1L270.8 201.0L271.1 201.2L271.5 201.9L271.8 202.5L272.2 202.4L272.5 202.0L272.9 201.8L273.2 201.5L273.6 201.3L273.9 201.5L274.3 201.8L274.6 201.7L275.0 202.4L275.3 202.8L275.7 202.5L276.0 202.3L276.4 202.0L276.7 201.5L277.1 201.1L277.4 201.6L277.8 202.3L278.1 202.2L278.5 202.2L278.8 202.4L279.2 201.9L279.5 201.4L279.9 201.8L280.2 202.6L280.6 202.6L280.9 202.3L281.3 202.4L281.6 202.6L282.0 203.0L282.3 203.0L282.7 202.8L283.0 202.7L283.4 202.7L283.7 202.6L284.1 202.2L284.4 202.0L284.8 202.0L285.1 202.2L285.5 202.5L285.8 202.7L286.2 202.7L286.5 202.3L286.9 201.8L287.2 201.3L287.6 201.4L287.9 201.7L288.3 201.9L288.6 202.0L289.0 201.9L289.3 201.9L289.7 201.9L290.0 201.8L290.4 201.7L290.7 201.8L291.1 201.7L291.4 201.6L291.8 201.4L292.1 201.5L292.5 201.9L292.8 202.0L293.2 202.0L293.5 201.9L293.9 201.8L294.2 201.7L294.6 201.3L294.9 201.3L295.3 201.8L295.6 201.7L296.0 201.2L296.3 201.3L296.7 201.7L297.0 202.1L297.4 202.2L297.7 202.1L298.1 202.2L298.4 202.0L298.8 201.5L299.1 201.4L299.5 201.6L299.8 201.6L300.2 201.6L300.5 201.3L300.9 201.6L301.2 202.2L301.6 202.4L301.9 202.1L302.3 201.5L302.6 201.5L303.0 201.6L303.3 201.5L303.7 201.5L304.0 201.7L304.4 201.6L304.7 201.3L305.1 201.3L305.4 201.5L305.8 201.5L306.1 201.3L306.5 201.1L306.8 201.5L307.2 202.0L307.5 202.1L307.9 201.8L308.2 201.7L308.6 201.7L308.9 201.8L309.3 201.6L309.6 201.5L310.0 201.4L310.3 201.4L310.7 201.3L311.0 201.0L311.4 201.2L311.7 201.1L312.1 201.2L312.4 201.5L312.8 201.2L313.1 201.3L313.5 201.9L313.8 202.1L314.2 202.0L314.5 201.8L314.9 201.5L315.2 201.0L315.6 200.5L315.9 200.4L316.3 200.8L316.6 201.6L317.0 202.1L317.3 201.6L317.7 201.3L318.0 201.4L318.4 201.1L318.7 200.9L319.1 201.1L319.4 201.5L319.8 201.6L320.1 201.1L320.5 200.8L320.8 201.0L321.2 200.7L321.5 200.5L321.9 200.5L322.2 200.5L322.6 200.9L322.9 201.4L323.3 201.1L323.6 200.8L324.0 200.6L324.3 200.7L324.7 201.1L325.0 201.3L325.4 201.4L325.7 201.4L326.1 201.5L326.4 202.0L326.8 201.9L327.1 201.5L327.5 201.4L327.8 201.5L328.2 201.5L328.5 201.7L328.9 202.1L329.2 202.2L329.6 202.0L329.9 201.9L330.3 201.9L330.6 202.1L331.0 202.0L331.3 202.0L331.7 201.9L332.0 201.3L332.4 201.0L332.7 201.1L333.1 201.2L333.4 201.4L333.8 201.6L334.1 201.6L334.5 201.8L334.8 201.9L335.2 201.7L335.5 201.8L335.9 201.8L336.2 201.7L336.6 202.2L336.9 202.2L337.3 201.8L337.6 201.6L338.0 201.5L338.3 201.4L338.7 201.3L339.0 201.6L339.4 201.5L339.7 200.9L340.1 200.7L340.4 201.1L340.8 201.1L341.1 201.0L341.5 201.3L341.8 201.0L342.2 200.6L342.5 200.7L342.9 200.3L343.2 200.0L343.6 200.3L343.9 200.4L344.3 200.6L344.6 201.4L345.0 201.4L345.3 201.1L345.7 201.0L346.0 200.9L346.4 200.7L346.7 201.0L347.1 201.3L347.4 201.2L347.8 201.1L348.1 201.4L348.5 201.9L348.8 202.0L349.2 201.7L349.5 201.6L349.9 201.6L350.2 201.9L350.6 201.9L350.9 201.0L351.3 201.0L351.6 201.5L352.0 201.5L352.3 201.0L352.7 201.0L353.0 201.2L353.4 201.0L353.7 201.7L354.1 202.1L354.4 201.3L354.8 200.9L355.1 201.4L355.5 201.9L355.8 202.1L356.2 201.7L356.5 201.6L356.9 202.1L357.2 202.4L357.6 202.6L357.9 202.6L358.3 202.2L358.6 201.7L359.0 201.4L359.3 201.4L359.7 201.3L360.0 201.1L360.4 200.8L360.7 200.7L361.1 201.3L361.4 201.5L361.8 201.2L362.1 201.1L362.5 200.7L362.8 201.0L363.2 201.4L363.5 201.6L363.9 202.0L364.2 202.3L364.6 202.3L364.9 202.1L365.3 202.1L365.6 201.6L366.0 201.3L366.3 201.2L366.7 201.1L367.0 201.1L367.4 200.9L367.7 201.1L368.1 201.9L368.4 202.2L368.8 202.1L369.1 201.8L369.5 201.6L369.8 202.0L370.2 201.9L370.5 201.4L370.9 201.3L371.2 201.2L371.6 201.5L371.9 201.6L372.3 201.7L372.6 201.6L373.0 201.9L373.3 201.9L373.7 201.9L374.0 201.8L374.4 201.9L374.7 201.9L375.1 201.5L375.4 200.8L375.8 200.8L376.1 201.1L376.5 201.2L376.8 201.6L377.2 202.0L377.5 201.6L377.9 200.9L378.2 201.1L378.6 201.3L378.9 201.1L379.3 201.0L379.6 201.1L380.0 201.2L380.3 201.1L380.7 201.0L381.0 200.9L381.4 201.0L381.7 201.4L382.1 201.5L382.4 201.5L382.8 201.7L383.1 201.4L383.5 201.2L383.8 201.1L384.2 200.9L384.5 201.0L384.9 201.4L385.2 201.3L385.6 201.5L385.9 201.3L386.3 200.8L386.6 200.8L387.0 200.9L387.3 201.2L387.7 201.3L388.0 200.9L388.4 200.7L388.7 201.0L389.1 201.7L389.4 201.7L389.8 201.6L390.1 201.4L390.5 201.4L390.8 201.6L391.2 201.1L391.5 200.8L391.9 201.3L392.2 201.6L392.6 201.9L392.9 202.0L393.3 201.9L393.6 202.0L394.0 201.9L394.3 201.5L394.7 201.1L395.0 201.0L395.4 201.1L395.7 201.1L396.1 201.0L396.4 201.6L396.8 202.3L397.1 201.9L397.5 201.4L397.8 201.5L398.2 201.0L398.5 200.9L398.9 200.7L399.2 200.7L399.6 201.0L399.9 201.4L400.3 201.3L400.6 200.6L401.0 200.5L401.3 200.7L401.7 201.1L402.0 201.1L402.4 200.5L402.7 200.3L403.1 200.5L403.4 200.8L403.8 200.6L404.1 200.3L404.5 200.3L404.8 200.4L405.2 200.9L405.5 201.0L405.9 200.3L406.2 200.2L406.6 200.3L406.9 200.1L407.3 200.6L407.6 200.9L408.0 200.7L408.3 200.6L408.7 201.2L409.0 201.1L409.4 201.0L409.7 200.9L410.1 200.4L410.4 200.1L410.8 200.1L411.1 200.6L411.5 200.9L411.8 200.9L412.2 201.0L412.5 201.2L412.9 200.9L413.2 200.8L413.6 200.8L413.9 201.1L414.3 201.4L414.6 201.6L415.0 201.4L415.3 201.4L415.7 201.3L416.0 201.0L416.4 201.4L416.7 201.7L417.1 201.8L417.4 201.7L417.8 201.6L418.1 201.8L418.5 201.7L418.8 201.2L419.2 200.3L419.5 199.9L419.9 200.2L420.2 200.8L420.6 201.1L420.9 201.2L421.3 200.9L421.6 200.5L422.0 200.8L422.3 201.5L422.7 201.3L423.0 200.6L423.4 200.4L423.7 200.4L424.1 201.0L424.4 201.4L424.8 201.1L425.1 200.6L425.5 200.6L425.8 201.0L426.2 201.5L426.5 201.3L426.9 201.0L427.2 201.0L427.6 200.8L427.9 200.5L428.3 200.3L428.6 200.5L429.0 200.7L429.3 200.8L429.7 201.2L430.0 201.3L430.4 201.2L430.7 200.6L431.1 200.1L431.4 200.7L431.8 201.3L432.1 200.9L432.5 200.3L432.8 200.5L433.2 200.8L433.5 200.9L433.9 201.0L434.2 201.1L434.6 201.1L434.9 201.2L435.3 201.6L435.6 201.5L436.0 201.1L436.3 200.8L436.7 200.8L437.0 201.1L437.4 201.2L437.7 201.0L438.1 201.5L438.4 201.9L438.8 201.5L439.1 201.2L439.5 201.5L439.8 201.6L440.2 201.8L440.5 201.9L440.9 201.7L441.2 201.3L441.6 201.4L441.9 201.7L442.3 201.5L442.6 201.3L443.0 201.3L443.3 201.8L443.7 202.1L444.0 201.7L444.4 201.1L444.7 201.2L445.1 201.8L445.4 201.9L445.8 201.6L446.1 201.5L446.5 201.7L446.8 201.5L447.2 201.4L447.5 201.4L447.9 201.5L448.2 201.7L448.6 201.6L448.9 201.0L449.3 200.3L449.6 200.4L450.0 200.5L450.3 200.4L450.7 200.7L451.0 201.0L451.4 200.5L451.7 200.4L452.1 200.3L452.4 200.0L452.8 200.2L453.1 200.6L453.5 200.8L453.8 201.3L454.2 201.2L454.5 201.1L454.9 201.0L455.2 200.8L455.6 201.2L455.9 201.3L456.3 201.2L456.6 201.3L457.0 201.3L457.3 201.1L457.7 200.8L458.0 201.1L458.4 201.4L458.7 201.3L459.1 201.5L459.4 201.6L459.8 201.6L460.1 201.5L460.5 201.2L460.8 201.3L461.2 201.3L461.5 201.2L461.9 201.0L462.2 200.9L462.6 201.3L462.9 201.6L463.3 201.3L463.6 201.4L464.0 202.0L464.3 202.4L464.7 202.6L465.0 202.5L465.4 202.0L465.7 202.0L466.1 202.2L466.4 202.3L466.8 201.9L467.1 201.9L467.5 202.2L467.8 202.0L468.2 202.1L468.5 202.0L468.9 201.6L469.2 201.5L469.6 201.6L469.9 201.6L470.0 201.8" stroke="#ff00ff"/>
<path d="M46.0 50.2L46.1 50.6L46.1 51.0L46.2 51.4L46.2 51.8L46.3 52.2L46.3 52.6L46.4 53.0L46.4 53.4L46.5 53.8L46.5 54.2L46.6 54.6L46.6 55.0L46.7 55.4L46.7 55.8L46.8 56.1L46.8 56.5L46.9 56.9L47.0 57.3L47.0 57.7L47.1 58.1L47.1 58.5L47.2 58.9L47.2 59.3L47.3 59.7L47.3 60.1L47.4 60.5L47.4 60.9L47.5 61.3L47.5 61.7L47.6 62.1L47.7 62.5L47.7 62.9L47.8 63.3L47.8 63.7L47.9 64.1L47.9 64.5L48.0 64.9L48.0 65.3L48.1 65.7L48.1 66.1L48.2 66.4L48.3 66.8L48.3 67.2L48.4 67.6L48.4 68.0L48.5 68.4L48.5 68.8L48.6 69.2L48.6 69.6L48.7 70.0L48.8 70.4L48.8 70.8L48.9 71.2L48.9 71.6L49.0 72.0L49.0 72.4L49.1 72.8L49.1 73.2L49.2 73.6L49.3 74.0L49.3 74.4L49.4 74.8L49.4 75.2L49.5 75.6L49.5 76.0L49.6 76.3L49.7 76.7L49.7 77.1L49.8 77.5L49.8 77.9L49.9 78.3L49.9 78.7L50.0 79.1L50.1 79.5L50.1 79.9L50.2 80.3L50.2 80.7L50.3 81.1L50.3 81.5L50.4 81.9L50.5 82.3L50.5 82.7L50.6 83.1L50.6 83.5L50.7 83.9L50.8 84.3L50.8 84.7L50.9 85.0L50.9 85.4L51.0 85.8L51.0 86.2L51.1 86.6L51.2 87.0L51.2 87.4L51.3 87.8L51.3 88.2L51.4 88.6L51.5 89.0L51.5 89.4L51.6 89.8L51.6 90.2L51.7 90.6L51.8 91.0L51.8 91.4L51.9 91.8L52.0 92.2L52.0 92.6L52.1 92.9L52.1 93.3L52.2 93.7L52.3 94.1L52.3 94.5L52.4 94.9L52.5 95.3L52.5 95.7L52.6 96.1L52.6 96.5L52.7 96.9L52.8 97.3L52.8 97.7L52.9 98.1L53.0 98.5L53.0 98.9L53.1 99.3L53.1 99.7L53.2 100.0L53.3 100.4L53.3 100.8L53.4 101.2L53.5 101.6L53.5 102.0L53.6 102.4L53.7 102.8L53.7 103.2L53.8 103.6L53.9 104.0L53.9 104.4L54.0 104.8L54.1 105.2L54.1 105.6L54.2 106.0L54.3 106.4L54.3 106.7L54.4 107.1L54.5 107.5L54.5 107.9L54.6 108.3L54.7 108.7L54.8 109.1L54.8 109.5L54.9 109.9L55.0 110.3L55.0 110.7L55.1 111.1L55.2 111.5L55.2 111.9L55.3 112.3L55.4 112.6L55.5 113.0L55.5 113.4L55.6 113.8L55.7 114.2L55.8 114.6L55.8 115.0L55.9 115.4L56.0 115.8L56.0 116.2L56.1 116.6L56.2 117.0L56.3 117.4L56.3 117.7L56.4 118.1L56.5 118.5L56.6 118.9L56.7 119.3L56.7 119.7L56.8 120.1L56.9 120.5L57.0 120.9L57.0 121.3L57.1 121.7L57.2 122.1L57.3 122.4L57.4 122.8L57.4 123.2L57.5 123.6L57.6 124.0L57.7 124.4L57.8 124.8L57.8 125.2L57.9 125.6L58.0 126.0L58.1 126.4L58.2 126.7L58.2 127.1L58.3 127.5L58.4 127.9L58.5 128.3L58.6 128.7L58.7 129.1L58.8 129.5L58.8 129.9L58.9 130.3L59.0 130.7L59.1 131.0L59.2 131.4L59.3 131.8L59.4 132.2L59.4 132.6L59.5 133.0L59.6 133.4L59.7 133.8L59.8 134.2L59.9 134.5L60.0 134.9L60.1 135.3L60.2 135.7L60.3 136.1L60.4 136.5L60.4 136.9L60.5 137.3L60.6 137.7L60.7 138.0L60.8 138.4L60.9 138.8L61.0 139.2L61.1 139.6L61.2 140.0L61.3 140.4L61.4 140.8L61.5 141.1L61.6 141.5L61.7 141.9L61.8 142.3L61.9 142.7L62.0 143.1L62.1 143.5L62.2 143.9L62.3 144.2L62.4 144.6L62.5 145.0L62.6 145.4L62.7 145.8L62.8 146.2L62.9 146.6L63.0 147.0L63.1 147.3L63.2 147.7L63.3 148.1L63.4 148.5L63.5 148.9L63.6 149.3L63.7 149.6L63.8 150.0L63.9 150.4L64.0 150.8L64.1 151.2L64.2 151.6L64.3 152.0L64.4 152.3L64.5 152.7L64.6 153.1L64.8 153.5L64.9 153.9L65.0 154.3L65.1 154.7L65.2 155.0L65.3 155.4L65.4 155.8L65.5 156.2L65.6 156.6L65.7 157.0L65.8 157.3L66.0 157.7L66.1 158.1L66.2 158.5L66.3 158.9L66.4 159.3L66.5 159.7L66.6 160.0L66.7 160.4L66.8 160.8L67.0 161.2L67.1 161.6L67.2 162.0L67.3 162.3L67.4 162.7L67.5 163.1L67.6 163.5L67.8 163.9L67.9 164.2L68.0 164.6L68.1 165.0L68.2 165.4L68.3 165.8L68.4 166.2L68.6 166.5L68.7 166.9L68.8 167.3L68.9 167.7L69.0 168.1L69.1 168.5L69.3 168.8L69.4 169.2L69.5 169.6L69.6 170.0L69.7 170.4L69.8 170.8L70.0 171.1L70.1 171.5L70.2 171.9L70.3 172.3L70.4 172.7L70.5 173.0L70.7 173.4L70.8 173.8L70.9 174.2L71.0 174.6L71.1 175.0L71.3 175.3L71.4 175.7L71.5 176.1L71.6 176.5L71.7 176.9L71.9 177.2L72.0 177.6L72.1 178.0L72.2 178.4L72.3 178.8L72.5 179.2L72.6 179.5L72.7 179.9L72.8 180.3L72.9 180.7L73.1 181.0L73.2 181.4L73.3 181.8L73.4 182.2L73.6 182.6L73.7 183.0L73.8 183.4L73.9 183.7L74.0 184.1L74.2 184.5L74.3 184.9L74.4 185.2L74.5 185.6L74.7 186.0L74.8 186.4L74.9 186.8L75.0 187.2L75.1 187.6L75.3 187.9L75.4 188.3L75.5 188.7L75.6 189.1L75.8 189.5L75.9 189.9L76.0 190.2L76.1 190.6L76.3 191.0L76.4 191.4L76.5 191.8L76.6 192.1L76.8 192.5L76.9 192.9L77.0 193.3L77.1 193.7L77.3 194.0L77.4 194.4L77.5 194.8L77.7 195.2L77.8 195.6L77.9 195.9L78.0 196.3L78.2 196.7L78.3 197.1L78.4 197.5L78.5 197.8L78.7 198.2L78.8 198.6L78.9 199.0L79.1 199.4L79.2 199.8L79.3 200.1L79.5 200.5L79.6 200.9L79.7 201.2L79.8 201.6L80.0 202.0L80.1 202.4L80.2 202.8L80.4 203.1L80.5 203.5L80.6 203.9L80.8 204.3L80.9 204.6L81.0 205.0L81.2 205.4L81.3 205.8L81.4 206.1L81.6 206.5L81.7 206.9L81.8 207.3L82.0 207.6L82.1 208.0L82.2 208.4L82.4 208.8L82.5 209.2L82.6 209.5L82.8 209.9L82.9 210.3L83.1 210.6L83.2 211.0L83.3 211.4L83.5 211.8L83.6 212.2L83.7 212.6L83.9 212.9L84.0 213.3L84.2 213.7L84.3 214.1L84.4 214.5L84.6 214.8L84.7 215.2L84.9 215.5L85.0 215.9L85.2 216.3L85.3 216.7L85.5 217.1L85.6 217.5L85.7 217.8L85.9 218.1L86.0 218.5L86.2 218.9L86.3 219.3L86.5 219.6L86.6 220.0L86.8 220.4L86.9 220.8L87.1 221.1L87.2 221.5L87.4 221.9L87.6 222.4L87.7 222.8L87.9 223.1L88.0 223.4L88.2 223.8L88.3 224.2L88.5 224.5L88.7 224.9L88.8 225.3L89.0 225.8L89.1 226.2L89.3 226.5L89.5 226.8L89.6 227.1L89.8 227.5L90.0 227.8L90.2 228.3L90.3 228.8L90.5 229.2L90.7 229.5L90.8 229.7L91.0 229.9L91.2 230.3L91.4 230.8L91.6 231.3L91.7 231.7L91.9 231.9L92.1 232.1L92.3 232.5L92.5 232.9L92.7 233.2L92.9 233.6L93.1 234.0L93.3 234.3L93.5 234.7L93.7 235.2L93.9 235.5L94.1 235.8L94.3 236.1L94.5 236.4L94.7 236.7L94.9 237.1L95.2 237.4L95.4 237.6L95.6 237.9L95.8 238.2L96.1 238.4L96.3 238.8L96.5 239.2L96.8 239.5L97.0 239.9L97.2 240.3L97.5 240.4L97.7 240.7L98.0 241.3L98.3 241.8L98.5 241.9L98.8 242.1L99.1 242.4L99.3 242.7L99.6 243.1L99.9 243.4L100.2 243.9L100.5 244.5L100.8 244.7L101.1 244.6L101.4 244.7L101.7 244.8L102.0 245.0L102.3 245.3L102.7 245.4L103.0 245.7L103.3 246.3L103.7 246.5L104.0 246.6L104.3 246.9L104.7 247.1L105.0 247.2L105.4 247.4L105.7 247.4L106.1 247.7L106.4 247.8L106.8 247.9L107.1 248.0L107.5 248.4L107.8 248.8L108.2 249.0L108.5 248.9L108.9 248.9L109.2 248.9L109.6 249.0L109.9 249.1L110.3 249.1L110.6 249.3L111.0 249.5L111.3 249.7L111.7 249.8L112.0 249.7L112.4 249.6L112.7 249.8L113.1 249.8L113.4 249.9L113.8 249.9L114.1 249.9L114.5 250.0L114.8 250.0L115.2 250.2L115.5 250.5L115.9 250.6L116.2 250.7L116.6 250.8L116.9 250.7L117.3 250.6L117.6 250.6L118.0 250.3L118.3 250.4L118.7 250.7L119.0 250.7L119.4 250.6L119.7 250.7L120.1 250.7L120.4 250.7L120.8 250.7L121.1 250.5L121.5 250.5L121.8 250.5L122.2 250.3L122.5 250.3L122.9 250.5L123.2 250.2L123.6 250.3L123.9 250.6L124.3 250.8L124.6 250.5L125.0 250.4L125.3 250.6L125.7 250.8L126.0 250.8L126.4 250.5L126.7 250.1L127.1 250.2L127.4 250.7L127.8 250.8L128.1 250.8L128.5 250.5L128.8 250.5L129.2 250.7L129.5 250.9L129.9 251.0L130.2 251.0L130.6 251.0L130.9 250.9L131.3 250.7L131.6 250.4L132.0 250.5L132.3 250.9L132.7 251.0L133.0 251.2L133.4 251.1L133.7 250.7L134.1 250.7L134.4 250.8L134.8 250.6L135.1 250.5L135.5 250.7L135.8 250.8L136.2 250.6L136.5 250.7L136.9 251.0L137.2 251.4L137.6 251.2L137.9 250.9L138.3 250.7L138.6 250.7L139.0 251.0L139.3 251.2L139.7 251.3L140.0 251.4L140.4 251.5L140.7 251.4L141.1 251.0L141.4 251.0L141.8 251.1L142.1 251.0L142.5 250.9L142.8 251.0L143.2 251.1L143.5 251.2L143.9 251.2L144.2 251.3L144.6 251.4L144.9 251.3L145.3 251.0L145.6 250.8L146.0 250.9L146.3 251.0L146.7 251.1L147.0 250.9L147.4 250.8L147.7 251.0L148.1 251.0L148.4 251.2L148.8 251.2L149.1 251.1L149.5 250.8L149.8 250.9L150.2 251.3L150.5 251.8L150.9 251.8L151.2 251.6L151.6 251.6L151.9 251.4L152.3 251.3L152.6 251.2L153.0 251.1L153.3 250.8L153.7 250.9L154.0 251.5L154.4 251.8L154.7 251.6L155.1 251.6L155.4 251.9L155.8 251.8L156.1 251.5L156.5 251.6L156.8 251.7L157.2 251.4L157.5 251.2L157.9 251.4L158.2 251.8L158.6 251.8L158.9 251.7L159.3 251.7L159.6 251.8L160.0 251.7L160.3 251.4L160.7 251.5L161.0 251.8L161.4 252.0L161.7 251.9L162.1 251.9L162.4 251.8L162.8 251.8L163.1 251.9L163.5 251.6L163.8 251.4L164.2 251.7L164.5 251.9L164.9 251.7L165.2 251.4L165.6 251.3L165.9 251.6L166.3 251.6L166.6 251.4L167.0 251.5L167.3 251.8L167.7 251.6L168.0 251.1L168.4 251.3L168.7 251.6L169.1 251.3L169.4 250.9L169.8 251.1L170.1 251.4L170.5 251.4L170.8 251.4L171.2 251.3L171.5 251.4L171.9 251.4L172.2 251.4L172.6 251.3L172.9 251.0L173.3 250.8L173.6 251.3L174.0 251.7L174.3 251.6L174.7 251.5L175.0 251.3L175.4 251.2L175.7 250.8L176.1 250.7L176.4 250.9L176.8 250.9L177.1 251.2L177.5 251.3L177.8 251.2L178.2 251.1L178.5 251.3L178.9 251.3L179.2 251.0L179.6 251.0L179.9 251.1L180.3 251.1L180.6 251.1L181.0 251.1L181.3 251.2L181.7 251.4L182.0 251.4L182.4 251.3L182.7 251.5L183.1 251.3L183.4 251.2L183.8 251.4L184.1 251.6L184.5 251.7L184.8 251.2L185.2 250.7L185.5 250.6L185.9 251.0L186.2 251.3L186.6 251.6L186.9 251.7L187.3 251.7L187.6 251.4L188.0 251.6L188.3 252.3L188.7 252.2L189.0 251.7L189.4 251.5L189.7 251.6L190.1 252.0L190.4 251.7L190.8 251.2L191.1 251.2L191.5 251.4L191.8 251.4L192.2 251.4L192.5 251.4L192.9 251.4L193.2 251.6L193.6 251.6L193.9 251.6L194.3 251.4L194.6 251.6L195.0 251.7L195.3 251.6L195.7 251.4L196.0 251.2L196.4 251.2L196.7 251.3L197.1 251.6L197.4 251.7L197.8 251.8L198.1 251.6L198.5 251.3L198.8 251.2L199.2 251.2L199.5 251.2L199.9 251.1L200.2 251.1L200.6 251.5L200.9 252.0L201.3 251.9L201.6 251.7L202.0 251.5L202.3 251.4L202.7 251.5L203.0 251.5L203.4 251.5L203.7 251.6L204.1 251.7L204.4 251.4L204.8 251.2L205.1 251.3L205.5 251.5L205.8 252.0L206.2 252.1L206.5 251.7L206.9 251.5L207.2 251.6L207.6 251.4L207.9 251.1L208.3 251.4L208.6 251.5L209.0 251.5L209.3 251.7L209.7 251.7L210.0 251.3L210.4 251.4L210.7 251.5L211.1 251.5L211.4 251.5L211.8 251.5L212.1 251.3L212.5 251.3L212.8 251.6L213.2 251.5L213.5 251.6L213.9 251.6L214.2 251.0L214.6 250.4L214.9 250.3L215.3 250.7L215.6 250.9L216.0 251.0L216.3 251.2L216.7 251.4L217.0 251.1L217.4 250.7L217.7 250.5L218.1 250.7L218.4 251.0L218.8 251.0L219.1 250.6L219.5 250.2L219.8 250.1L220.2 250.5L220.5 251.0L220.9 251.1L221.2 250.8L221.6 250.6L221.9 250.7L222.3 250.6L222.6 250.9L223.0 251.2L223.3 251.0L223.7 250.9L224.0 251.0L224.4 251.0L224.7 250.9L225.1 251.0L225.4 251.2L225.8 250.9L226.1 250.7L226.5 250.6L226.8 250.5L227.2 250.6L227.5 250.9L227.9 250.9L228.2 251.1L228.6 251.4L228.9 251.4L229.3 251.2L229.6 251.4L230.0 251.4L230.3 251.5L230.7 251.8L231.0 251.6L231.4 251.5L231.7 251.6L232.1 251.7L232.4 251.6L232.8 251.5L233.1 251.6L233.5 251.7L233.8 251.6L234.2 251.7L234.5 251.9L234.9 251.9L235.2 251.7L235.6 251.8L235.9 251.9L236.3 251.7L236.6 251.7L237.0 251.7L237.3 251.4L237.7 251.6L238.0 252.1L238.4 252.1L238.7 251.9L239.1 251.9L239.4 251.8L239.8 251.7L240.1 251.8L240.5 251.6L240.8 251.7L241.2 251.7L241.5 251.7L241.9 251.9L242.2 252.0L242.6 252.4L242.9 252.6L243.3 252.6L243.6 252.3L244.0 252.0L244.3 251.9L244.7 251.9L245.0 252.4L245.4 252.4L245.7 252.0L246.1 251.7L246.4 251.9L246.8 252.0L247.1 251.7L247.5 251.3L247.8 251.1L248.2 251.5L248.5 251.8L248.9 251.8L249.2 252.1L249.6 252.1L249.9 251.9L250.3 251.9L250.6 251.6L251.0 251.4L251.3 251.4L251.7 251.6L252.0 251.8L252.4 251.6L252.7 251.4L253.1 251.3L253.4 251.1L253.8 251.3L254.1 251.8L254.5 252.0L254.8 251.9L255.2 251.5L255.5 251.4L255.9 251.6L256.2 251.8L256.6 251.6L256.9 251.2L257.3 251.0L257.6 251.1L258.0 251.4L258.3 251.8L258.7 252.0L259.0 252.1L259.4 251.8L259.7 251.4L260.1 251.0L260.4 250.9L260.8 251.5L261.1 251.9L261.5 251.6L261.8 251.3L262.2 251.2L262.5 251.4L262.9 251.7L263.2 251.8L263.6 251.5L263.9 251.2L264.3 250.9L264.6 251.1L265.0 251.6L265.3 251.9L265.7 252.0L266.0 252.1L266.4 251.9L266.7 251.7L267.1 251.6L267.4 251.5L267.8 251.4L268.1 251.6L268.5 252.0L268.8 252.2L269.2 252.1L269.5 252.0L269.9 251.9L270.2 251.6L270.6 251.7L270.9 252.0L271.3 252.0L271.6 251.9L272.0 251.6L272.3 251.6L272.7 252.0L273.0 252.2L273.4 252.1L273.7 252.2L274.1 252.2L274.4 252.0L274.8 252.2L275.1 252.1L275.5 252.0L275.8 252.2L276.2 252.2L276.5 252.0L276.9 252.0L277.2 252.1L277.6 252.1L277.9 252.0L278.3 251.9L278.6 251.9L279.0 251.9L279.3 252.1L279.7 252.3L280.0 252.5L280.4 252.4L280.7 252.1L281.1 252.0L281.4 252.1L281.8 252.1L282.1 252.0L282.5 252.2L282.8 252.3L283.2 252.2L283.5 252.3L283.9 252.3L284.2 252.0L284.6 251.8L284.9 251.9L285.3 251.9L285.6 251.8L286.0 252.0L286.3 252.3L286.7 252.1L287.0 251.9L287.4 251.9L287.7 252.1L288.1 252.1L288.4 252.0L288.8 251.8L289.1 251.7L289.5 251.9L289.8 252.0L290.2 251.9L290.5 251.8L290.9 251.7L291.2 251.8L291.6 251.6L291.9 251.4L292.3 251.7L292.6 252.1L293.0 251.9L293.3 251.7L293.7 251.7L294.0 251.6L294.4 251.5L294.7 251.4L295.1 251.4L295.4 251.4L295.8 251.4L296.1 251.5L296.5 251.2L296.8 251.0L297.2 250.8L297.5 250.8L297.9 251.2L298.2 251.1L298.6 251.0L298.9 251.2L299.3 251.2L299.6 251.1L300.0 251.2L300.3 251.2L300.7 251.3L301.0 251.4L301.4 251.4L301.7 251.4L302.1 251.3L302.4 251.3L302.8 251.5L303.1 251.5L303.5 251.4L303.8 251.4L304.2 251.5L304.5 251.3L304.9 251.1L305.2 251.3L305.6 251.8L305.9 252.2L306.3 252.2L306.6 252.3L307.0 252.5L307.3 252.5L307.7 252.3L308.0 252.0L308.4 252.1L308.7 252.4L309.1 252.4L309.4 252.1L309.8 251.7L310.1 251.6L310.5 251.8L310.8 252.1L311.2 252.3L311.5 252.6L311.9 252.9L312.2 252.7L312.6 252.1L312.9 251.9L313.3 252.2L313.6 252.6L314.0 252.7L314.3 252.7L314.7 252.6L315.0 252.6L315.4 252.7L315.7 252.8L316.1 252.7L316.4 252.8L316.8 252.6L317.1 252.5L317.5 252.4L317.8 252.4L318.2 252.5L318.5 252.6L318.9 252.8L319.2 252.9L319.6 252.6L319.9 252.2L320.3 252.3L320.6 252.4L321.0 252.2L321.3 251.8L321.7 252.0L322.0 252.2L322.4 252.4L322.7 252.6L323.1 252.5L323.4 252.1L323.8 252.1L324.1 252.2L324.5 252.3L324.8 252.4L325.2 252.7L325.5 252.7L325.9 252.5L326.2 252.1L326.6 252.2L326.9 252.1L327.3 251.7L327.6 251.6L328.0 251.6L328.3 251.5L328.7 251.4L329.0 251.2L329.4 251.1L329.7 251.2L330.1 251.5L330.4 251.7L330.8 251.6L331.1 251.1L331.5 251.1L331.8 251.2L332.2 251.1L332.5 251.3L332.9 251.2L333.2 251.2L333.6 251.4L333.9 251.5L334.3 251.5L334.6 251.1L335.0 251.1L335.3 251.2L335.7 251.3L336.0 251.1L336.4 251.1L336.7 250.9L337.1 251.1L337.4 251.4L337.8 251.5L338.1 251.5L338.5 251.4L338.8 251.3L339.2 251.3L339.5 251.4L339.9 251.3L340.2 251.2L340.6 251.4L340.9 251.5L341.3 251.5L341.6 251.5L342.0 251.5L342.3 251.8L342.7 252.0L343.0 252.3L343.4 252.2L343.7 251.8L344.1 251.6L344.4 251.4L344.8 251.3L345.1 251.9L345.5 252.2L345.8 252.1L346.2 252.1L346.5 251.9L346.9 251.8L347.2 251.6L347.6 251.5L347.9 251.5L348.3 251.8L348.6 251.8L349.0 251.7L349.3 251.8L349.7 251.9L350.0 251.8L350.4 251.6L350.7 251.6L351.1 252.0L351.4 252.1L351.8 252.1L352.1 252.3L352.5 252.3L352.8 252.4L353.2 252.6L353.5 252.7L353.9 252.5L354.2 252.6L354.6 252.7L354.9 252.5L355.3 252.3L355.6 252.0L356.0 251.9L356.3 251.7L356.7 251.8L357.0 252.1L357.4 252.2L357.7 252.2L358.1 252.3L358.4 252.3L358.8 252.2L359.1 251.9L359.5 252.1L359.8 252.0L360.2 251.8L360.5 252.1L360.9 252.3L361.2 252.0L361.6 251.9L361.9 252.3L362.3 252.3L362.6 252.2L363.0 252.0L363.3 252.0L363.7 252.2L364.0 252.2L364.4 251.9L364.7 251.8L365.1 251.6L365.4 251.7L365.8 252.2L366.1 252.1L366.5 251.6L366.8 251.2L367.2 251.1L367.5 251.5L367.9 251.6L368.2 251.8L368.6 252.1L368.9 252.0L369.3 251.5L369.6 251.2L370.0 251.3L370.3 251.4L370.7 251.4L371.0 251.6L371.4 252.0L371.7 252.1L372.1 251.9L372.4 252.0L372.8 252.1L373.1 252.0L373.5 251.9L373.8 251.9L374.2 251.8L374.5 251.5L374.9 251.7L375.2 252.2L375.6 252.1L375.9 251.7L376.3 251.9L376.6 252.0L377.0 252.0L377.3 252.1L377.7 252.2L378.0 252.0L378.4 252.1L378.7 252.0L379.1 251.8L379.4 251.9L379.8 252.0L380.1 251.8L380.5 251.8L380.8 252.1L381.2 252.3L381.5 252.1L381.9 251.6L382.2 251.5L382.6 251.7L382.9 252.1L383.3 251.9L383.6 251.9L384.0 252.1L384.3 252.2L384.7 252.3L385.0 252.4L385.4 252.2L385.7 251.9L386.1 252.0L386.4 252.1L386.8 252.1L387.1 252.1L387.5 251.9L387.8 251.7L388.2 251.6L388.5 251.4L388.9 251.6L389.2 251.7L389.6 251.3L389.9 251.2L390.3 251.3L390.6 251.6L391.0 251.9L391.3 251.7L391.7 251.5L392.0 251.5L392.4 251.5L392.7 251.6L393.1 251.4L393.4 251.0L393.8 250.8L394.1 250.9L394.5 251.1L394.8 251.1L395.2 251.3L395.5 251.1L395.9 250.8L396.2 251.2L396.6 251.4L396.9 251.3L397.3 251.0L397.6 251.4L398.0 252.0L398.3 252.0L398.7 251.4L399.0 251.2L399.4 251.4L399.7 251.7L400.1 251.8L400.4 251.5L400.8 251.3L401.1 251.1L401.5 251.1L401.8 251.2L402.2 251.0L402.5 251.0L402.9 251.3L403.2 251.3L403.6 251.1L403.9 251.3L404.3 251.5L404.6 251.5L405.0 251.6L405.3 251.8L405.7 251.8L406.0 251.5L406.4 251.2L406.7 251.2L407.1 251.2L407.4 251.4L407.8 251.7L408.1 251.7L408.5 251.4L408.8 251.3L409.2 251.7L409.5 251.8L409.9 251.9L410.2 252.0L410.6 252.2L410.9 251.9L411.3 251.2L411.6 250.9L412.0 251.3L412.3 251.6L412.7 251.6L413.0 251.6L413.4 251.7L413.7 251.6L414.1 251.7L414.4 251.8L414.8 251.7L415.1 251.6L415.5 251.7L415.8 251.7L416.2 251.7L416.5 251.5L416.9 251.4L417.2 251.2L417.6 251.5L417.9 252.1L418.3 252.4L418.6 252.1L419.0 251.4L419.3 251.2L419.7 251.6L420.0 252.0L420.4 252.1L420.7 252.0L421.1 251.8L421.4 251.8L421.8 251.6L422.1 251.4L422.5 251.2L422.8 251.5L423.2 251.6L423.5 251.3L423.9 251.2L424.2 251.1L424.6 251.4L424.9 251.4L425.3 251.4L425.6 251.5L426.0 251.5L426.3 251.4L426.7 251.4L427.0 251.5L427.4 251.7L427.7 251.6L428.1 251.2L428.4 251.0L428.8 251.0L429.1 251.1L429.5 251.3L429.8 251.7L430.2 251.4L430.5 251.2L430.9 251.4L431.2 251.7L431.6 251.9L431.9 251.6L432.3 251.4L432.6 251.6L433.0 251.6L433.3 251.3L433.7 251.3L434.0 251.3L434.4 251.5L434.7 251.6L435.1 251.6L435.4 251.3L435.8 251.1L436.1 251.3L436.5 251.8L436.8 252.4L437.2 252.3L437.5 252.0L437.9 251.7L438.2 251.7L438.6 251.9L438.9 252.4L439.3 252.6L439.6 252.5L440.0 252.1L440.3 251.6L440.7 251.6L441.0 251.8L441.4 251.9L441.7 251.9L442.1 251.7L442.4 251.5L442.8 251.4L443.1 251.9L443.5 252.3L443.8 252.3L444.2 252.3L444.5 252.0L444.9 251.4L445.2 251.1L445.6 251.5L445.9 251.7L446.3 251.5L446.6 251.6L447.0 251.8L447.3 251.6L447.7 251.1L448.0 251.0L448.4 251.6L448.7 251.7L449.1 251.7L449.4 251.5L449.8 251.3L450.1 251.4L450.5 251.3L450.8 251.1L451.2 251.1L451.5 251.3L451.9 251.6L452.2 251.6L452.6 251.4L452.9 251.3L453.3 251.4L453.6 251.7L454.0 251.8L454.3 251.7L454.7 251.5L455.0 251.5L455.4 251.3L455.7 251.0L456.1 250.7L456.4 250.9L456.8 251.3L457.1 251.6L457.5 251.5L457.8 251.2L458.2 251.2L458.5 251.1L458.9 250.9L459.2 250.9L459.6 251.0L459.9 251.1L460.3 251.1L460.6 251.0L461.0 251.1L461.3 251.1L461.7 251.1L462.0 251.0L462.4 251.1L462.7 251.2L463.1 250.9L463.4 250.9L463.8 251.3L464.1 251.8L464.5 252.0L464.8 251.7L465.2 251.2L465.5 251.1L465.9 251.2L466.2 251.1L466.6 250.9L466.9 251.0L467.3 251.3L467.6 251.2L468.0 251.1L468.3 251.2L468.7 251.3L469.0 251.2L469.4 251.2L469.7 250.8L470.0 250.7" stroke="#ff00ff"/>
<path d="M46.0 50.0L46.2 50.3L46.3 50.7L46.5 51.1L46.6 51.4L46.8 51.8L46.9 52.2L47.1 52.5L47.2 52.9L47.4 53.3L47.5 53.6L47.7 54.0L47.9 54.4L48.0 54.7L48.2 55.1L48.3 55.5L48.5 55.8L48.6 56.2L48.8 56.6L49.0 56.9L49.1 57.3L49.3 57.7L49.5 58.0L49.6 58.4L49.8 58.8L49.9 59.1L50.1 59.5L50.3 59.9L50.4 60.2L50.6 60.6L50.8 61.0L50.9 61.3L51.1 61.7L51.2 62.0L51.4 62.4L51.6 62.8L51.7 63.1L51.9 63.5L52.1 63.9L52.3 64.2L52.4 64.6L52.6 64.9L52.8 65.3L52.9 65.7L53.1 66.0L53.3 66.4L53.4 66.8L53.6 67.1L53.8 67.5L54.0 67.8L54.1 68.2L54.3 68.6L54.5 68.9L54.7 69.3L54.8 69.6L55.0 70.0L55.2 70.3L55.4 70.7L55.6 71.1L55.7 71.4L55.9 71.8L56.1 72.1L56.3 72.5L56.5 72.8L56.6 73.2L56.8 73.6L57.0 73.9L57.2 74.3L57.4 74.6L57.6 75.0L57.7 75.3L57.9 75.7L58.1 76.0L58.3 76.4L58.5 76.7L58.7 77.1L58.9 77.4L59.1 77.8L59.2 78.1L59.4 78.5L59.6 78.8L59.8 79.2L60.0 79.5L60.2 79.9L60.4 80.2L60.6 80.6L60.8 80.9L61.0 81.3L61.2 81.6L61.4 82.0L61.6 82.3L61.8 82.7L62.0 83.0L62.2 83.4L62.4 83.7L62.6 84.1L62.8 84.4L63.0 84.7L63.2 85.1L63.4 85.4L63.6 85.8L63.8 86.1L64.0 86.5L64.2 86.8L64.4 87.1L64.6 87.5L64.8 87.8L65.0 88.2L65.3 88.5L65.5 88.8L65.7 89.2L65.9 89.5L66.1 89.9L66.3 90.2L66.5 90.5L66.7 90.9L67.0 91.2L67.2 91.5L67.4 91.9L67.6 92.2L67.8 92.5L68.0 92.9L68.3 93.2L68.5 93.5L68.7 93.9L68.9 94.2L69.2 94.5L69.4 94.9L69.6 95.2L69.8 95.5L70.0 95.9L70.3 96.2L70.5 96.5L70.7 96.9L71.0 97.2L71.2 97.5L71.4 97.8L71.6 98.2L71.9 98.5L72.1 98.8L72.3 99.1L72.6 99.5L72.8 99.8L73.0 100.1L73.3 100.4L73.5 100.8L73.7 101.1L74.0 101.4L74.2 101.7L74.4 102.1L74.7 102.4L74.9 102.7L75.2 103.0L75.4 103.3L75.6 103.7L75.9 104.0L76.1 104.3L76.4 104.6L76.6 104.9L76.8 105.3L77.1 105.6L77.3 105.9L77.6 106.2L77.8 106.5L78.1 106.8L78.3 107.2L78.6 107.5L78.8 107.8L79.0 108.1L79.3 108.4L79.5 108.7L79.8 109.0L80.0 109.3L80.3 109.7L80.5 110.0L80.8 110.3L81.0 110.6L81.3 110.9L81.6 111.2L81.8 111.5L82.1 111.8L82.3 112.1L82.6 112.4L82.8 112.7L83.1 113.1L83.3 113.4L83.6 113.7L83.8 114.0L84.1 114.3L84.4 114.6L84.6 114.9L84.9 115.2L85.1 115.5L85.4 115.8L85.7 116.1L85.9 116.4L86.2 116.7L86.4 117.0L86.7 117.3L87.0 117.6L87.2 117.9L87.5 118.2L87.8 118.5L88.0 118.8L88.3 119.1L88.5 119.4L88.8 119.7L89.1 120.0L89.3 120.3L89.6 120.6L89.9 120.9L90.1 121.2L90.4 121.5L90.7 121.8L91.0 122.1L91.2 122.4L91.5 122.7L91.8 123.0L92.0 123.3L92.3 123.6L92.6 123.9L92.8 124.2L93.1 124.5L93.4 124.8L93.7 125.0L93.9 125.3L94.2 125.6L94.5 125.9L94.7 126.2L95.0 126.5L95.3 126.8L95.6 127.1L95.8 127.4L96.1 127.7L96.4 128.0L96.7 128.2L96.9 128.5L97.2 128.8L97.5 129.1L97.8 129.4L98.1 129.7L98.3 130.0L98.6 130.3L98.9 130.5L99.2 130.8L99.4 131.1L99.7 131.4L100.0 131.7L100.3 132.0L100.6 132.3L100.8 132.5L101.1 132.8L101.4 133.1L101.7 133.4L102.0 133.7L102.3 134.0L102.5 134.3L102.8 134.5L103.1 134.8L103.4 135.1L103.7 135.4L104.0 135.7L104.2 135.9L104.5 136.2L104.8 136.5L105.1 136.8L105.4 137.1L105.7 137.3L105.9 137.6L106.2 137.9L106.5 138.2L106.8 138.5L107.1 138.7L107.4 139.0L107.7 139.3L108.0 139.6L108.2 139.9L108.5 140.1L108.8 140.4L109.1 140.7L109.4 141.0L109.7 141.2L110.0 141.5L110.3 141.8L110.6 142.1L110.8 142.3L111.1 142.6L111.4 142.9L111.7 143.2L112.0 143.4L112.3 143.7L112.6 144.0L112.9 144.3L113.2 144.5L113.5 144.8L113.8 145.1L114.1 145.3L114.3 145.6L114.6 145.9L114.9 146.2L115.2 146.4L115.5 146.7L115.8 147.0L116.1 147.2L116.4 147.5L116.7 147.8L117.0 148.0L117.3 148.3L117.6 148.6L117.9 148.9L118.2 149.1L118.5 149.4L118.8 149.7L119.1 149.9L119.4 150.2L119.7 150.5L120.0 150.7L120.3 151.0L120.6 151.3L120.9 151.5L121.2 151.8L121.5 152.1L121.8 152.3L122.1 152.6L122.4 152.9L122.7 153.1L123.0 153.4L123.3 153.7L123.6 153.9L123.9 154.2L124.2 154.4L124.5 154.7L124.8 155.0L125.1 155.2L125.4 155.5L125.7 155.8L126.0 156.0L126.3 156.3L126.6 156.5L126.9 156.8L127.2 157.1L127.5 157.3L127.8 157.6L128.1 157.9L128.4 158.1L128.7 158.4L129.0 158.6L129.3 158.9L129.6 159.2L129.9 159.4L130.2 159.7L130.5 159.9L130.8 160.2L131.1 160.5L131.4 160.7L131.7 161.0L132.0 161.2L132.3 161.5L132.6 161.7L133.0 162.0L133.3 162.3L133.6 162.5L133.9 162.8L134.2 163.0L134.5 163.3L134.8 163.5L135.1 163.8L135.4 164.1L135.7 164.3L136.0 164.6L136.3 164.8L136.6 165.1L136.9 165.3L137.3 165.6L137.6 165.8L137.9 166.1L138.2 166.3L138.5 166.6L138.8 166.9L139.1 167.1L139.4 167.4L139.7 167.6L140.0 167.9L140.3 168.1L140.7 168.4L141.0 168.6L141.3 168.9L141.6 169.1L141.9 169.4L142.2 169.6L142.5 169.9L142.8 170.1L143.1 170.4L143.5 170.6L143.8 170.9L144.1 171.1L144.4 171.4L144.7 171.6L145.0 171.9L145.3 172.1L145.6 172.4L145.9 172.6L146.3 172.9L146.6 173.1L146.9 173.4L147.2 173.6L147.5 173.9L147.8 174.1L148.1 174.4L148.4 174.6L148.8 174.9L149.1 175.1L149.4 175.4L149.7 175.6L150.0 175.9L150.3 176.1L150.6 176.4L151.0 176.6L151.3 176.9L151.6 177.1L151.9 177.4L152.2 177.6L152.5 177.9L152.8 178.1L153.2 178.4L153.5 178.6L153.8 178.8L154.1 179.1L154.4 179.3L154.7 179.6L155.0 179.8L155.4 180.1L155.7 180.3L156.0 180.6L156.3 180.8L156.6 181.1L156.9 181.3L157.3 181.5L157.6 181.8L157.9 182.0L158.2 182.3L158.5 182.5L158.8 182.8L159.2 183.0L159.5 183.3L159.8 183.5L160.1 183.7L160.4 184.0L160.7 184.2L161.1 184.5L161.4 184.7L161.7 185.0L162.0 185.2L162.3 185.4L162.6 185.7L163.0 185.9L163.3 186.2L163.6 186.4L163.9 186.7L164.2 186.9L164.6 187.2L164.9 187.4L165.2 187.6L165.5 187.9L165.8 188.1L166.2 188.4L166.5 188.6L166.8 188.8L167.1 189.1L167.4 189.3L167.7 189.6L168.1 189.8L168.4 190.1L168.7 190.3L169.0 190.5L169.3 190.8L169.7 191.0L170.0 191.3L170.3 191.5L170.6 191.7L170.9 192.0L171.3 192.2L171.6 192.5L171.9 192.7L172.2 192.9L172.5 193.2L172.9 193.4L173.2 193.7L173.5 193.9L173.8 194.1L174.1 194.4L174.5 194.6L174.8 194.8L175.1 195.1L175.4 195.3L175.7 195.6L176.1 195.8L176.4 196.0L176.7 196.3L177.0 196.5L177.4 196.7L177.7 197.0L178.0 197.2L178.3 197.5L178.6 197.7L179.0 197.9L179.3 198.2L179.6 198.4L179.9 198.7L180.2 198.9L180.6 199.1L180.9 199.4L181.2 199.6L181.5 199.8L181.9 200.1L182.2 200.3L182.5 200.6L182.8 200.8L183.1 201.0L183.5 201.3L183.8 201.5L184.1 201.7L184.4 202.0L184.8 202.2L185.1 202.5L185.4 202.7L185.7 202.9L186.0 203.2L186.4 203.4L186.7 203.6L187.0 203.9L187.3 204.1L187.7 204.3L188.0 204.6L188.3 204.8L188.6 205.0L189.0 205.3L189.3 205.5L189.6 205.7L189.9 206.0L190.3 206.2L190.6 206.4L190.9 206.7L191.2 206.9L191.5 207.2L191.9 207.4L192.2 207.6L192.5 207.8L192.8 208.1L193.2 208.3L193.5 208.6L193.8 208.8L194.1 209.0L194.5 209.3L194.8 209.5L195.1 209.7L195.4 210.0L195.8 210.2L196.1 210.4L196.4 210.7L196.7 210.9L197.1 211.1L197.4 211.4L197.7 211.6L198.0 211.8L198.4 212.1L198.7 212.3L199.0 212.5L199.3 212.8L199.7 213.0L200.0 213.3L200.3 213.5L200.6 213.7L201.0 213.9L201.3 214.2L201.6 214.4L201.9 214.6L202.3 214.9L202.6 215.1L202.9 215.3L203.3 215.5L203.6 215.8L203.9 216.0L204.2 216.2L204.6 216.5L204.9 216.7L205.2 216.9L205.5 217.2L205.9 217.4L206.2 217.6L206.5 217.8L206.8 218.1L207.2 218.3L207.5 218.5L207.8 218.8L208.2 219.0L208.5 219.2L208.8 219.4L209.1 219.7L209.5 219.9L209.8 220.1L210.1 220.4L210.5 220.6L210.8 220.8L211.1 221.0L211.4 221.3L211.8 221.5L212.1 221.7L212.4 222.0L212.7 222.2L213.1 222.4L213.4 222.7L213.7 222.9L214.1 223.1L214.4 223.4L214.7 223.6L215.1 223.8L215.4 224.0L215.7 224.2L216.0 224.5L216.4 224.7L216.7 224.9L217.0 225.2L217.4 225.4L217.7 225.6L218.0 225.8L218.3 226.0L218.7 226.3L219.0 226.5L219.3 226.7L219.7 227.0L220.0 227.2L220.3 227.4L220.7 227.7L221.0 227.9L221.3 228.1L221.7 228.3L222.0 228.5L222.3 228.8L222.6 229.0L223.0 229.2L223.3 229.4L223.6 229.7L224.0 229.9L224.3 230.1L224.6 230.3L225.0 230.6L225.3 230.8L225.6 231.0L226.0 231.2L226.3 231.5L226.6 231.7L227.0 231.9L227.3 232.1L227.6 232.4L228.0 232.6L228.3 232.8L228.6 233.0L229.0 233.3L229.3 233.5L229.6 233.7L230.0 233.9L230.3 234.1L230.6 234.4L231.0 234.6L231.3 234.8L231.6 235.0L232.0 235.3L232.3 235.5L232.6 235.7L233.0 235.9L233.3 236.1L233.6 236.3L234.0 236.6L234.3 236.8L234.6 237.0L235.0 237.2L235.3 237.5L235.6 237.7L236.0 237.9L236.3 238.1L236.7 238.3L237.0 238.5L237.3 238.7L237.7 238.9L238.0 239.2L238.3 239.4L238.7 239.6L239.0 239.8L239.4 240.1L239.7 240.3L240.0 240.5L240.4 240.7L240.7 240.9L241.0 241.1L241.4 241.3L241.7 241.5L242.1 241.7L242.4 241.9L242.7 242.2L243.1 242.4L243.4 242.6L243.8 242.8L244.1 243.0L244.4 243.2L244.8 243.4L245.1 243.6L245.5 243.8L245.8 244.0L246.1 244.2L246.5 244.4L246.8 244.7L247.2 244.9L247.5 245.1L247.8 245.3L248.2 245.5L248.5 245.7L248.9 245.9L249.2 246.1L249.6 246.4L249.9 246.6L250.2 246.8L250.6 247.0L250.9 247.2L251.3 247.4L251.6 247.6L252.0 247.8L252.3 248.1L252.6 248.3L253.0 248.5L253.3 248.7L253.7 248.9L254.0 249.1L254.4 249.2L254.7 249.3L255.1 249.5L255.4 249.7L255.8 250.0L256.1 250.2L256.4 250.4L256.8 250.5L257.1 250.7L257.5 250.9L257.8 251.2L258.2 251.4L258.5 251.6L258.9 251.9L259.2 252.1L259.6 252.3L259.9 252.4L260.3 252.6L260.6 252.8L261.0 253.0L261.3 253.2L261.7 253.3L262.0 253.5L262.4 253.7L262.7 253.8L263.1 254.1L263.4 254.3L263.8 254.4L264.1 254.7L264.5 255.0L264.8 255.2L265.2 255.4L265.5 255.6L265.9 255.7L266.2 255.7L266.6 255.9L266.9 256.2L267.3 256.5L267.6 256.6L268.0 256.7L268.3 256.8L268.7 257.1L269.0 257.2L269.4 257.3L269.7 257.6L270.1 257.8L270.4 258.0L270.8 258.1L271.1 258.3L271.5 258.6L271.8 258.7L272.2 258.9L272.5 259.0L272.9 259.1L273.2 259.3L273.6 259.6L273.9 259.8L274.3 259.9L274.6 260.1L275.0 260.3L275.3 260.4L275.7 260.4L276.0 260.6L276.4 261.0L276.7 261.1L277.1 261.2L277.4 261.5L277.8 261.7L278.1 261.8L278.5 261.9L278.8 262.0L279.2 262.2L279.5 262.4L279.9 262.5L280.2 262.6L280.6 262.7L280.9 262.8L281.3 263.1L281.6 263.4L282.0 263.5L282.3 263.6L282.7 263.8L283.0 263.8L283.4 263.9L283.7 264.2L284.1 264.5L284.4 264.6L284.8 264.6L285.1 264.7L285.5 264.9L285.8 265.2L286.2 265.3L286.5 265.3L286.9 265.3L287.2 265.5L287.6 265.8L287.9 265.9L288.3 266.1L288.6 266.3L289.0 266.4L289.3 266.6L289.7 266.7L290.0 266.8L290.4 267.1L290.7 267.3L291.1 267.2L291.4 267.2L291.8 267.2L292.1 267.4L292.5 267.7L292.8 267.8L293.2 268.0L293.5 268.4L293.9 268.5L294.2 268.5L294.6 268.6L294.9 268.6L295.3 268.8L295.6 269.0L296.0 269.2L296.3 269.3L296.7 269.3L297.0 269.6L297.4 269.8L297.7 269.9L298.1 270.1L298.4 270.1L298.8 270.2L299.1 270.4L299.5 270.5L299.8 270.4L300.2 270.5L300.5 270.7L300.9 270.8L301.2 270.8L301.6 270.8L301.9 271.1L302.3 271.1L302.6 271.0L303.0 271.2L303.3 271.4L303.7 271.4L304.0 271.2L304.4 271.3L304.7 271.5L305.1 271.8L305.4 272.0L305.8 272.3L306.1 272.6L306.5 272.8L306.8 272.9L307.2 272.8L307.5 272.6L307.9 272.7L308.2 272.7L308.6 272.8L308.9 273.1L309.3 273.3L309.6 273.4L310.0 273.5L310.3 273.8L310.7 273.9L311.0 273.8L311.4 273.7L311.7 273.9L312.1 274.3L312.4 274.6L312.8 274.4L313.1 274.2L313.5 274.1L313.8 274.1L314.2 274.5L314.5 274.7L314.9 274.8L315.2 274.7L315.6 274.8L315.9 275.1L316.3 275.1L316.6 275.3L317.0 275.4L317.3 275.4L317.7 275.3L318.0 275.3L318.4 275.2L318.7 275.4L319.1 275.5L319.4 275.5L319.8 275.8L320.1 276.2L320.5 276.4L320.8 276.2L321.2 276.2L321.5 276.3L321.9 276.3L322.2 276.3L322.6 276.6L322.9 276.6L323.3 276.6L323.6 276.8L324.0 276.9L324.3 276.8L324.7 276.9L325.0 277.0L325.4 276.8L325.7 276.9L326.1 277.0L326.4 277.0L326.8 277.2L327.1 277.5L327.5 277.6L327.8 277.5L328.2 277.4L328.5 277.6L328.9 277.6L329.2 277.5L329.6 277.7L329.9 277.7L330.3 277.7L330.6 278.0L331.0 278.0L331.3 277.9L331.7 278.0L332.0 277.9L332.4 277.8L332.7 278.0L333.1 278.2L333.4 278.3L333.8 278.2L334.1 278.0L334.5 278.0L334.8 277.9L335.2 278.1L335.5 278.2L335.9 278.2L336.2 278.3L336.6 278.5L336.9 278.5L337.3 278.7L337.6 278.8L338.0 278.8L338.3 278.6L338.7 278.8L339.0 279.1L339.4 279.4L339.7 279.4L340.1 279.4L340.4 279.3L340.8 279.3L341.1 279.2L341.5 279.2L341.8 279.2L342.2 278.8L342.5 278.8L342.9 279.3L343.2 279.8L343.6 279.8L343.9 279.6L344.3 279.5L344.6 279.5L345.0 279.6L345.3 279.6L345.7 279.2L346.0 278.9L346.4 278.8L346.7 279.2L347.1 279.5L347.4 279.4L347.8 279.2L348.1 279.2L348.5 279.5L348.8 279.7L349.2 279.8L349.5 279.8L349.9 279.9L350.2 279.9L350.6 279.8L350.9 279.4L351.3 279.3L351.6 279.6L352.0 279.8L352.3 279.6L352.7 279.6L353.0 279.6L353.4 279.4L353.7 279.5L354.1 279.9L354.4 279.8L354.8 279.6L355.1 279.7L355.5 279.6L355.8 279.2L356.2 279.2L356.5 279.4L356.9 279.5L357.2 279.6L357.6 279.8L357.9 280.4L358.3 280.5L358.6 280.4L359.0 280.1L359.3 279.9L359.7 280.0L360.0 280.1L360.4 280.2L360.7 280.0L361.1 279.9L361.4 280.0L361.8 280.3L362.1 280.3L362.5 280.1L362.8 280.2L363.2 280.6L363.5 280.8L363.9 280.6L364.2 280.6L364.6 280.6L364.9 280.6L365.3 280.6L365.6 280.6L366.0 280.6L366.3 280.8L366.7 281.1L367.0 281.2L367.4 281.2L367.7 281.0L368.1 280.8L368.4 280.8L368.8 281.1L369.1 281.4L369.5 281.4L369.8 281.2L370.2 281.5L370.5 281.4L370.9 281.3L371.2 281.3L371.6 281.1L371.9 280.9L372.3 281.0L372.6 281.2L373.0 281.5L373.3 281.1L373.7 280.8L374.0 281.3L374.4 281.4L374.7 281.1L375.1 281.1L375.4 281.7L375.8 281.4L376.1 281.1L376.5 281.0L376.8 281.2L377.2 281.2L377.5 281.3L377.9 281.4L378.2 281.4L378.6 281.4L378.9 281.2L379.3 281.4L379.6 281.4L380.0 281.3L380.3 281.4L380.7 281.4L381.0 281.2L381.4 281.0L381.7 280.8L382.1 280.6L382.4 280.6L382.8 280.9L383.1 281.2L383.5 281.2L383.8 281.0L384.2 280.8L384.5 280.7L384.9 281.3L385.2 281.6L385.6 281.3L385.9 281.3L386.3 280.9L386.6 280.7L387.0 280.8L387.3 281.0L387.7 281.4L388.0 281.4L388.4 281.3L388.7 281.3L389.1 281.7L389.4 281.9L389.8 281.6L390.1 281.3L390.5 281.1L390.8 281.1L391.2 281.3L391.5 281.6L391.9 281.6L392.2 281.7L392.6 281.6L392.9 281.8L393.3 282.0L393.6 282.0L394.0 281.8L394.3 281.8L394.7 282.1L395.0 281.9L395.4 281.9L395.7 281.8L396.1 281.7L396.4 282.1L396.8 282.3L397.1 282.1L397.5 281.6L397.8 281.6L398.2 281.9L398.5 282.1L398.9 282.1L399.2 281.7L399.6 281.3L399.9 281.4L400.3 281.6L400.6 281.4L401.0 281.5L401.3 281.9L401.7 282.1L402.0 281.8L402.4 281.7L402.7 281.9L403.1 282.0L403.4 281.8L403.8 281.7L404.1 281.6L404.5 281.7L404.8 282.1L405.2 282.3L405.5 282.0L405.9 281.9L406.2 281.9L406.6 281.8L406.9 281.7L407.3 282.0L407.6 282.2L408.0 282.0L408.3 281.7L408.7 281.6L409.0 281.7L409.4 281.9L409.7 281.7L410.1 281.8L410.4 282.0L410.8 281.6L411.1 281.5L411.5 281.5L411.8 281.8L412.2 281.8L412.5 281.6L412.9 281.6L413.2 281.9L413.6 282.1L413.9 282.2L414.3 282.1L414.6 282.0L415.0 282.1L415.3 282.4L415.7 282.3L416.0 282.2L416.4 282.1L416.7 282.0L417.1 282.1L417.4 282.4L417.8 282.6L418.1 282.2L418.5 281.9L418.8 282.1L419.2 282.1L419.5 282.1L419.9 282.3L420.2 282.2L420.6 282.1L420.9 282.5L421.3 282.9L421.6 282.9L422.0 282.6L422.3 282.4L422.7 282.4L423.0 282.5L423.4 282.4L423.7 282.4L424.1 282.4L424.4 282.2L424.8 281.9L425.1 282.1L425.5 282.2L425.8 282.3L426.2 282.3L426.5 282.1L426.9 282.1L427.2 282.4L427.6 282.6L427.9 282.7L428.3 282.4L428.6 282.2L429.0 282.3L429.3 282.4L429.7 282.6L430.0 282.7L430.4 282.5L430.7 282.2L431.1 281.9L431.4 282.2L431.8 282.5L432.1 282.4L432.5 281.9L432.8 281.8L433.2 282.0L433.5 282.2L433.9 282.3L434.2 282.7L434.6 282.7L434.9 282.5L435.3 282.7L435.6 282.6L436.0 281.7L436.3 281.5L436.7 281.8L437.0 281.9L437.4 281.8L437.7 282.0L438.1 282.0L438.4 281.6L438.8 281.3L439.1 281.7L439.5 282.3L439.8 282.5L440.2 282.1L440.5 281.3L440.9 281.3L441.2 281.7L441.6 281.8L441.9 282.1L442.3 282.3L442.6 282.4L443.0 282.4L443.3 282.3L443.7 282.2L444.0 281.8L444.4 281.5L444.7 281.5L445.1 281.8L445.4 282.3L445.8 282.4L446.1 282.1L446.5 282.3L446.8 282.5L447.2 282.1L447.5 281.8L447.9 282.1L448.2 282.2L448.6 281.9L448.9 282.1L449.3 282.5L449.6 282.6L450.0 282.8L450.3 282.6L450.7 282.1L451.0 282.0L451.4 282.4L451.7 282.5L452.1 282.6L452.4 282.5L452.8 282.4L453.1 282.6L453.5 282.6L453.8 282.3L454.2 282.2L454.5 282.3L454.9 282.6L455.2 282.8L455.6 282.7L455.9 282.3L456.3 282.1L456.6 282.3L457.0 282.3L457.3 282.2L457.7 282.4L458.0 282.9L458.4 282.9L458.7 282.5L459.1 282.6L459.4 282.9L459.8 282.9L460.1 282.6L460.5 282.5L460.8 282.4L461.2 282.3L461.5 282.5L461.9 282.6L462.2 282.3L462.6 282.1L462.9 282.3L463.3 282.3L463.6 282.0L464.0 281.7L464.3 282.0L464.7 282.5L465.0 282.6L465.4 282.3L465.7 282.0L466.1 282.0L466.4 281.9L466.8 282.0L467.1 281.7L467.5 281.5L467.8 281.8L468.2 281.9L468.5 281.8L468.9 281.5L469.2 281.5L469.6 281.9L469.9 282.1L470.0 282.3" stroke="#ff00ff"/>
</g>
<path d="M46 4.5 H470 M46 333 H470 M46 4.5 V333 M470 4.5 V333" stroke="#000" stroke-width="1" fill="none"/>
<path class="tk" d="M0.37 0.688L0.37 0L0.27 0L0.27 0.49L0.12 0.49L0.12 0.565Q0.22 0.57 0.255 0.605Q0.285 0.645 0.295 0.688Z" transform="translate(27.40 9.10) scale(13.400 -13.400)" style="stroke-width:0.0336"/>
<text x="34.85" y="9.10" class="tk">0</text>
<text x="34.85" y="56.03" class="tk">0</text>
<text x="19.57" y="102.96" class="tk">−</text>
<path class="tk" d="M0.37 0.688L0.37 0L0.27 0L0.27 0.49L0.12 0.49L0.12 0.565Q0.22 0.57 0.255 0.605Q0.285 0.645 0.295 0.688Z" transform="translate(27.40 102.96) scale(13.400 -13.400)" style="stroke-width:0.0336"/>
<text x="34.85" y="102.96" class="tk">0</text>
<text x="19.57" y="149.89" class="tk">−20</text>
<text x="19.57" y="196.81" class="tk">−30</text>
<text x="19.57" y="243.74" class="tk">−40</text>
<text x="19.57" y="290.67" class="tk">−50</text>
<text x="19.57" y="337.60" class="tk">−60</text>
<text x="42.27" y="348.90" class="tk">0</text>
<text x="89.69" y="348.90" class="tk">0.5</text>
<path class="tk" d="M0.37 0.688L0.37 0L0.27 0L0.27 0.49L0.12 0.49L0.12 0.565Q0.22 0.57 0.255 0.605Q0.285 0.645 0.295 0.688Z" transform="translate(148.27 348.90) scale(13.400 -13.400)" style="stroke-width:0.0336"/>
<path class="tk" d="M0.37 0.688L0.37 0L0.27 0L0.27 0.49L0.12 0.49L0.12 0.565Q0.22 0.57 0.255 0.605Q0.285 0.645 0.295 0.688Z" transform="translate(195.69 348.90) scale(13.400 -13.400)" style="stroke-width:0.0336"/>
<text x="203.14" y="348.90" class="tk">.5</text>
<text x="254.27" y="348.90" class="tk">2</text>
<text x="301.69" y="348.90" class="tk">2.5</text>
<text x="360.27" y="348.90" class="tk">3</text>
<text x="407.69" y="348.90" class="tk">3.5</text>
<text x="466.27" y="348.90" class="tk">4</text>
<text x="440.00" y="370.50" class="tk" style="font-size:12.5px">x </text>
<path class="tk" d="M0.37 0.688L0.37 0L0.27 0L0.27 0.49L0.12 0.49L0.12 0.565Q0.22 0.57 0.255 0.605Q0.285 0.645 0.295 0.688Z" transform="translate(449.72 370.50) scale(12.500 -12.500)" style="stroke-width:0.0360"/>
<text x="456.67" y="370.50" class="tk" style="font-size:12.5px">0</text>
<text x="465.0" y="365.3" class="tk" style="font-size:10px">4</text>
<rect x="283" y="11" width="180.5" height="40" fill="#fff" stroke="#000" stroke-width="1"/>
<path d="M289.9 17.5 H328.5" stroke="#0000ff" stroke-width="2.9"/>
<path d="M289.9 29.4 H328.5" stroke="#000" stroke-width="2.9"/>
<path d="M289.9 42.8 H328.5" stroke="#ff00ff" stroke-width="2.9"/>
<path d="M363.00 142.80 L349.96 173.16" stroke="#000" stroke-width="2.7" fill="none" stroke-linecap="round"/><path d="M345.77 182.90 L345.59 170.41 L349.96 173.16 L354.96 174.44 Z" fill="#000" stroke="#000" stroke-width="2.4" stroke-linejoin="round"/>
<path d="M363.00 142.80 L363.50 203.70" stroke="#000" stroke-width="2.7" fill="none" stroke-linecap="round"/><path d="M363.59 214.30 L358.40 202.94 L363.50 203.70 L368.60 202.86 Z" fill="#000" stroke="#000" stroke-width="2.4" stroke-linejoin="round"/>
<path d="M363.00 142.80 L383.93 191.36" stroke="#000" stroke-width="2.7" fill="none" stroke-linecap="round"/><path d="M388.13 201.10 L378.93 192.65 L383.93 191.36 L388.30 188.61 Z" fill="#000" stroke="#000" stroke-width="2.4" stroke-linejoin="round"/>
<path d="M143.60 296.80 L130.51 266.72" stroke="#000" stroke-width="2.7" fill="none" stroke-linecap="round"/><path d="M126.28 257.00 L135.50 265.42 L130.51 266.72 L126.15 269.49 Z" fill="#000" stroke="#000" stroke-width="2.4" stroke-linejoin="round"/>
<path d="M143.60 296.80 L143.29 257.30" stroke="#000" stroke-width="2.7" fill="none" stroke-linecap="round"/><path d="M143.21 246.70 L148.40 258.06 L143.29 257.30 L138.20 258.14 Z" fill="#000" stroke="#000" stroke-width="2.4" stroke-linejoin="round"/>
<path d="M143.60 296.80 L161.80 259.69" stroke="#000" stroke-width="2.7" fill="none" stroke-linecap="round"/><path d="M166.47 250.18 L166.03 262.66 L161.80 259.69 L156.87 258.17 Z" fill="#000" stroke="#000" stroke-width="2.4" stroke-linejoin="round"/>
<path d="M379.80 313.20 L370.42 295.08" stroke="#000" stroke-width="2.7" fill="none" stroke-linecap="round"/><path d="M365.55 285.67 L375.32 293.45 L370.42 295.08 L366.26 298.13 Z" fill="#000" stroke="#000" stroke-width="2.4" stroke-linejoin="round"/>
<path d="M379.80 313.20 L379.73 288.20" stroke="#000" stroke-width="2.7" fill="none" stroke-linecap="round"/><path d="M379.70 277.60 L384.83 288.99 L379.73 288.20 L374.63 289.01 Z" fill="#000" stroke="#000" stroke-width="2.4" stroke-linejoin="round"/>
<path d="M379.80 313.20 L392.43 290.69" stroke="#000" stroke-width="2.7" fill="none" stroke-linecap="round"/><path d="M397.61 281.45 L396.48 293.88 L392.43 290.69 L387.59 288.89 Z" fill="#000" stroke="#000" stroke-width="2.4" stroke-linejoin="round"/>
<text class="sf" transform="translate(332.70 21.70) scale(1.0438 1)" style="font-family:'Liberation Serif',serif;font-style:normal;font-size:12.5px;stroke-width:0.42px">NSAF</text>
<text class="sf" transform="translate(332.70 32.70) scale(1.0842 1)" style="font-family:'Liberation Serif',serif;font-style:normal;font-size:12.5px;stroke-width:0.42px">Proposed SR-NSAF</text>
<text class="sf" transform="translate(332.70 45.60) scale(1.0911 1)" style="font-family:'Liberation Serif',serif;font-style:normal;font-size:12.5px;stroke-width:0.42px">Proposed MSR-NSAF</text>
<text class="sf" transform="translate(202.51 364.40) scale(1.1664 1)" style="font-family:'Liberation Serif',serif;font-style:normal;font-size:13.9px;stroke-width:0.38px">Iteration Number</text>
<text class="sf" transform="translate(11.00 206.50) rotate(-90) scale(1.1029 1)" style="font-family:'Liberation Serif',serif;font-style:normal;font-size:13.9px;stroke-width:0.38px">NMSD (dB)</text>
<text class="sf" transform="translate(93.30 77.30) scale(1.1368 1)" style="font-family:'Liberation Serif',serif;font-style:normal;font-size:10.4px;stroke-width:0.25px">Input:</text>
<text class="sf" transform="translate(126.40 77.30) scale(0.9654 1)" style="font-family:'Liberation Serif',serif;font-style:normal;font-size:10.4px;stroke-width:0.25px">Colored</text>
<text class="sf" transform="translate(162.50 77.30) scale(1.0462 1)" style="font-family:'Liberation Serif',serif;font-style:normal;font-size:10.4px;stroke-width:0.25px">Gaussian</text>
<text class="sf" transform="translate(206.11 77.30) scale(1.0301 1)" style="font-family:'Liberation Serif',serif;font-style:normal;font-size:10.4px;stroke-width:0.25px">AR(2)</text>
<text class="sf" transform="translate(93.40 89.30) scale(1.0024 1)" style="font-family:'Liberation Serif',serif;font-style:normal;font-size:10.4px;stroke-width:0.25px">Unknown</text>
<text class="sf" transform="translate(138.00 89.30) scale(0.9970 1)" style="font-family:'Liberation Serif',serif;font-style:normal;font-size:10.4px;stroke-width:0.25px">System:</text>
<text class="sf" transform="translate(176.50 89.30) scale(0.9133 1)" style="font-family:'Liberation Serif',serif;font-style:normal;font-size:10.4px;stroke-width:0.25px">Car</text>
<text class="sf" transform="translate(195.10 89.30) scale(0.9669 1)" style="font-family:'Liberation Serif',serif;font-style:normal;font-size:10.4px;stroke-width:0.25px">echo</text>
<text class="sf" transform="translate(216.60 89.30) scale(1.1167 1)" style="font-family:'Liberation Serif',serif;font-style:normal;font-size:10.4px;stroke-width:0.25px">path</text>
<text class="sf" transform="translate(240.70 89.30) scale(0.9503 1)" style="font-family:'Liberation Serif',serif;font-style:normal;font-size:10.4px;stroke-width:0.25px">(</text>
<text class="sf" transform="translate(244.56 89.30) scale(1.2530 1)" style="font-family:'Liberation Serif',serif;font-style:italic;font-size:10.4px;stroke-width:0.12px">M</text>
<text class="sf" transform="translate(271.10 89.30) scale(0.8812 1)" style="font-family:'Liberation Serif',serif;font-style:normal;font-size:10.4px;stroke-width:0.25px">256</text>
<text class="sf" transform="translate(286.20 89.30) scale(0.9015 1)" style="font-family:'Liberation Serif',serif;font-style:normal;font-size:10.4px;stroke-width:0.25px">)</text>
<text class="sf" transform="translate(349.21 135.50) scale(1.2650 1)" style="font-family:'Liberation Serif',serif;font-style:italic;font-size:12.6px;stroke-width:0.1px">μ</text>
<text class="sf" transform="translate(373.90 135.50) scale(1.1368 1)" style="font-family:'Liberation Serif',serif;font-style:normal;font-size:12.6px;stroke-width:0.35px">1</text>
<text class="sf" transform="translate(127.01 308.60) scale(1.3316 1)" style="font-family:'Liberation Serif',serif;font-style:italic;font-size:12.6px;stroke-width:0.1px">μ</text>
<text class="sf" transform="translate(151.90 308.60) scale(1.0940 1)" style="font-family:'Liberation Serif',serif;font-style:normal;font-size:12.6px;stroke-width:0.35px">0.2</text>
<text class="sf" transform="translate(362.11 324.40) scale(1.3815 1)" style="font-family:'Liberation Serif',serif;font-style:italic;font-size:12.6px;stroke-width:0.1px">μ</text>
<text class="sf" transform="translate(387.00 324.40) scale(1.0500 1)" style="font-family:'Liberation Serif',serif;font-style:normal;font-size:12.6px;stroke-width:0.35px">0.05</text>
<path d="M361.30 130.55 H370.30 M361.30 133.40 H370.30" stroke="#000" stroke-width="1.15"/>
<path d="M139.00 304.40 H148.10 M139.00 307.00 H148.10" stroke="#000" stroke-width="1.15"/>
<path d="M374.00 319.95 H383.30 M374.00 322.70 H383.30" stroke="#000" stroke-width="1.15"/>
<path d="M259.90 86.10 H267.40 M259.90 88.70 H267.40" stroke="#000" stroke-width="1.00"/>
</svg>
</body></html>
